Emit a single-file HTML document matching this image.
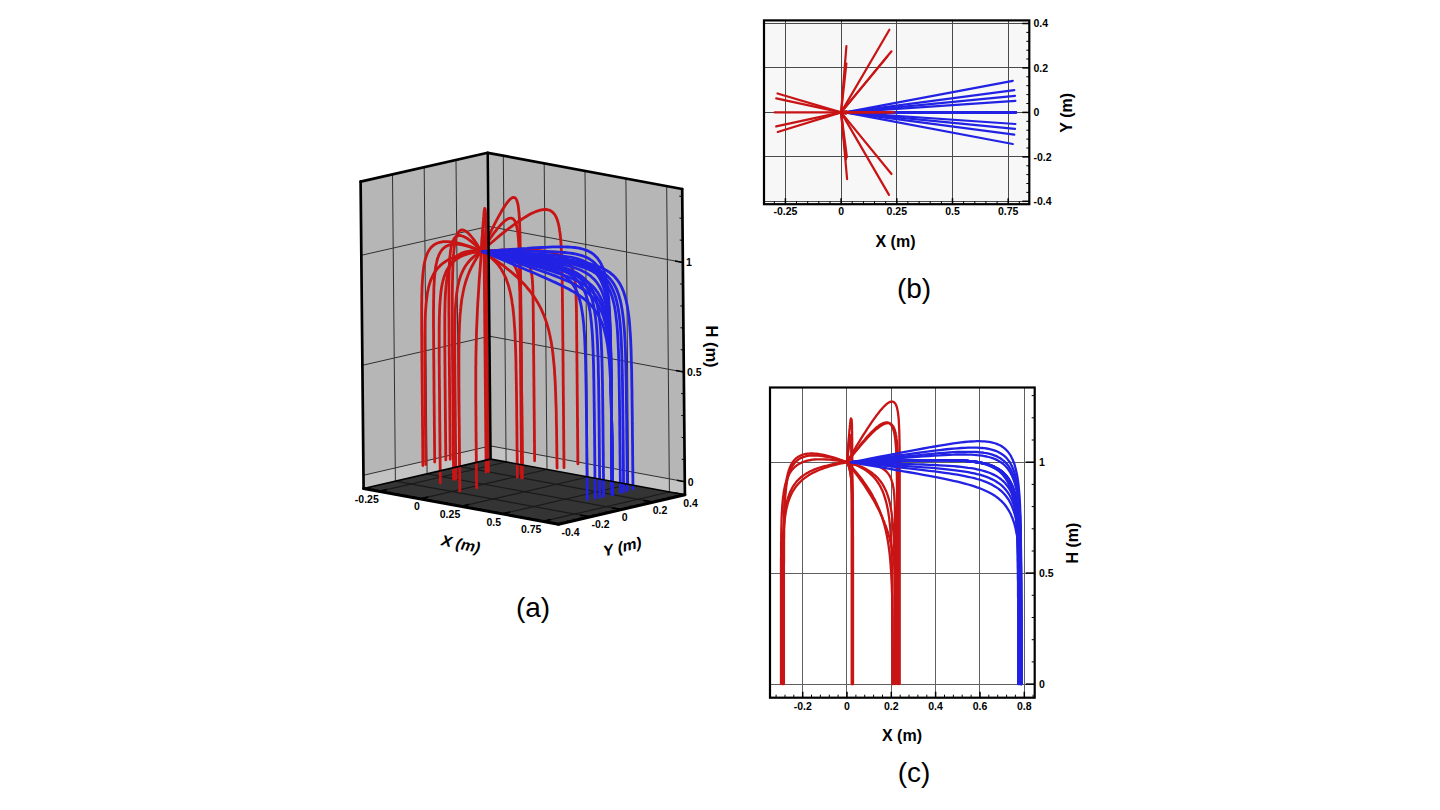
<!DOCTYPE html>
<html><head><meta charset="utf-8"><style>
html,body{margin:0;padding:0;background:#fff;}
svg{display:block;}
</style></head><body>
<svg width="1440" height="810" viewBox="0 0 1440 810">
<rect width="1440" height="810" fill="#fff"/>
<polygon points="363.6,488.5 490.6,459.1 487.7,152.8 360.6,181.6" fill="#b6b6b6" stroke="none" stroke-width="0" />
<polygon points="490.6,459.1 684.9,494.8 682.2,189.0 487.7,152.8" fill="#b6b6b6" stroke="none" stroke-width="0" />
<polygon points="363.6,488.5 490.6,459.1 490.4,445.9 363.4,475.3" fill="#c3c3c3" stroke="none" stroke-width="0" />
<polygon points="490.6,459.1 684.9,494.8 684.8,481.7 490.4,445.9" fill="#c3c3c3" stroke="none" stroke-width="0" />
<polygon points="363.6,488.5 558.5,524.2 684.9,494.8 490.6,459.1" fill="#343434" stroke="none" stroke-width="0" />
<line x1="395.4" y1="481.1" x2="392.5" y2="174.4" stroke="#303030" stroke-width="1" />
<line x1="427.1" y1="473.8" x2="424.2" y2="167.2" stroke="#303030" stroke-width="1" />
<line x1="458.9" y1="466.4" x2="456.0" y2="160.0" stroke="#303030" stroke-width="1" />
<line x1="506.1" y1="462.0" x2="503.3" y2="155.7" stroke="#303030" stroke-width="1" />
<line x1="547.0" y1="469.5" x2="544.2" y2="163.3" stroke="#303030" stroke-width="1" />
<line x1="587.8" y1="477.0" x2="585.0" y2="170.9" stroke="#303030" stroke-width="1" />
<line x1="628.6" y1="484.5" x2="625.9" y2="178.5" stroke="#303030" stroke-width="1" />
<line x1="669.4" y1="492.0" x2="666.7" y2="186.1" stroke="#303030" stroke-width="1" />
<line x1="363.4" y1="475.3" x2="490.4" y2="445.9" stroke="#303030" stroke-width="1" />
<line x1="490.4" y1="445.9" x2="684.8" y2="481.7" stroke="#303030" stroke-width="1" />
<line x1="362.4" y1="365.3" x2="489.4" y2="336.2" stroke="#303030" stroke-width="1" />
<line x1="489.4" y1="336.2" x2="683.9" y2="372.1" stroke="#303030" stroke-width="1" />
<line x1="361.3" y1="255.3" x2="488.4" y2="226.4" stroke="#303030" stroke-width="1" />
<line x1="488.4" y1="226.4" x2="682.9" y2="262.4" stroke="#303030" stroke-width="1" />
<line x1="379.1" y1="491.3" x2="506.1" y2="462.0" stroke="#1a1a1a" stroke-width="1.2" />
<line x1="420.1" y1="498.8" x2="547.0" y2="469.5" stroke="#1a1a1a" stroke-width="1.2" />
<line x1="461.1" y1="506.4" x2="587.8" y2="477.0" stroke="#1a1a1a" stroke-width="1.2" />
<line x1="502.0" y1="513.9" x2="628.6" y2="484.5" stroke="#1a1a1a" stroke-width="1.2" />
<line x1="543.0" y1="521.4" x2="669.4" y2="492.0" stroke="#1a1a1a" stroke-width="1.2" />
<line x1="395.4" y1="481.1" x2="590.2" y2="516.9" stroke="#1a1a1a" stroke-width="1.2" />
<line x1="427.1" y1="473.8" x2="621.8" y2="509.5" stroke="#1a1a1a" stroke-width="1.2" />
<line x1="458.9" y1="466.4" x2="653.4" y2="502.2" stroke="#1a1a1a" stroke-width="1.2" />
<polyline points="481.4,251.3 479.5,249.2 477.6,247.3 475.8,245.6 474.2,244.0 472.6,242.6 471.2,241.4 469.8,240.3 468.5,239.3 467.3,238.5 466.1,237.8 465.1,237.2 464.0,236.7 463.1,236.3 462.2,236.0 461.4,235.7 460.6,235.6 459.8,235.5 459.1,235.5 458.5,235.6 457.9,235.7 457.3,235.9 456.8,236.2 456.2,236.5 455.8,236.9 455.3,237.3 454.9,237.7 454.5,238.2 454.1,238.8 453.8,239.3 453.5,239.9 453.1,240.6 452.9,241.3 452.6,242.0 452.3,242.7 452.1,243.4 451.9,244.2 451.7,245.0 451.5,245.8 451.3,246.7 451.1,247.5 450.9,248.4 450.8,249.3 450.6,250.2 450.5,251.1 450.3,253.0 450.1,254.9 449.9,256.4 449.7,258.8 449.6,261.2 449.4,263.6 449.3,266.1 449.2,268.6 449.1,271.1 449.1,273.6 449.0,276.2 449.0,278.8 448.9,281.4 448.9,284.0 448.9,286.6 448.9,289.3 448.9,291.9 448.9,294.6 448.9,297.2 448.9,299.9 448.9,302.5 448.9,305.2 448.9,307.9 448.9,310.6 448.9,313.2 448.9,315.9 449.0,318.6 449.0,321.3 449.0,324.0 449.0,326.7 449.0,329.4 449.1,332.1 449.1,334.7 449.1,337.4 449.1,340.1 449.1,342.8 449.2,345.5 449.2,348.2 449.2,350.9 449.2,353.6 449.3,356.3 449.3,359.0 449.3,361.7 449.3,364.4 449.4,367.1 449.4,369.8 449.4,372.5 449.4,375.2 449.5,377.9 449.5,380.6 449.5,383.3 449.5,386.0 449.6,388.7 449.6,391.4 449.6,394.1 449.6,396.8 449.7,399.5 449.7,402.1 449.7,404.8 449.7,407.5 449.8,410.2 449.8,412.9 449.8,415.6 449.8,418.3 449.9,421.0 449.9,423.7 449.9,426.4 449.9,429.1 450.0,431.8 450.0,434.5 450.0,437.2 450.0,439.9 450.1,442.6 450.1,445.3 450.1,448.0 450.1,450.7 450.2,453.4 450.2,456.1 450.2,458.8 450.2,459.3" fill="none" stroke="#c81414" stroke-width="2.8" stroke-linejoin="round" stroke-linecap="round" />
<polyline points="481.4,251.3 477.8,249.8 474.4,248.4 471.3,247.2 468.3,246.2 465.4,245.2 462.8,244.4 460.3,243.7 457.9,243.1 455.7,242.6 453.6,242.3 451.7,242.0 449.9,241.8 448.1,241.6 446.5,241.6 445.0,241.6 443.5,241.7 442.2,241.9 440.9,242.1 439.7,242.3 438.6,242.7 437.6,243.0 436.6,243.5 435.6,243.9 434.8,244.4 433.9,245.0 433.2,245.5 432.4,246.2 431.8,246.8 431.1,247.5 430.5,248.2 429.9,248.9 429.4,249.7 428.9,250.4 428.4,251.3 428.0,252.1 427.6,252.9 427.2,253.8 426.8,254.7 426.5,255.6 426.2,256.5 425.9,257.4 425.6,258.3 425.3,259.3 425.1,260.3 424.8,261.2 424.4,263.2 424.0,265.2 423.6,268.2 423.3,270.6 423.0,273.1 422.8,275.6 422.6,278.1 422.4,280.7 422.3,283.3 422.1,285.9 422.0,288.5 422.0,291.1 421.9,293.7 421.8,296.4 421.8,299.0 421.8,301.7 421.7,304.3 421.7,307.0 421.7,309.7 421.7,312.3 421.7,315.0 421.7,317.7 421.7,320.4 421.7,323.1 421.7,325.7 421.7,328.4 421.7,331.1 421.7,333.8 421.8,336.5 421.8,339.2 421.8,341.9 421.8,344.6 421.8,347.3 421.8,350.0 421.9,352.7 421.9,355.4 421.9,358.1 421.9,360.8 422.0,363.5 422.0,366.1 422.0,368.8 422.0,371.5 422.1,374.2 422.1,376.9 422.1,379.6 422.1,382.3 422.2,385.0 422.2,387.7 422.2,390.4 422.2,393.1 422.3,395.8 422.3,398.5 422.3,401.2 422.3,403.9 422.4,406.6 422.4,409.3 422.4,412.0 422.4,414.7 422.5,417.4 422.5,420.1 422.5,422.8 422.5,425.5 422.6,428.2 422.6,430.9 422.6,433.6 422.6,436.3 422.7,439.0 422.7,441.7 422.7,444.4 422.7,447.1 422.8,449.8 422.8,452.5 422.8,455.2 422.8,457.9 422.9,460.6 422.9,463.3 422.9,465.6" fill="none" stroke="#c81414" stroke-width="2.8" stroke-linejoin="round" stroke-linecap="round" />
<polyline points="481.4,251.3 478.5,250.1 475.8,249.0 473.2,248.0 470.8,247.1 468.6,246.4 466.4,245.8 464.4,245.3 462.5,244.9 460.7,244.6 459.1,244.3 457.5,244.2 456.0,244.1 454.6,244.1 453.3,244.2 452.1,244.4 451.0,244.5 449.9,244.8 448.9,245.1 447.9,245.5 447.0,245.9 446.2,246.3 445.4,246.8 444.6,247.4 443.9,247.9 443.2,248.5 442.6,249.2 442.0,249.8 441.5,250.5 441.0,251.3 440.5,252.0 440.0,252.8 439.6,253.6 439.2,254.4 438.8,255.2 438.5,256.1 438.2,257.0 437.8,257.9 437.6,258.8 437.3,259.7 437.0,260.6 436.8,261.6 436.6,262.5 436.1,264.5 435.8,266.5 435.5,268.5 435.3,270.1 435.0,272.5 434.7,275.0 434.5,277.5 434.3,280.0 434.2,282.6 434.0,285.1 433.9,287.7 433.8,290.3 433.8,292.9 433.7,295.6 433.7,298.2 433.6,300.9 433.6,303.5 433.6,306.2 433.5,308.8 433.5,311.5 433.5,314.2 433.5,316.8 433.5,319.5 433.5,322.2 433.5,324.9 433.5,327.6 433.6,330.3 433.6,332.9 433.6,335.6 433.6,338.3 433.6,341.0 433.6,343.7 433.7,346.4 433.7,349.1 433.7,351.8 433.7,354.5 433.7,357.2 433.8,359.9 433.8,362.6 433.8,365.3 433.8,368.0 433.9,370.7 433.9,373.4 433.9,376.1 433.9,378.8 434.0,381.5 434.0,384.2 434.0,386.9 434.0,389.5 434.0,392.2 434.1,394.9 434.1,397.6 434.1,400.3 434.1,403.0 434.2,405.7 434.2,408.4 434.2,411.1 434.2,413.8 434.3,416.5 434.3,419.2 434.3,421.9 434.3,424.6 434.4,427.3 434.4,430.0 434.4,432.7 434.5,435.4 434.5,438.1 434.5,440.8 434.5,443.5 434.6,446.2 434.6,448.9 434.6,451.6 434.6,454.3 434.7,457.0 434.7,459.7 434.7,462.0" fill="none" stroke="#c81414" stroke-width="2.8" stroke-linejoin="round" stroke-linecap="round" />
<polyline points="481.4,251.3 479.2,251.1 477.1,250.9 475.1,250.9 473.3,250.9 471.5,251.0 469.9,251.1 468.3,251.3 466.9,251.6 465.5,251.9 464.2,252.3 463.0,252.7 461.9,253.1 460.8,253.6 459.8,254.2 458.9,254.7 458.0,255.3 457.2,256.0 456.4,256.6 455.7,257.3 455.0,258.1 454.3,258.8 453.7,259.6 453.1,260.4 452.6,261.2 452.1,262.1 451.6,262.9 451.2,263.8 450.7,264.7 450.4,265.6 450.0,266.5 449.6,267.5 449.3,268.4 449.0,269.4 448.7,270.3 448.4,271.3 448.2,272.3 448.0,273.3 447.7,274.3 447.5,275.4 447.3,276.4 447.1,277.4 447.0,278.5 446.8,279.5 446.7,280.6 446.5,281.7 446.4,282.7 446.3,283.8 446.2,284.9 446.0,286.0 445.8,289.0 445.6,291.6 445.4,294.2 445.3,296.8 445.2,299.4 445.1,302.0 445.0,304.7 445.0,307.3 444.9,310.0 444.9,312.6 444.8,315.3 444.8,318.0 444.8,320.6 444.8,323.3 444.8,326.0 444.8,328.7 444.8,331.3 444.8,334.0 444.8,336.7 444.8,339.4 444.8,342.1 444.8,344.8 444.8,347.5 444.8,350.2 444.9,352.9 444.9,355.6 444.9,358.3 444.9,360.9 444.9,363.6 445.0,366.3 445.0,369.0 445.0,371.7 445.0,374.4 445.0,377.1 445.1,379.8 445.1,382.5 445.1,385.2 445.1,387.9 445.2,390.6 445.2,393.3 445.2,396.0 445.2,398.7 445.3,401.4 445.3,404.1 445.3,406.8 445.3,409.5 445.4,412.2 445.4,414.9 445.4,417.6 445.4,420.3 445.5,423.0 445.5,425.7 445.5,428.4 445.5,431.1 445.6,433.8 445.6,436.4 445.6,439.1 445.6,441.8 445.7,444.5 445.7,447.2 445.7,449.9 445.7,452.6 445.8,455.3 445.8,458.0 445.8,459.9" fill="none" stroke="#c81414" stroke-width="2.8" stroke-linejoin="round" stroke-linecap="round" />
<polyline points="481.4,251.3 478.0,251.7 474.8,252.1 471.8,252.5 468.9,253.0 466.3,253.6 463.8,254.1 461.4,254.7 459.2,255.4 457.1,256.1 455.1,256.8 453.3,257.5 451.5,258.2 449.9,259.0 448.3,259.8 446.9,260.6 445.5,261.5 444.3,262.3 443.1,263.2 441.9,264.1 440.9,265.0 439.9,265.9 438.9,266.9 438.1,267.8 437.2,268.8 436.5,269.8 435.7,270.8 435.0,271.7 434.4,272.8 433.8,273.8 433.2,274.8 432.7,275.8 432.2,276.9 431.7,277.9 431.3,279.0 430.8,280.0 430.4,281.1 430.1,282.2 429.7,283.2 429.4,284.3 429.1,285.4 428.8,286.5 428.5,287.6 428.3,288.7 428.1,289.8 427.8,290.9 427.6,292.0 427.4,293.1 427.3,294.2 427.1,295.3 426.7,298.5 426.4,301.1 426.1,303.7 425.9,306.4 425.7,309.0 425.5,311.7 425.4,314.4 425.3,317.0 425.2,319.7 425.1,322.4 425.1,325.0 425.0,327.7 425.0,330.4 424.9,333.1 424.9,335.8 424.9,338.5 424.9,341.2 424.9,343.9 424.9,346.5 424.9,349.2 424.9,351.9 424.9,354.6 424.9,357.3 424.9,360.0 424.9,362.7 424.9,365.4 425.0,368.1 425.0,370.8 425.0,373.5 425.0,376.2 425.0,378.9 425.1,381.6 425.1,384.3 425.1,387.0 425.1,389.7 425.1,392.4 425.2,395.1 425.2,397.8 425.2,400.5 425.2,403.2 425.3,405.9 425.3,408.6 425.3,411.3 425.3,414.0 425.4,416.7 425.4,419.4 425.4,422.1 425.4,424.8 425.5,427.5 425.5,430.1 425.5,432.8 425.5,435.5 425.6,438.2 425.6,440.9 425.6,443.6 425.6,446.3 425.7,449.0 425.7,451.7 425.7,454.4 425.7,457.1 425.8,459.8 425.8,462.5 425.8,464.5" fill="none" stroke="#c81414" stroke-width="2.8" stroke-linejoin="round" stroke-linecap="round" />
<polyline points="481.4,251.3 481.7,246.9 481.9,242.9 482.2,239.2 482.4,235.7 482.6,232.6 482.7,229.7 482.9,227.0 483.1,224.6 483.2,222.4 483.4,220.4 483.5,218.6 483.7,216.9 483.8,215.5 483.9,214.2 484.0,213.0 484.2,211.1 484.4,209.7 484.7,208.4 485.2,209.3 485.4,210.7 485.5,212.5 485.6,213.9 485.6,215.4 485.7,217.0 485.7,218.6 485.8,220.4 485.8,221.8 485.9,224.0 485.9,226.3 486.0,228.7 486.0,231.1 486.0,233.6 486.1,236.1 486.1,238.7 486.2,241.3 486.2,243.9 486.2,246.6 486.3,249.3 486.3,252.0 486.3,254.7 486.4,257.4 486.4,260.1 486.4,262.9 486.4,265.7 486.5,268.4 486.5,271.2 486.5,274.0 486.6,276.8 486.6,279.6 486.6,282.4 486.6,285.2 486.7,288.0 486.7,290.8 486.7,293.6 486.7,296.4 486.8,299.2 486.8,302.0 486.8,304.8 486.8,307.7 486.9,310.5 486.9,313.3 486.9,316.1 487.0,318.9 487.0,321.7 487.0,324.6 487.0,327.4 487.1,330.2 487.1,333.0 487.1,335.9 487.1,338.7 487.2,341.5 487.2,344.3 487.2,347.1 487.2,350.0 487.3,352.8 487.3,355.6 487.3,358.4 487.3,361.2 487.4,364.1 487.4,366.9 487.4,369.7 487.5,372.5 487.5,375.4 487.5,378.2 487.5,381.0 487.6,383.8 487.6,386.6 487.6,389.5 487.6,392.3 487.7,395.1 487.7,397.9 487.7,400.8 487.7,403.6 487.8,406.4 487.8,409.2 487.8,412.0 487.8,414.9 487.9,417.7 487.9,420.5 487.9,423.3 487.9,426.2 488.0,429.0 488.0,431.8 488.0,434.6 488.1,437.4 488.1,440.3 488.1,443.1 488.1,445.9 488.2,448.7 488.2,451.6 488.2,454.4 488.2,457.2 488.3,460.0 488.3,462.8 488.3,465.7 488.3,468.5 488.4,471.3 488.4,471.5" fill="none" stroke="#c81414" stroke-width="2.8" stroke-linejoin="round" stroke-linecap="round" />
<polyline points="481.4,251.3 481.6,248.7 481.7,246.2 481.8,244.0 481.9,242.0 482.0,240.2 482.1,238.6 482.2,237.1 482.3,235.8 482.4,234.6 482.6,232.7 482.7,231.3 482.8,230.4 483.1,229.6 483.3,230.6 483.4,231.9 483.5,233.5 483.6,234.8 483.6,236.3 483.7,237.8 483.7,239.5 483.8,241.2 483.8,243.0 483.9,244.9 483.9,246.8 483.9,248.8 484.0,251.7 484.0,254.2 484.1,256.7 484.1,259.3 484.1,261.8 484.2,264.5 484.2,267.1 484.2,269.8 484.3,272.5 484.3,275.2 484.3,277.9 484.3,280.6 484.4,283.4 484.4,286.1 484.4,288.9 484.5,291.7 484.5,294.5 484.5,297.3 484.5,300.0 484.6,302.8 484.6,305.6 484.6,308.4 484.6,311.3 484.7,314.1 484.7,316.9 484.7,319.7 484.7,322.5 484.8,325.3 484.8,328.1 484.8,330.9 484.9,333.8 484.9,336.6 484.9,339.4 484.9,342.2 485.0,345.0 485.0,347.9 485.0,350.7 485.0,353.5 485.1,356.3 485.1,359.1 485.1,362.0 485.1,364.8 485.2,367.6 485.2,370.4 485.2,373.2 485.2,376.1 485.3,378.9 485.3,381.7 485.3,384.5 485.4,387.4 485.4,390.2 485.4,393.0 485.4,395.8 485.5,398.6 485.5,401.5 485.5,404.3 485.5,407.1 485.6,409.9 485.6,412.8 485.6,415.6 485.6,418.4 485.7,421.2 485.7,424.0 485.7,426.9 485.7,429.7 485.8,432.5 485.8,435.3 485.8,438.2 485.9,441.0 485.9,443.8 485.9,446.6 485.9,449.4 486.0,452.3 486.0,455.1 486.0,457.9 486.0,460.7 486.1,463.5 486.1,466.4 486.1,469.2 486.1,471.9" fill="none" stroke="#c81414" stroke-width="2.8" stroke-linejoin="round" stroke-linecap="round" />
<polyline points="481.4,251.3 483.7,246.4 485.8,241.9 487.9,237.7 489.7,233.8 491.5,230.2 493.2,226.8 494.8,223.7 496.2,220.9 497.6,218.3 498.9,215.9 500.2,213.7 501.3,211.6 502.4,209.8 503.4,208.1 504.4,206.6 505.3,205.2 506.2,204.0 507.0,202.9 507.7,201.9 508.5,201.0 509.1,200.3 509.8,199.6 510.4,199.0 510.9,198.6 511.9,197.9 512.8,197.5 513.7,197.4 514.7,197.6 515.6,198.3 516.3,199.3 516.7,200.2 517.1,201.2 517.4,202.3 517.7,203.5 518.0,204.7 518.3,206.7 518.5,208.3 518.7,210.1 518.9,211.9 519.1,213.8 519.2,215.7 519.3,217.7 519.5,219.7 519.6,221.7 519.6,223.7 519.7,225.8 519.8,227.9 519.9,230.0 519.9,232.1 520.0,234.3 520.0,236.4 520.1,238.6 520.1,240.8 520.1,243.0 520.2,245.1 520.2,247.3 520.2,249.5 520.3,251.7 520.3,253.9 520.3,256.1 520.4,258.4 520.4,260.6 520.4,262.8 520.4,265.0 520.5,267.2 520.5,269.4 520.5,271.6 520.5,273.9 520.6,276.1 520.6,278.3 520.6,280.5 520.6,282.8 520.6,285.0 520.7,287.2 520.7,289.4 520.7,291.7 520.7,293.9 520.8,296.1 520.8,298.3 520.8,300.6 520.8,302.8 520.8,305.0 520.9,307.2 520.9,309.5 520.9,311.7 520.9,313.9 520.9,316.1 521.0,318.4 521.0,320.6 521.0,322.8 521.0,325.0 521.0,327.3 521.1,329.5 521.1,331.7 521.1,334.0 521.1,336.2 521.1,338.4 521.2,340.6 521.2,342.9 521.2,345.1 521.2,347.3 521.2,349.5 521.3,351.8 521.3,354.0 521.3,356.2 521.3,358.4 521.4,360.7 521.4,362.9 521.4,365.1 521.4,367.3 521.4,369.6 521.5,371.8 521.5,374.0 521.5,376.3 521.5,378.5 521.5,380.7 521.6,382.9 521.6,385.2 521.6,387.4 521.6,389.6 521.6,391.8 521.7,394.1 521.7,396.3 521.7,398.5 521.7,400.7 521.7,403.0 521.8,405.2 521.8,407.4 521.8,409.6 521.8,411.9 521.8,414.1 521.9,416.3 521.9,418.5 521.9,420.8 521.9,423.0 521.9,425.2 522.0,427.5 522.0,429.7 522.0,431.9 522.0,434.1 522.0,436.4 522.1,438.6 522.1,440.8 522.1,443.0 522.1,445.3 522.2,447.5 522.2,449.7 522.2,451.9 522.2,454.2 522.2,456.4 522.3,458.6 522.3,460.8 522.3,463.1 522.3,465.3 522.3,467.5 522.4,469.7 522.4,472.0 522.4,474.2 522.4,476.4 522.4,478.1" fill="none" stroke="#c81414" stroke-width="2.8" stroke-linejoin="round" stroke-linecap="round" />
<polyline points="481.4,251.3 483.7,247.9 485.8,244.7 487.8,241.8 489.6,239.1 491.4,236.6 493.0,234.4 494.5,232.3 496.0,230.5 497.4,228.7 498.7,227.2 499.9,225.8 501.0,224.6 502.1,223.5 503.1,222.5 504.1,221.6 504.9,220.8 505.8,220.2 506.6,219.6 507.3,219.2 508.0,218.8 509.3,218.3 510.5,218.1 511.5,218.2 512.4,218.5 513.2,219.0 513.9,219.6 514.5,220.5 515.0,221.4 515.5,222.5 516.0,223.7 516.4,225.0 516.7,226.4 517.0,227.9 517.3,229.4 517.5,230.6 517.8,232.5 518.0,234.4 518.2,236.5 518.4,238.5 518.5,240.6 518.7,242.8 518.8,245.0 518.9,247.2 519.0,249.4 519.1,251.7 519.2,253.9 519.2,256.2 519.3,258.5 519.4,260.8 519.4,263.1 519.5,265.5 519.5,267.8 519.6,270.1 519.6,272.5 519.6,274.8 519.7,277.2 519.7,279.6 519.7,281.9 519.8,284.3 519.8,286.6 519.8,289.0 519.9,291.4 519.9,293.8 519.9,296.1 519.9,298.5 520.0,300.9 520.0,303.3 520.0,305.6 520.0,308.0 520.1,310.4 520.1,312.8 520.1,315.2 520.1,317.6 520.1,319.9 520.2,322.3 520.2,324.7 520.2,327.1 520.2,329.5 520.3,331.8 520.3,334.2 520.3,336.6 520.3,339.0 520.4,341.4 520.4,343.8 520.4,346.1 520.4,348.5 520.4,350.9 520.5,353.3 520.5,355.7 520.5,358.1 520.5,360.4 520.5,362.8 520.6,365.2 520.6,367.6 520.6,370.0 520.6,372.4 520.7,374.7 520.7,377.1 520.7,379.5 520.7,381.9 520.7,384.3 520.8,386.6 520.8,389.0 520.8,391.4 520.8,393.8 520.9,396.2 520.9,398.6 520.9,400.9 520.9,403.3 520.9,405.7 521.0,408.1 521.0,410.5 521.0,412.9 521.0,415.2 521.1,417.6 521.1,420.0 521.1,422.4 521.1,424.8 521.1,427.2 521.2,429.5 521.2,431.9 521.2,434.3 521.2,436.7 521.3,439.1 521.3,441.4 521.3,443.8 521.3,446.2 521.3,448.6 521.4,451.0 521.4,453.4 521.4,455.7 521.4,458.1 521.4,460.5 521.5,462.9 521.5,465.3 521.5,467.7 521.5,470.0 521.6,472.4 521.6,474.8 521.6,477.2 521.6,477.9" fill="none" stroke="#c81414" stroke-width="2.8" stroke-linejoin="round" stroke-linecap="round" />
<polyline points="481.4,251.3 483.5,252.4 485.4,253.6 487.2,254.7 488.8,255.9 490.4,257.2 491.9,258.4 493.3,259.7 494.6,261.0 495.9,262.3 497.1,263.6 498.2,264.9 499.2,266.3 500.2,267.6 501.1,269.0 501.9,270.4 502.8,271.8 503.5,273.3 504.3,274.7 504.9,276.1 505.6,277.6 506.2,279.0 506.7,280.5 507.3,282.0 507.8,283.5 508.3,284.9 508.7,286.4 509.1,287.9 509.5,289.5 509.9,291.0 510.3,292.5 510.6,294.0 510.9,295.5 511.2,297.1 511.5,298.6 511.8,300.1 512.0,301.7 512.2,303.2 512.5,304.8 512.7,306.3 512.9,307.9 513.1,309.5 513.2,311.0 513.4,312.6 513.6,314.1 513.7,315.7 513.9,317.3 514.0,318.9 514.1,320.4 514.2,322.0 514.5,326.5 514.8,330.1 515.0,333.8 515.1,337.5 515.3,341.2 515.4,344.9 515.6,348.6 515.7,352.4 515.8,356.1 515.9,359.8 516.0,363.5 516.0,367.2 516.1,371.0 516.2,374.7 516.2,378.4 516.3,382.1 516.4,385.9 516.4,389.6 516.5,393.3 516.5,397.0 516.6,400.8 516.6,404.5 516.7,408.2 516.7,411.9 516.7,415.7 516.8,419.4 516.8,423.1 516.9,426.9 516.9,430.6 516.9,434.3 517.0,438.1 517.0,441.8 517.0,445.5 517.1,449.2 517.1,453.0 517.2,456.7 517.2,460.4 517.2,464.2 517.3,467.9 517.3,471.6 517.3,475.4 517.4,477.1" fill="none" stroke="#c81414" stroke-width="2.8" stroke-linejoin="round" stroke-linecap="round" />
<polyline points="481.4,251.3 486.2,247.1 490.7,243.3 494.9,239.7 498.8,236.4 502.5,233.4 506.0,230.6 509.3,228.1 512.4,225.8 515.4,223.7 518.1,221.7 520.7,220.0 523.1,218.4 525.4,217.0 527.5,215.7 529.5,214.6 531.4,213.6 533.2,212.7 534.9,212.0 536.5,211.3 538.0,210.8 539.4,210.4 540.7,210.0 542.0,209.8 543.1,209.6 544.2,209.5 545.3,209.5 546.2,209.5 547.2,209.6 548.0,209.8 548.8,210.0 549.6,210.3 550.3,210.6 551.0,211.0 552.2,211.8 553.3,212.9 554.3,214.0 555.2,215.3 555.9,216.7 556.6,218.2 557.2,219.8 557.8,221.5 558.4,223.9 558.9,226.0 559.3,228.2 559.6,230.4 560.0,232.7 560.2,235.0 560.5,237.4 560.7,239.8 560.9,242.2 561.0,244.6 561.2,247.1 561.3,249.6 561.4,252.1 561.5,254.6 561.6,257.1 561.7,259.7 561.8,262.2 561.9,264.8 561.9,267.3 562.0,269.9 562.0,272.4 562.1,275.0 562.1,277.6 562.2,280.2 562.2,282.8 562.2,285.3 562.3,287.9 562.3,290.5 562.4,293.1 562.4,295.7 562.4,298.3 562.4,300.9 562.5,303.5 562.5,306.1 562.5,308.7 562.6,311.3 562.6,313.9 562.6,316.5 562.6,319.1 562.7,321.7 562.7,324.3 562.7,326.9 562.7,329.5 562.8,332.1 562.8,334.7 562.8,337.3 562.8,339.9 562.9,342.5 562.9,345.1 562.9,347.7 562.9,350.3 563.0,352.9 563.0,355.5 563.0,358.1 563.0,360.7 563.1,363.3 563.1,365.9 563.1,368.5 563.1,371.1 563.1,373.7 563.2,376.3 563.2,378.9 563.2,381.5 563.2,384.1 563.3,386.7 563.3,389.3 563.3,391.9 563.3,394.5 563.4,397.1 563.4,399.7 563.4,402.3 563.4,404.9 563.5,407.5 563.5,410.1 563.5,412.7 563.5,415.3 563.6,417.9 563.6,420.5 563.6,423.1 563.6,425.7 563.6,428.3 563.7,430.9 563.7,433.5 563.7,436.1 563.7,438.7 563.8,441.3 563.8,443.9 563.8,446.5 563.8,449.1 563.9,451.7 563.9,454.3 563.9,456.9 563.9,459.5 564.0,462.1 564.0,464.7 564.0,467.3 564.0,467.7" fill="none" stroke="#c81414" stroke-width="2.8" stroke-linejoin="round" stroke-linecap="round" />
<polyline points="481.4,251.3 485.9,254.0 490.0,256.6 493.9,259.1 497.6,261.6 501.0,264.0 504.3,266.4 507.3,268.8 510.2,271.1 512.9,273.4 515.4,275.6 517.8,277.8 520.1,280.0 522.2,282.2 524.2,284.3 526.1,286.4 527.8,288.5 529.5,290.5 531.0,292.5 532.5,294.6 533.9,296.6 535.2,298.5 536.4,300.5 537.6,302.4 538.7,304.4 539.7,306.3 540.7,308.2 541.6,310.1 542.4,311.9 543.2,313.8 544.0,315.6 544.7,317.5 545.4,319.3 546.0,321.2 546.6,323.0 547.2,324.8 547.7,326.6 548.2,328.4 548.7,330.2 549.1,332.0 549.5,333.8 549.9,335.5 550.3,337.3 550.6,339.1 551.0,340.8 551.3,342.6 551.6,344.3 551.8,346.1 552.1,347.8 552.4,349.6 553.0,354.5 553.4,358.5 553.8,362.5 554.2,366.6 554.5,370.6 554.7,374.6 555.0,378.6 555.2,382.5 555.4,386.5 555.5,390.5 555.7,394.5 555.8,398.4 555.9,402.4 556.1,406.4 556.2,410.3 556.3,414.3 556.3,418.3 556.4,422.2 556.5,426.2 556.6,430.1 556.6,434.1 556.7,438.0 556.7,442.0 556.8,445.9 556.8,449.9 556.9,453.8 556.9,457.8 557.0,461.7 557.0,465.7 557.1,468.0" fill="none" stroke="#c81414" stroke-width="2.8" stroke-linejoin="round" stroke-linecap="round" />
<polyline points="481.4,251.3 487.1,250.9 492.3,250.5 497.3,250.3 502.0,250.0 506.4,249.8 510.5,249.7 514.4,249.6 518.1,249.6 521.5,249.6 524.7,249.6 527.8,249.7 530.6,249.8 533.3,250.0 535.9,250.1 538.2,250.3 540.5,250.6 542.6,250.8 544.6,251.1 546.4,251.4 548.2,251.7 549.9,252.1 551.4,252.4 552.9,252.8 554.2,253.2 555.5,253.6 556.8,254.0 557.9,254.5 559.0,254.9 560.0,255.4 560.9,255.9 561.8,256.4 562.7,256.9 563.5,257.4 564.2,257.9 564.9,258.4 565.6,259.0 566.2,259.5 566.8,260.0 567.4,260.6 568.4,261.7 569.3,262.9 570.1,264.0 570.8,265.2 571.4,266.4 572.1,268.1 572.7,269.6 573.2,271.0 573.6,272.5 573.9,273.9 574.2,275.4 574.5,276.9 574.7,278.4 574.9,279.9 575.1,281.4 575.3,282.9 575.4,284.4 575.5,285.9 575.7,287.5 575.8,289.0 575.8,290.5 575.9,292.0 576.0,293.5 576.0,295.1 576.1,296.6 576.1,298.1 576.2,299.7 576.2,301.2 576.3,302.7 576.3,304.3 576.3,305.8 576.4,307.3 576.4,308.9 576.4,310.4 576.4,311.9 576.5,313.5 576.5,315.0 576.5,316.5 576.5,318.1 576.5,319.6 576.6,321.1 576.6,322.7 576.6,324.2 576.6,325.7 576.6,327.3 576.6,328.8 576.7,330.3 576.7,331.9 576.7,333.4 576.7,334.9 576.7,336.5 576.7,338.0 576.7,339.5 576.8,341.1 576.8,342.6 576.8,344.1 576.8,345.7 576.8,347.2 576.8,348.8 576.8,350.3 576.9,351.8 576.9,353.4 576.9,354.9 576.9,356.4 576.9,358.0 576.9,359.5 576.9,361.0 577.0,362.6 577.0,364.1 577.0,365.6 577.0,367.2 577.0,368.7 577.0,370.2 577.0,371.8 577.1,373.3 577.1,374.8 577.1,376.4 577.1,377.9 577.1,379.5 577.1,381.0 577.1,382.5 577.2,384.1 577.2,385.6 577.2,387.1 577.2,388.7 577.2,390.2 577.2,391.7 577.2,393.3 577.2,394.8 577.3,396.3 577.3,397.9 577.3,399.4 577.3,400.9 577.3,402.5 577.3,404.0 577.3,405.5 577.4,407.1 577.4,408.6 577.4,410.1 577.4,411.7 577.4,413.2 577.4,414.8 577.4,416.3 577.5,417.8 577.5,419.4 577.5,420.9 577.5,422.4 577.5,424.0 577.5,425.5 577.5,427.0 577.6,428.6 577.6,430.1 577.6,431.6 577.6,433.2 577.6,434.7 577.6,436.2 577.6,437.8 577.7,439.3 577.7,440.8 577.7,442.4 577.7,443.9 577.7,445.4 577.7,447.0 577.7,448.5 577.8,450.0 577.8,451.6 577.8,453.1 577.8,454.7 577.8,456.2 577.8,457.7 577.8,459.3 577.8,460.8 577.9,462.3 577.9,463.9 577.9,463.9" fill="none" stroke="#c81414" stroke-width="2.8" stroke-linejoin="round" stroke-linecap="round" />
<polyline points="481.4,251.3 481.1,256.0 480.7,260.5 480.4,264.8 480.1,268.9 479.8,272.9 479.5,276.7 479.2,280.4 479.0,283.9 478.8,287.3 478.6,290.6 478.4,293.8 478.2,296.8 478.0,299.8 477.8,302.6 477.7,305.4 477.5,308.1 477.4,310.7 477.3,313.2 477.2,315.7 477.1,318.1 477.0,320.4 476.9,322.7 476.8,324.9 476.7,327.1 476.6,329.2 476.5,331.2 476.5,333.3 476.4,335.3 476.4,337.2 476.3,339.1 476.3,341.0 476.2,342.9 476.2,344.7 476.1,346.5 476.1,348.2 476.1,350.0 476.0,351.7 476.0,353.4 476.0,355.0 475.9,356.7 475.9,358.3 475.9,360.0 475.9,361.6 475.9,363.1 475.9,364.7 475.8,366.3 475.8,367.8 475.8,369.4 475.8,370.9 475.8,375.1 475.8,378.6 475.8,382.0 475.8,385.4 475.8,388.7 475.8,392.0 475.8,395.3 475.8,398.6 475.8,401.8 475.9,405.1 475.9,408.3 475.9,411.5 475.9,414.7 476.0,417.9 476.0,421.1 476.0,424.3 476.0,427.4 476.0,430.6 476.1,433.8 476.1,436.9 476.1,440.1 476.2,443.3 476.2,446.4 476.2,449.6 476.2,452.7 476.3,455.8 476.3,459.0 476.3,462.1 476.3,465.3 476.4,468.4 476.4,471.6 476.4,474.7 476.5,477.8 476.5,481.0 476.5,484.1 476.6,487.3 476.6,487.9" fill="none" stroke="#c81414" stroke-width="2.8" stroke-linejoin="round" stroke-linecap="round" />
<polyline points="481.4,251.3 480.1,253.2 478.7,255.0 477.5,256.8 476.3,258.6 475.2,260.4 474.2,262.1 473.3,263.8 472.4,265.5 471.5,267.2 470.7,268.9 469.9,270.5 469.2,272.1 468.6,273.7 467.9,275.3 467.4,276.9 466.8,278.4 466.3,280.0 465.8,281.5 465.4,283.0 464.9,284.5 464.5,286.0 464.1,287.5 463.8,289.0 463.5,290.5 463.1,292.0 462.9,293.4 462.6,294.9 462.3,296.3 462.1,297.8 461.8,299.2 461.6,300.6 461.4,302.1 461.3,303.5 461.1,304.9 460.9,306.3 460.8,307.7 460.6,309.1 460.5,310.5 460.4,311.9 460.2,313.3 460.1,314.7 460.0,316.1 459.9,317.5 459.8,318.9 459.8,320.3 459.7,321.6 459.6,323.0 459.5,324.4 459.5,325.8 459.3,329.6 459.2,332.8 459.1,336.0 459.1,339.2 459.0,342.4 459.0,345.5 458.9,348.7 458.9,351.9 458.9,355.0 458.9,358.2 458.9,361.3 458.9,364.5 458.9,367.6 458.9,370.8 458.9,373.9 458.9,377.1 458.9,380.2 458.9,383.3 458.9,386.5 459.0,389.6 459.0,392.8 459.0,395.9 459.0,399.1 459.0,402.2 459.1,405.3 459.1,408.5 459.1,411.6 459.1,414.8 459.2,417.9 459.2,421.0 459.2,424.2 459.3,427.3 459.3,430.4 459.3,433.6 459.3,436.7 459.4,439.9 459.4,443.0 459.4,446.1 459.5,449.3 459.5,452.4 459.5,455.6 459.5,458.7 459.6,461.8 459.6,465.0 459.6,468.1 459.7,471.2 459.7,474.4 459.7,477.5 459.7,480.7 459.8,483.8 459.8,486.9 459.8,490.1 459.8,491.1" fill="none" stroke="#c81414" stroke-width="2.8" stroke-linejoin="round" stroke-linecap="round" />
<polyline points="481.4,251.3 484.5,251.2 487.4,251.2 490.1,251.2 492.6,251.3 495.0,251.3 497.2,251.4 499.3,251.6 501.3,251.7 503.2,251.9 504.9,252.1 506.6,252.3 508.1,252.5 509.6,252.8 511.0,253.1 512.3,253.3 513.5,253.6 514.6,254.0 515.7,254.3 516.7,254.6 517.7,255.0 518.6,255.3 519.4,255.7 520.2,256.1 521.0,256.5 521.7,256.9 522.3,257.3 523.0,257.7 523.5,258.1 524.6,259.0 525.6,259.9 526.4,260.8 527.1,261.7 527.8,262.7 528.4,263.6 528.9,264.6 529.4,265.6 529.8,266.6 530.1,267.6 530.7,269.6 531.0,270.8 531.3,272.0 531.5,273.2 531.7,274.4 531.9,275.6 532.0,276.8 532.2,278.1 532.3,279.3 532.4,280.5 532.5,281.8 532.5,283.0 532.6,284.3 532.7,285.5 532.8,288.0 532.9,290.5 532.9,293.0 533.0,295.5 533.1,298.0 533.1,300.5 533.1,303.0 533.2,305.5 533.2,308.0 533.2,310.5 533.3,313.0 533.3,315.5 533.3,318.0 533.3,320.5 533.4,323.1 533.4,325.6 533.4,328.1 533.4,330.6 533.5,333.1 533.5,335.6 533.5,338.1 533.5,340.6 533.5,343.1 533.6,345.6 533.6,348.1 533.6,350.6 533.6,353.1 533.7,355.7 533.7,358.2 533.7,360.7 533.7,363.2 533.8,365.7 533.8,368.2 533.8,370.7 533.8,373.2 533.8,375.7 533.9,378.2 533.9,380.7 533.9,383.2 533.9,385.7 534.0,388.2 534.0,390.7 534.0,393.3 534.0,395.8 534.1,398.3 534.1,400.8 534.1,403.3 534.1,405.8 534.1,408.3 534.2,410.8 534.2,413.3 534.2,415.8 534.2,418.3 534.3,420.8 534.3,423.3 534.3,425.8 534.3,428.3 534.4,430.9 534.4,433.4 534.4,435.9 534.4,438.4 534.4,440.9 534.5,443.4 534.5,445.9 534.5,448.4 534.5,450.9 534.6,453.4 534.6,455.9 534.6,458.4 534.6,460.8" fill="none" stroke="#c81414" stroke-width="2.8" stroke-linejoin="round" stroke-linecap="round" />
<polyline points="481.4,251.3 483.8,251.5 485.9,251.8 488.0,252.1 489.9,252.4 491.7,252.8 493.4,253.1 495.0,253.5 496.5,253.9 498.0,254.3 499.3,254.7 500.5,255.2 501.7,255.6 502.8,256.1 503.9,256.6 504.9,257.1 505.8,257.6 506.7,258.1 507.5,258.6 508.3,259.1 509.0,259.7 509.7,260.2 510.3,260.8 510.9,261.3 511.5,261.9 512.0,262.5 512.5,263.0 513.0,263.6 513.9,264.8 514.6,266.0 515.3,267.2 515.9,268.5 516.5,269.7 516.9,271.0 517.4,272.2 517.7,273.5 518.1,274.8 518.4,276.1 518.6,277.4 519.0,279.2 519.2,280.8 519.4,282.3 519.6,283.8 519.7,285.4 519.9,286.9 520.0,288.5 520.1,290.0 520.2,291.6 520.3,293.1 520.3,294.7 520.4,296.2 520.5,297.8 520.5,299.4 520.6,300.9 520.6,302.5 520.6,304.0 520.7,305.6 520.7,307.2 520.7,308.7 520.8,310.3 520.8,311.9 520.8,313.4 520.8,315.0 520.9,316.6 520.9,318.1 520.9,319.7 520.9,321.3 521.0,322.8 521.0,324.4 521.0,326.0 521.0,327.5 521.0,329.1 521.0,330.7 521.1,332.2 521.1,333.8 521.1,335.4 521.1,336.9 521.1,338.5 521.1,340.1 521.1,341.6 521.2,343.2 521.2,344.8 521.2,346.3 521.2,347.9 521.2,349.5 521.2,351.0 521.3,352.6 521.3,354.2 521.3,355.7 521.3,357.3 521.3,358.9 521.3,360.4 521.3,362.0 521.4,363.6 521.4,365.1 521.4,366.7 521.4,368.3 521.4,369.8 521.4,371.4 521.4,373.0 521.5,374.5 521.5,376.1 521.5,377.7 521.5,379.2 521.5,380.8 521.5,382.4 521.5,383.9 521.6,385.5 521.6,387.1 521.6,388.6 521.6,390.2 521.6,391.8 521.6,393.3 521.6,394.9 521.7,396.5 521.7,398.1 521.7,399.6 521.7,401.2 521.7,402.8 521.7,404.3 521.7,405.9 521.8,407.5 521.8,409.0 521.8,410.6 521.8,412.2 521.8,413.7 521.8,415.3 521.8,416.9 521.9,418.4 521.9,420.0 521.9,421.6 521.9,423.1 521.9,424.7 521.9,426.3 521.9,427.8 522.0,429.4 522.0,431.0 522.0,432.5 522.0,434.1 522.0,435.7 522.0,437.2 522.0,438.8 522.1,440.4 522.1,441.9 522.1,443.5 522.1,445.1 522.1,446.6 522.1,448.2 522.1,449.8 522.2,451.3 522.2,452.9 522.2,454.5 522.2,456.0 522.2,457.6 522.2,459.2 522.2,460.7 522.3,462.3 522.3,463.6" fill="none" stroke="#c81414" stroke-width="2.8" stroke-linejoin="round" stroke-linecap="round" />
<polyline points="481.4,251.3 478.9,251.6 476.5,251.9 474.2,252.3 472.1,252.7 470.1,253.2 468.2,253.7 466.4,254.3 464.7,254.9 463.1,255.5 461.7,256.1 460.3,256.8 459.0,257.5 457.8,258.3 456.6,259.0 455.5,259.8 454.5,260.6 453.5,261.5 452.6,262.3 451.8,263.2 451.0,264.1 450.2,265.0 449.5,265.9 448.9,266.8 448.3,267.8 447.7,268.7 447.1,269.7 446.6,270.7 446.1,271.7 445.7,272.7 445.3,273.7 444.9,274.7 444.5,275.7 444.1,276.7 443.8,277.8 443.5,278.8 443.2,279.9 442.9,281.0 442.7,282.0 442.4,283.1 442.2,284.2 442.0,285.3 441.8,286.3 441.6,287.4 441.4,288.5 441.3,289.6 441.1,290.7 441.0,291.8 440.7,294.1 440.4,297.2 440.2,299.8 440.0,302.5 439.8,305.1 439.7,307.7 439.6,310.4 439.5,313.1 439.4,315.7 439.3,318.4 439.3,321.1 439.3,323.7 439.2,326.4 439.2,329.1 439.2,331.8 439.2,334.5 439.2,337.2 439.2,339.8 439.2,342.5 439.2,345.2 439.2,347.9 439.2,350.6 439.2,353.3 439.2,356.0 439.2,358.7 439.2,361.4 439.2,364.1 439.3,366.8 439.3,369.5 439.3,372.2 439.3,374.9 439.3,377.6 439.4,380.3 439.4,383.0 439.4,385.7 439.4,388.4 439.5,391.1 439.5,393.8 439.5,396.5 439.5,399.2 439.6,401.9 439.6,404.6 439.6,407.3 439.6,410.0 439.7,412.7 439.7,415.4 439.7,418.1 439.7,420.8 439.8,423.5 439.8,426.2 439.8,428.9 439.8,431.6 439.9,434.3 439.9,437.0 439.9,439.7 439.9,442.4 440.0,445.1 440.0,447.7 440.0,450.4 440.0,453.1 440.1,455.8 440.1,458.5 440.1,461.2 440.1,463.9 440.2,466.6 440.2,469.3 440.2,472.0 440.2,474.7 440.3,477.4 440.3,480.1 440.3,482.8" fill="none" stroke="#c81414" stroke-width="2.8" stroke-linejoin="round" stroke-linecap="round" />
<polyline points="481.4,251.3 479.6,248.4 477.9,245.7 476.4,243.3 474.9,241.2 473.4,239.2 472.1,237.5 470.9,236.0 469.7,234.7 468.6,233.6 467.6,232.6 466.6,231.8 465.7,231.2 464.8,230.7 464.0,230.3 463.3,230.1 462.5,230.0 461.9,230.0 460.7,230.2 459.6,230.9 458.6,231.9 457.8,233.2 457.1,234.7 456.7,235.5 456.4,236.4 456.1,237.4 455.9,238.4 455.6,239.4 455.4,240.5 455.1,241.7 454.9,242.8 454.7,244.0 454.5,245.3 454.4,246.5 454.2,247.8 454.1,249.1 453.9,250.5 453.8,251.9 453.7,253.2 453.5,254.7 453.4,256.1 453.3,257.5 453.2,259.0 453.2,260.5 453.1,262.0 452.9,266.3 452.8,270.0 452.6,273.7 452.6,277.4 452.5,281.2 452.4,285.0 452.4,288.9 452.3,292.8 452.3,296.7 452.3,300.6 452.3,304.6 452.3,308.6 452.3,312.6 452.3,316.6 452.3,320.6 452.3,324.6 452.3,328.6 452.4,332.7 452.4,336.7 452.4,340.8 452.4,344.8 452.5,348.9 452.5,352.9 452.5,357.0 452.6,361.0 452.6,365.1 452.6,369.2 452.7,373.2 452.7,377.3 452.7,381.4 452.8,385.5 452.8,389.5 452.8,393.6 452.9,397.7 452.9,401.7 452.9,405.8 453.0,409.9 453.0,414.0 453.1,418.1 453.1,422.1 453.1,426.2 453.2,430.3 453.2,434.4 453.2,438.4 453.3,442.5 453.3,446.6 453.4,450.7 453.4,454.7 453.4,458.8 453.5,462.9 453.5,467.0 453.5,471.1 453.6,475.1 453.6,479.2 453.6,479.4" fill="none" stroke="#c81414" stroke-width="2.8" stroke-linejoin="round" stroke-linecap="round" />
<polyline points="481.4,251.3 479.8,252.3 478.3,253.3 476.8,254.3 475.5,255.3 474.2,256.3 473.0,257.3 471.9,258.4 470.8,259.4 469.8,260.5 468.9,261.5 468.0,262.6 467.1,263.7 466.4,264.7 465.6,265.8 464.9,266.9 464.3,268.0 463.7,269.1 463.1,270.2 462.6,271.3 462.1,272.4 461.6,273.5 461.2,274.6 460.7,275.7 460.4,276.8 460.0,277.9 459.6,279.1 459.3,280.2 459.0,281.3 458.7,282.4 458.5,283.6 458.2,284.7 458.0,285.8 457.7,287.0 457.5,288.1 457.3,289.2 457.2,290.4 457.0,291.5 456.8,292.6 456.7,293.8 456.5,294.9 456.4,296.1 456.3,297.2 456.2,298.4 456.1,299.5 455.9,301.8 455.7,304.1 455.6,305.8 455.4,308.5 455.3,311.2 455.2,313.8 455.1,316.5 455.0,319.2 455.0,321.9 454.9,324.6 454.9,327.3 454.8,330.0 454.8,332.7 454.8,335.4 454.8,338.1 454.8,340.8 454.8,343.5 454.8,346.2 454.8,348.9 454.8,351.6 454.8,354.3 454.8,356.9 454.8,359.6 454.8,362.3 454.9,365.0 454.9,367.7 454.9,370.4 454.9,373.1 454.9,375.8 455.0,378.5 455.0,381.2 455.0,383.9 455.0,386.6 455.0,389.3 455.1,392.0 455.1,394.7 455.1,397.4 455.1,400.1 455.2,402.8 455.2,405.5 455.2,408.2 455.2,410.9 455.3,413.6 455.3,416.3 455.3,419.0 455.3,421.7 455.4,424.4 455.4,427.1 455.4,429.8 455.4,432.5 455.5,435.2 455.5,437.9 455.5,440.6 455.5,443.3 455.6,446.0 455.6,448.7 455.6,451.4 455.6,454.1 455.7,456.8 455.7,459.5 455.7,462.2 455.7,464.9 455.8,467.6 455.8,470.3 455.8,473.0 455.8,475.7 455.9,478.4 455.9,479.1" fill="none" stroke="#c81414" stroke-width="2.8" stroke-linejoin="round" stroke-linecap="round" />
<polyline points="482.8,251.5 491.6,252.3 499.9,253.1 507.6,253.8 515.0,254.5 521.9,255.1 528.4,255.7 534.5,256.2 540.2,256.8 545.6,257.3 550.7,257.8 555.4,258.3 559.9,258.9 564.1,259.4 568.1,259.9 571.8,260.4 575.4,260.9 578.7,261.5 581.8,262.1 584.7,262.7 587.4,263.3 590.0,263.9 592.5,264.6 594.8,265.3 596.9,266.0 599.0,266.8 600.9,267.5 602.7,268.3 604.3,269.2 605.9,270.1 607.4,271.0 608.8,271.9 610.2,272.8 611.4,273.8 612.6,274.8 613.7,275.8 614.7,276.9 615.7,278.0 616.6,279.1 617.5,280.2 618.3,281.4 619.1,282.5 619.8,283.7 620.5,284.9 621.1,286.2 621.7,287.4 622.3,288.7 622.8,289.9 623.4,291.2 623.8,292.5 625.0,296.3 625.9,299.5 626.6,302.7 627.3,306.0 627.8,309.4 628.3,312.7 628.8,316.1 629.2,319.6 629.5,323.1 629.8,326.5 630.0,330.0 630.3,333.6 630.5,337.1 630.7,340.7 630.8,344.2 631.0,347.8 631.1,351.4 631.2,355.0 631.3,358.6 631.4,362.2 631.5,365.8 631.6,369.4 631.7,373.1 631.7,376.7 631.8,380.3 631.8,383.9 631.9,387.6 632.0,391.2 632.0,394.8 632.0,398.5 632.1,402.1 632.1,405.7 632.2,409.4 632.2,413.0 632.3,416.6 632.3,420.3 632.3,423.9 632.4,427.6 632.4,431.2 632.4,434.8 632.5,438.5 632.5,442.1 632.6,445.8 632.6,449.4 632.6,453.0 632.7,456.7 632.7,460.3 632.7,464.0 632.8,467.6 632.8,471.2 632.8,474.9 632.9,478.5 632.9,482.2 632.9,485.8 633.0,488.9" fill="none" stroke="#2222e4" stroke-width="2.8" stroke-linejoin="round" stroke-linecap="round" />
<polyline points="482.8,251.5 491.2,252.4 499.2,253.3 506.7,254.1 513.7,254.8 520.4,255.5 526.6,256.2 532.5,256.9 538.0,257.5 543.2,258.1 548.1,258.6 552.7,259.2 557.0,259.8 561.0,260.3 564.9,260.9 568.4,261.5 571.8,262.0 575.0,262.6 578.0,263.2 580.8,263.9 583.5,264.5 586.0,265.2 588.3,265.9 590.5,266.6 592.6,267.4 594.5,268.1 596.4,268.9 598.1,269.8 599.7,270.6 601.2,271.5 602.7,272.4 604.0,273.4 605.3,274.3 606.5,275.3 607.6,276.3 608.7,277.4 609.7,278.5 610.7,279.6 611.5,280.7 612.4,281.8 613.2,283.0 613.9,284.1 614.6,285.3 615.3,286.6 615.9,287.8 616.5,289.0 617.0,290.3 617.5,291.6 618.0,292.9 618.5,294.2 619.6,298.0 620.5,301.2 621.2,304.4 621.8,307.7 622.3,311.1 622.8,314.5 623.2,317.9 623.6,321.3 623.9,324.8 624.2,328.3 624.5,331.8 624.7,335.3 624.9,338.9 625.1,342.4 625.2,346.0 625.4,349.6 625.5,353.2 625.6,356.8 625.7,360.4 625.8,364.0 625.9,367.6 625.9,371.2 626.0,374.8 626.1,378.4 626.2,382.1 626.2,385.7 626.3,389.3 626.3,392.9 626.4,396.6 626.4,400.2 626.5,403.9 626.5,407.5 626.5,411.1 626.6,414.8 626.6,418.4 626.7,422.0 626.7,425.7 626.7,429.3 626.8,433.0 626.8,436.6 626.8,440.2 626.9,443.9 626.9,447.5 627.0,451.2 627.0,454.8 627.0,458.5 627.1,462.1 627.1,465.7 627.1,469.4 627.2,473.0 627.2,476.7 627.2,480.3 627.3,483.9 627.3,487.6 627.3,490.7" fill="none" stroke="#2222e4" stroke-width="2.8" stroke-linejoin="round" stroke-linecap="round" />
<polyline points="482.8,251.5 491.0,252.5 498.8,253.4 506.1,254.3 512.9,255.1 519.4,255.8 525.5,256.5 531.2,257.2 536.6,257.9 541.6,258.5 546.4,259.1 550.8,259.7 555.1,260.3 559.0,260.9 562.7,261.5 566.2,262.1 569.5,262.7 572.6,263.3 575.5,263.9 578.3,264.6 580.9,265.3 583.3,265.9 585.6,266.7 587.7,267.4 589.7,268.2 591.6,269.0 593.4,269.8 595.1,270.6 596.7,271.5 598.2,272.4 599.6,273.3 600.9,274.3 602.1,275.2 603.3,276.2 604.4,277.3 605.5,278.3 606.4,279.4 607.3,280.5 608.2,281.6 609.0,282.8 609.8,283.9 610.5,285.1 611.2,286.3 611.8,287.5 612.4,288.8 613.0,290.0 613.5,291.3 614.0,292.6 614.5,293.9 615.0,295.2 616.1,299.0 616.9,302.2 617.6,305.5 618.2,308.8 618.7,312.1 619.2,315.5 619.6,318.9 620.0,322.4 620.3,325.8 620.6,329.3 620.8,332.8 621.0,336.4 621.2,339.9 621.4,343.5 621.5,347.0 621.7,350.6 621.8,354.2 621.9,357.8 622.0,361.4 622.1,365.0 622.2,368.6 622.3,372.2 622.3,375.9 622.4,379.5 622.5,383.1 622.5,386.7 622.6,390.4 622.6,394.0 622.7,397.6 622.7,401.3 622.8,404.9 622.8,408.5 622.9,412.2 622.9,415.8 622.9,419.5 623.0,423.1 623.0,426.7 623.1,430.4 623.1,434.0 623.1,437.7 623.2,441.3 623.2,444.9 623.2,448.6 623.3,452.2 623.3,455.9 623.3,459.5 623.4,463.2 623.4,466.8 623.4,470.4 623.5,474.1 623.5,477.7 623.5,481.4 623.6,485.0 623.6,488.6 623.6,491.8" fill="none" stroke="#2222e4" stroke-width="2.8" stroke-linejoin="round" stroke-linecap="round" />
<polyline points="482.8,251.5 490.8,252.6 498.4,253.5 505.5,254.4 512.2,255.3 518.5,256.1 524.5,256.8 530.1,257.5 535.3,258.2 540.2,258.9 544.9,259.5 549.3,260.1 553.4,260.8 557.2,261.4 560.9,262.0 564.3,262.6 567.5,263.2 570.5,263.9 573.4,264.5 576.0,265.2 578.6,265.9 580.9,266.6 583.2,267.3 585.3,268.1 587.2,268.8 589.1,269.6 590.8,270.5 592.5,271.3 594.0,272.2 595.5,273.1 596.9,274.0 598.1,275.0 599.4,276.0 600.5,277.0 601.6,278.0 602.6,279.1 603.5,280.2 604.4,281.3 605.3,282.4 606.1,283.5 606.8,284.7 607.5,285.9 608.2,287.1 608.8,288.3 609.4,289.6 610.0,290.8 610.5,292.1 611.0,293.4 611.4,294.7 611.9,296.0 613.0,299.8 613.8,303.0 614.5,306.3 615.1,309.6 615.6,312.9 616.0,316.3 616.4,319.8 616.8,323.2 617.1,326.7 617.4,330.2 617.6,333.7 617.8,337.2 618.0,340.8 618.2,344.3 618.3,347.9 618.5,351.5 618.6,355.1 618.7,358.7 618.8,362.3 618.9,365.9 619.0,369.5 619.0,373.1 619.1,376.7 619.2,380.4 619.2,384.0 619.3,387.6 619.3,391.2 619.4,394.9 619.4,398.5 619.5,402.1 619.5,405.8 619.6,409.4 619.6,413.1 619.7,416.7 619.7,420.3 619.7,424.0 619.8,427.6 619.8,431.3 619.8,434.9 619.9,438.5 619.9,442.2 620.0,445.8 620.0,449.5 620.0,453.1 620.1,456.7 620.1,460.4 620.1,464.0 620.2,467.7 620.2,471.3 620.2,475.0 620.3,478.6 620.3,482.2 620.3,485.9 620.4,489.5 620.4,492.6" fill="none" stroke="#2222e4" stroke-width="2.8" stroke-linejoin="round" stroke-linecap="round" />
<polyline points="482.8,251.5 490.3,252.7 497.5,253.7 504.2,254.7 510.5,255.7 516.4,256.6 522.0,257.4 527.2,258.2 532.2,259.0 536.8,259.7 541.2,260.4 545.3,261.1 549.2,261.8 552.8,262.5 556.2,263.1 559.4,263.8 562.4,264.5 565.3,265.1 568.0,265.8 570.5,266.5 572.9,267.3 575.1,268.0 577.2,268.8 579.2,269.5 581.0,270.3 582.8,271.2 584.4,272.0 585.9,272.9 587.4,273.8 588.8,274.7 590.1,275.7 591.3,276.7 592.4,277.7 593.5,278.7 594.5,279.7 595.5,280.8 596.4,281.9 597.2,283.0 598.0,284.2 598.7,285.3 599.4,286.5 600.1,287.7 600.7,288.9 601.3,290.2 601.9,291.4 602.4,292.7 602.9,294.0 603.4,295.3 603.8,296.6 604.2,297.9 605.2,301.7 606.0,304.9 606.6,308.2 607.2,311.5 607.7,314.9 608.1,318.3 608.5,321.7 608.8,325.2 609.1,328.6 609.4,332.1 609.6,335.6 609.8,339.2 610.0,342.7 610.1,346.3 610.3,349.9 610.4,353.5 610.5,357.0 610.6,360.6 610.7,364.2 610.8,367.9 610.9,371.5 611.0,375.1 611.0,378.7 611.1,382.3 611.2,386.0 611.2,389.6 611.3,393.2 611.3,396.9 611.4,400.5 611.4,404.1 611.5,407.8 611.5,411.4 611.5,415.0 611.6,418.7 611.6,422.3 611.7,426.0 611.7,429.6 611.7,433.2 611.8,436.9 611.8,440.5 611.8,444.2 611.9,447.8 611.9,451.5 612.0,455.1 612.0,458.7 612.0,462.4 612.1,466.0 612.1,469.7 612.1,473.3 612.2,476.9 612.2,480.6 612.2,484.2 612.3,487.9 612.3,491.5 612.3,494.6" fill="none" stroke="#2222e4" stroke-width="2.8" stroke-linejoin="round" stroke-linecap="round" />
<polyline points="482.8,251.5 489.8,252.8 496.5,254.0 502.7,255.1 508.6,256.1 514.1,257.1 519.3,258.0 524.2,258.9 528.8,259.7 533.1,260.5 537.2,261.3 541.0,262.0 544.6,262.8 548.0,263.5 551.2,264.2 554.2,264.9 557.0,265.6 559.7,266.3 562.2,267.1 564.5,267.8 566.7,268.6 568.8,269.3 570.8,270.1 572.6,270.9 574.3,271.8 576.0,272.6 577.5,273.5 578.9,274.4 580.3,275.3 581.6,276.3 582.8,277.3 583.9,278.3 585.0,279.3 586.0,280.3 586.9,281.4 587.8,282.5 588.6,283.6 589.4,284.7 590.2,285.9 590.9,287.0 591.5,288.2 592.1,289.4 592.7,290.7 593.3,291.9 593.8,293.2 594.3,294.4 594.7,295.7 595.2,297.0 595.6,298.3 596.0,299.7 596.9,303.5 597.6,306.7 598.2,310.0 598.8,313.3 599.2,316.7 599.6,320.1 600.0,323.5 600.3,327.0 600.6,330.5 600.8,334.0 601.0,337.5 601.2,341.0 601.4,344.6 601.5,348.2 601.7,351.7 601.8,355.3 601.9,358.9 602.0,362.5 602.1,366.1 602.2,369.7 602.3,373.3 602.3,377.0 602.4,380.6 602.5,384.2 602.5,387.8 602.6,391.5 602.6,395.1 602.7,398.7 602.7,402.4 602.8,406.0 602.8,409.6 602.8,413.3 602.9,416.9 602.9,420.6 603.0,424.2 603.0,427.8 603.0,431.5 603.1,435.1 603.1,438.8 603.1,442.4 603.2,446.0 603.2,449.7 603.3,453.3 603.3,457.0 603.3,460.6 603.4,464.3 603.4,467.9 603.4,471.6 603.5,475.2 603.5,478.8 603.5,482.5 603.6,486.1 603.6,489.8 603.6,493.4 603.7,496.5" fill="none" stroke="#2222e4" stroke-width="2.8" stroke-linejoin="round" stroke-linecap="round" />
<polyline points="482.8,251.5 489.6,252.8 496.0,254.0 502.1,255.2 507.8,256.2 513.1,257.3 518.1,258.2 522.9,259.1 527.3,260.0 531.5,260.8 535.4,261.6 539.1,262.4 542.6,263.1 545.9,263.9 549.0,264.6 551.9,265.4 554.6,266.1 557.2,266.8 559.6,267.6 561.9,268.3 564.0,269.1 566.0,269.9 567.9,270.7 569.7,271.5 571.4,272.4 572.9,273.2 574.4,274.1 575.8,275.0 577.1,276.0 578.4,276.9 579.5,277.9 580.6,278.9 581.7,279.9 582.6,281.0 583.6,282.0 584.4,283.1 585.2,284.2 586.0,285.4 586.7,286.5 587.4,287.7 588.0,288.9 588.6,290.1 589.2,291.4 589.7,292.6 590.2,293.9 590.7,295.1 591.1,296.4 591.5,297.7 591.9,299.1 592.3,300.4 593.3,304.2 593.9,307.5 594.5,310.7 595.0,314.1 595.5,317.4 595.9,320.8 596.2,324.3 596.5,327.7 596.8,331.2 597.0,334.7 597.2,338.3 597.4,341.8 597.6,345.3 597.7,348.9 597.9,352.5 598.0,356.1 598.1,359.7 598.2,363.3 598.3,366.9 598.3,370.5 598.4,374.1 598.5,377.7 598.6,381.3 598.6,385.0 598.7,388.6 598.7,392.2 598.8,395.9 598.8,399.5 598.9,403.1 598.9,406.8 599.0,410.4 599.0,414.0 599.0,417.7 599.1,421.3 599.1,425.0 599.2,428.6 599.2,432.2 599.2,435.9 599.3,439.5 599.3,443.2 599.3,446.8 599.4,450.5 599.4,454.1 599.4,457.7 599.5,461.4 599.5,465.0 599.5,468.7 599.6,472.3 599.6,476.0 599.6,479.6 599.7,483.2 599.7,486.9 599.7,490.5 599.8,494.2 599.8,497.3" fill="none" stroke="#2222e4" stroke-width="2.8" stroke-linejoin="round" stroke-linecap="round" />
<polyline points="482.8,251.5 489.3,252.9 495.5,254.1 501.3,255.3 506.7,256.4 511.9,257.5 516.7,258.5 521.2,259.4 525.5,260.3 529.5,261.2 533.3,262.0 536.9,262.8 540.2,263.6 543.3,264.4 546.3,265.1 549.1,265.9 551.7,266.6 554.2,267.4 556.5,268.2 558.7,268.9 560.7,269.7 562.6,270.5 564.4,271.3 566.2,272.2 567.8,273.0 569.3,273.9 570.7,274.8 572.0,275.7 573.3,276.7 574.5,277.6 575.6,278.6 576.7,279.6 577.6,280.7 578.6,281.7 579.4,282.8 580.3,283.9 581.1,285.0 581.8,286.2 582.5,287.3 583.1,288.5 583.7,289.7 584.3,290.9 584.9,292.2 585.4,293.4 585.8,294.7 586.3,296.0 586.7,297.3 587.1,298.6 587.5,299.9 587.9,301.2 588.8,305.1 589.4,308.3 590.0,311.6 590.5,314.9 590.9,318.3 591.3,321.7 591.6,325.1 591.9,328.6 592.2,332.1 592.4,335.6 592.6,339.1 592.8,342.7 592.9,346.2 593.1,349.8 593.2,353.4 593.3,356.9 593.4,360.5 593.5,364.1 593.6,367.7 593.7,371.4 593.7,375.0 593.8,378.6 593.9,382.2 593.9,385.8 594.0,389.5 594.0,393.1 594.1,396.7 594.1,400.4 594.2,404.0 594.2,407.6 594.3,411.3 594.3,414.9 594.4,418.6 594.4,422.2 594.4,425.8 594.5,429.5 594.5,433.1 594.6,436.8 594.6,440.4 594.6,444.0 594.7,447.7 594.7,451.3 594.7,455.0 594.8,458.6 594.8,462.3 594.8,465.9 594.9,469.6 594.9,473.2 594.9,476.8 595.0,480.5 595.0,484.1 595.0,487.8 595.1,491.4 595.1,495.1 595.1,498.2" fill="none" stroke="#2222e4" stroke-width="2.8" stroke-linejoin="round" stroke-linecap="round" />
<polyline points="482.8,251.5 488.8,253.0 494.6,254.3 500.0,255.5 505.0,256.7 509.8,257.8 514.3,258.9 518.5,259.9 522.4,260.8 526.2,261.7 529.7,262.6 533.0,263.5 536.1,264.3 539.0,265.1 541.8,265.9 544.3,266.7 546.8,267.5 549.1,268.3 551.2,269.0 553.2,269.8 555.1,270.7 556.9,271.5 558.6,272.3 560.2,273.2 561.7,274.1 563.1,275.0 564.4,275.9 565.7,276.8 566.8,277.8 567.9,278.7 569.0,279.7 569.9,280.8 570.9,281.8 571.7,282.9 572.5,284.0 573.3,285.1 574.0,286.2 574.7,287.4 575.4,288.5 576.0,289.7 576.5,290.9 577.1,292.2 577.6,293.4 578.0,294.7 578.5,295.9 578.9,297.2 579.3,298.5 579.7,299.8 580.0,301.2 580.4,302.5 581.2,306.3 581.8,309.6 582.3,312.9 582.8,316.2 583.2,319.6 583.6,323.0 583.9,326.4 584.1,329.9 584.4,333.4 584.6,336.9 584.8,340.4 584.9,344.0 585.1,347.5 585.2,351.1 585.4,354.7 585.5,358.3 585.6,361.9 585.7,365.5 585.7,369.1 585.8,372.7 585.9,376.3 585.9,379.9 586.0,383.6 586.1,387.2 586.1,390.8 586.2,394.5 586.2,398.1 586.3,401.7 586.3,405.4 586.4,409.0 586.4,412.6 586.4,416.3 586.5,419.9 586.5,423.6 586.6,427.2 586.6,430.8 586.6,434.5 586.7,438.1 586.7,441.8 586.7,445.4 586.8,449.1 586.8,452.7 586.8,456.3 586.9,460.0 586.9,463.6 586.9,467.3 587.0,470.9 587.0,474.6 587.1,478.2 587.1,481.8 587.1,485.5 587.2,489.1 587.2,492.8 587.2,496.4 587.2,499.5" fill="none" stroke="#2222e4" stroke-width="2.8" stroke-linejoin="round" stroke-linecap="round" />
<polyline points="482.8,251.5 490.3,251.0 497.4,250.5 504.1,250.0 510.4,249.5 516.3,249.1 521.9,248.7 527.1,248.4 532.1,248.0 536.7,247.7 541.1,247.5 545.2,247.3 549.0,247.1 552.6,246.9 556.1,246.9 559.3,246.8 562.3,246.8 565.1,246.9 567.8,247.0 570.3,247.1 572.7,247.3 574.9,247.5 577.0,247.8 579.0,248.2 580.8,248.6 582.6,249.0 584.2,249.5 585.7,250.1 587.2,250.6 588.6,251.3 589.8,251.9 591.1,252.6 592.2,253.4 593.3,254.2 594.3,255.0 595.2,255.9 596.1,256.8 597.0,257.7 597.8,258.7 598.5,259.7 599.2,260.7 599.9,261.8 600.5,262.8 601.1,263.9 601.6,265.1 602.2,266.2 602.7,267.4 603.1,268.6 603.6,269.8 604.0,271.1 605.0,274.7 605.7,277.7 606.4,280.8 606.9,284.0 607.4,287.3 607.9,290.6 608.2,294.0 608.6,297.3 608.9,300.8 609.1,304.2 609.4,307.7 609.6,311.2 609.7,314.7 609.9,318.2 610.0,321.8 610.2,325.3 610.3,328.9 610.4,332.5 610.5,336.1 610.6,339.7 610.6,343.3 610.7,346.9 610.8,350.5 610.9,354.1 610.9,357.8 611.0,361.4 611.0,365.0 611.1,368.6 611.1,372.3 611.2,375.9 611.2,379.5 611.3,383.2 611.3,386.8 611.3,390.5 611.4,394.1 611.4,397.7 611.4,401.4 611.5,405.0 611.5,408.7 611.6,412.3 611.6,415.9 611.6,419.6 611.7,423.2 611.7,426.9 611.7,430.5 611.8,434.1 611.8,437.8 611.8,441.4 611.9,445.1 611.9,448.7 611.9,452.4 612.0,456.0 612.0,459.6 612.0,463.3 612.1,466.9 612.1,470.6 612.1,474.2 612.2,477.9 612.2,481.5 612.2,485.2 612.3,488.8 612.3,492.4 612.3,494.6" fill="none" stroke="#2222e4" stroke-width="2.8" stroke-linejoin="round" stroke-linecap="round" />
<polyline points="482.8,251.5 490.3,251.5 497.4,251.5 504.1,251.5 510.4,251.4 516.4,251.4 521.9,251.4 527.2,251.4 532.1,251.4 536.7,251.4 541.1,251.5 545.2,251.5 549.1,251.6 552.7,251.7 556.1,251.9 559.3,252.1 562.3,252.3 565.2,252.5 567.8,252.8 570.4,253.1 572.7,253.5 575.0,253.9 577.1,254.3 579.0,254.8 580.9,255.3 582.6,255.9 584.3,256.5 585.8,257.1 587.3,257.8 588.6,258.5 589.9,259.3 591.1,260.1 592.3,260.9 593.3,261.8 594.4,262.7 595.3,263.6 596.2,264.6 597.0,265.5 597.8,266.6 598.6,267.6 599.3,268.7 600.0,269.8 600.6,270.9 601.2,272.1 601.7,273.2 602.2,274.4 602.7,275.6 603.2,276.9 603.6,278.1 604.0,279.4 605.1,283.0 605.8,286.1 606.5,289.3 607.0,292.5 607.5,295.8 607.9,299.2 608.3,302.5 608.7,305.9 608.9,309.4 609.2,312.8 609.4,316.3 609.6,319.8 609.8,323.4 610.0,326.9 610.1,330.5 610.2,334.0 610.4,337.6 610.5,341.2 610.6,344.8 610.6,348.4 610.7,352.0 610.8,355.6 610.9,359.2 610.9,362.9 611.0,366.5 611.0,370.1 611.1,373.7 611.1,377.4 611.2,381.0 611.2,384.6 611.3,388.3 611.3,391.9 611.4,395.5 611.4,399.2 611.5,402.8 611.5,406.5 611.5,410.1 611.6,413.7 611.6,417.4 611.6,421.0 611.7,424.7 611.7,428.3 611.7,431.9 611.8,435.6 611.8,439.2 611.8,442.9 611.9,446.5 611.9,450.2 611.9,453.8 612.0,457.4 612.0,461.1 612.0,464.7 612.1,468.4 612.1,472.0 612.1,475.7 612.2,479.3 612.2,482.9 612.2,486.6 612.3,490.2 612.3,493.9 612.3,494.6" fill="none" stroke="#2222e4" stroke-width="2.8" stroke-linejoin="round" stroke-linecap="round" />
<polyline points="482.8,251.5 490.3,251.9 497.5,252.2 504.2,252.5 510.5,252.7 516.4,253.0 522.0,253.3 527.2,253.5 532.1,253.7 536.8,254.0 541.1,254.2 545.2,254.5 549.1,254.7 552.7,255.0 556.1,255.3 559.3,255.7 562.4,256.0 565.2,256.4 567.9,256.8 570.4,257.2 572.8,257.7 575.0,258.2 577.1,258.7 579.1,259.3 580.9,259.9 582.7,260.6 584.3,261.3 585.9,262.0 587.3,262.7 588.7,263.5 590.0,264.3 591.2,265.2 592.3,266.1 593.4,267.0 594.4,267.9 595.4,268.9 596.2,269.9 597.1,270.9 597.9,272.0 598.6,273.1 599.3,274.2 600.0,275.3 600.6,276.4 601.2,277.6 601.8,278.8 602.3,280.0 602.8,281.3 603.2,282.5 603.7,283.8 604.1,285.1 605.1,288.8 605.9,291.9 606.5,295.1 607.1,298.4 607.6,301.7 608.0,305.0 608.4,308.4 608.7,311.8 609.0,315.3 609.3,318.8 609.5,322.3 609.7,325.8 609.9,329.3 610.0,332.9 610.2,336.4 610.3,340.0 610.4,343.6 610.5,347.2 610.6,350.8 610.7,354.4 610.8,358.0 610.9,361.6 610.9,365.2 611.0,368.8 611.0,372.5 611.1,376.1 611.2,379.7 611.2,383.3 611.3,387.0 611.3,390.6 611.3,394.3 611.4,397.9 611.4,401.5 611.5,405.2 611.5,408.8 611.5,412.4 611.6,416.1 611.6,419.7 611.7,423.4 611.7,427.0 611.7,430.7 611.8,434.3 611.8,437.9 611.8,441.6 611.9,445.2 611.9,448.9 611.9,452.5 612.0,456.1 612.0,459.8 612.0,463.4 612.1,467.1 612.1,470.7 612.1,474.4 612.2,478.0 612.2,481.6 612.2,485.3 612.3,488.9 612.3,492.6 612.3,494.6" fill="none" stroke="#2222e4" stroke-width="2.8" stroke-linejoin="round" stroke-linecap="round" />
<polyline points="482.8,251.5 490.3,252.1 497.5,252.7 504.2,253.2 510.5,253.6 516.4,254.1 522.0,254.5 527.2,254.9 532.1,255.3 536.8,255.7 541.1,256.1 545.2,256.5 549.1,256.9 552.7,257.3 556.2,257.7 559.4,258.1 562.4,258.6 565.2,259.0 567.9,259.5 570.4,260.1 572.8,260.6 575.0,261.2 577.1,261.8 579.1,262.4 580.9,263.1 582.7,263.8 584.3,264.5 585.9,265.3 587.3,266.1 588.7,266.9 590.0,267.8 591.2,268.7 592.3,269.6 593.4,270.5 594.4,271.5 595.4,272.5 596.3,273.5 597.1,274.6 597.9,275.7 598.7,276.8 599.4,277.9 600.0,279.1 600.7,280.2 601.2,281.4 601.8,282.6 602.3,283.9 602.8,285.1 603.3,286.4 603.7,287.7 604.1,289.0 605.2,292.7 605.9,295.9 606.5,299.1 607.1,302.4 607.6,305.7 608.0,309.0 608.4,312.4 608.7,315.9 609.0,319.3 609.3,322.8 609.5,326.3 609.7,329.9 609.9,333.4 610.1,336.9 610.2,340.5 610.3,344.1 610.5,347.7 610.6,351.3 610.7,354.9 610.7,358.5 610.8,362.1 610.9,365.7 611.0,369.3 611.0,372.9 611.1,376.6 611.1,380.2 611.2,383.8 611.2,387.5 611.3,391.1 611.3,394.7 611.4,398.4 611.4,402.0 611.5,405.6 611.5,409.3 611.5,412.9 611.6,416.6 611.6,420.2 611.7,423.8 611.7,427.5 611.7,431.1 611.8,434.8 611.8,438.4 611.8,442.0 611.9,445.7 611.9,449.3 611.9,453.0 612.0,456.6 612.0,460.3 612.0,463.9 612.1,467.5 612.1,471.2 612.1,474.8 612.2,478.5 612.2,482.1 612.2,485.8 612.3,489.4 612.3,493.0 612.3,494.6" fill="none" stroke="#2222e4" stroke-width="2.8" stroke-linejoin="round" stroke-linecap="round" />
<polyline points="482.8,251.5 490.3,253.3 497.5,254.9 504.2,256.4 510.5,257.8 516.4,259.2 522.0,260.5 527.3,261.7 532.2,262.8 536.9,263.9 541.2,265.0 545.3,266.0 549.2,267.0 552.8,267.9 556.3,268.8 559.5,269.8 562.5,270.7 565.3,271.6 568.0,272.5 570.5,273.4 572.9,274.3 575.2,275.2 577.2,276.1 579.2,277.0 581.1,278.0 582.8,279.0 584.5,279.9 586.0,280.9 587.5,282.0 588.9,283.0 590.1,284.0 591.4,285.1 592.5,286.2 593.6,287.3 594.6,288.4 595.5,289.6 596.4,290.8 597.3,291.9 598.1,293.1 598.8,294.4 599.5,295.6 600.2,296.8 600.8,298.1 601.4,299.4 602.0,300.7 602.5,302.0 603.0,303.3 603.4,304.6 603.9,306.0 604.3,307.3 605.3,311.2 606.1,314.5 606.7,317.8 607.3,321.2 607.8,324.6 608.2,328.0 608.6,331.4 608.9,334.9 609.2,338.4 609.5,341.9 609.7,345.5 609.9,349.0 610.1,352.6 610.2,356.2 610.4,359.7 610.5,363.3 610.6,366.9 610.7,370.5 610.8,374.1 610.9,377.8 611.0,381.4 611.1,385.0 611.1,388.6 611.2,392.2 611.3,395.9 611.3,399.5 611.4,403.1 611.4,406.8 611.5,410.4 611.5,414.0 611.6,417.7 611.6,421.3 611.6,425.0 611.7,428.6 611.7,432.2 611.8,435.9 611.8,439.5 611.8,443.2 611.9,446.8 611.9,450.4 611.9,454.1 612.0,457.7 612.0,461.4 612.0,465.0 612.1,468.7 612.1,472.3 612.1,475.9 612.2,479.6 612.2,483.2 612.2,486.9 612.3,490.5 612.3,494.2 612.3,494.6" fill="none" stroke="#2222e4" stroke-width="2.8" stroke-linejoin="round" stroke-linecap="round" />
<polyline points="482.8,251.5 490.3,253.7 497.5,255.6 504.2,257.5 510.5,259.3 516.5,260.9 522.0,262.5 527.3,263.9 532.2,265.3 536.9,266.7 541.3,267.9 545.4,269.2 549.2,270.3 552.9,271.5 556.3,272.6 559.5,273.7 562.5,274.7 565.4,275.8 568.1,276.8 570.6,277.8 573.0,278.9 575.2,279.9 577.3,280.9 579.3,282.0 581.1,283.0 582.9,284.1 584.5,285.1 586.1,286.2 587.5,287.3 588.9,288.4 590.2,289.5 591.4,290.6 592.5,291.8 593.6,293.0 594.6,294.1 595.6,295.3 596.5,296.5 597.3,297.8 598.1,299.0 598.9,300.3 599.6,301.5 600.2,302.8 600.9,304.1 601.5,305.4 602.0,306.7 602.5,308.1 603.0,309.4 603.5,310.8 603.9,312.2 604.4,313.5 605.4,317.5 606.1,320.8 606.8,324.1 607.3,327.5 607.8,330.9 608.3,334.4 608.6,337.8 609.0,341.3 609.3,344.8 609.5,348.4 609.8,351.9 610.0,355.5 610.1,359.0 610.3,362.6 610.4,366.2 610.6,369.8 610.7,373.4 610.8,377.0 610.9,380.6 611.0,384.2 611.1,387.9 611.1,391.5 611.2,395.1 611.3,398.7 611.3,402.4 611.4,406.0 611.4,409.6 611.5,413.3 611.5,416.9 611.6,420.5 611.6,424.2 611.7,427.8 611.7,431.5 611.7,435.1 611.8,438.7 611.8,442.4 611.9,446.0 611.9,449.7 611.9,453.3 612.0,456.9 612.0,460.6 612.0,464.2 612.1,467.9 612.1,471.5 612.1,475.2 612.2,478.8 612.2,482.4 612.2,486.1 612.3,489.7 612.3,493.4 612.3,494.6" fill="none" stroke="#2222e4" stroke-width="2.8" stroke-linejoin="round" stroke-linecap="round" />
<polyline points="482.8,251.5 490.4,254.1 497.5,256.4 504.2,258.6 510.5,260.7 516.5,262.7 522.1,264.5 527.3,266.3 532.3,267.9 536.9,269.5 541.3,271.0 545.4,272.4 549.3,273.8 552.9,275.1 556.3,276.4 559.5,277.7 562.6,278.9 565.4,280.1 568.1,281.3 570.6,282.4 573.0,283.6 575.2,284.7 577.3,285.9 579.3,287.0 581.2,288.1 582.9,289.3 584.6,290.4 586.1,291.6 587.6,292.8 588.9,293.9 590.2,295.1 591.5,296.3 592.6,297.5 593.7,298.7 594.7,300.0 595.6,301.2 596.5,302.5 597.4,303.8 598.2,305.0 598.9,306.3 599.6,307.6 600.3,309.0 600.9,310.3 601.5,311.6 602.1,313.0 602.6,314.3 603.1,315.7 603.6,317.1 604.0,318.5 604.4,319.9 605.4,323.9 606.2,327.2 606.8,330.6 607.4,334.0 607.9,337.4 608.3,340.9 608.7,344.4 609.0,347.9 609.3,351.4 609.6,355.0 609.8,358.5 610.0,362.1 610.2,365.7 610.4,369.3 610.5,372.8 610.6,376.4 610.7,380.1 610.8,383.7 610.9,387.3 611.0,390.9 611.1,394.5 611.2,398.1 611.3,401.8 611.3,405.4 611.4,409.0 611.4,412.7 611.5,416.3 611.5,419.9 611.6,423.6 611.6,427.2 611.7,430.9 611.7,434.5 611.8,438.1 611.8,441.8 611.8,445.4 611.9,449.1 611.9,452.7 611.9,456.3 612.0,460.0 612.0,463.6 612.1,467.3 612.1,470.9 612.1,474.5 612.2,478.2 612.2,481.8 612.2,485.5 612.3,489.1 612.3,492.8 612.3,494.6" fill="none" stroke="#2222e4" stroke-width="2.8" stroke-linejoin="round" stroke-linecap="round" />
<polyline points="482.8,251.5 490.4,254.7 497.5,257.7 504.2,260.5 510.5,263.2 516.5,265.7 522.1,268.0 527.3,270.2 532.3,272.3 536.9,274.3 541.3,276.2 545.4,278.0 549.3,279.7 553.0,281.4 556.4,282.9 559.6,284.5 562.6,286.0 565.5,287.4 568.2,288.8 570.7,290.2 573.1,291.6 575.3,292.9 577.4,294.2 579.4,295.5 581.3,296.8 583.0,298.1 584.7,299.4 586.2,300.7 587.7,302.0 589.0,303.3 590.3,304.6 591.5,305.9 592.7,307.2 593.8,308.6 594.8,309.9 595.7,311.2 596.6,312.5 597.5,313.9 598.3,315.2 599.0,316.6 599.7,318.0 600.4,319.3 601.0,320.7 601.6,322.1 602.2,323.5 602.7,324.9 603.2,326.3 603.7,327.7 604.1,329.2 604.5,330.6 605.5,334.7 606.3,338.1 606.9,341.5 607.5,345.0 608.0,348.5 608.4,352.0 608.8,355.5 609.1,359.0 609.4,362.6 609.7,366.1 609.9,369.7 610.1,373.3 610.3,376.9 610.5,380.5 610.6,384.1 610.7,387.7 610.8,391.3 611.0,394.9 611.0,398.5 611.1,402.2 611.2,405.8 611.3,409.4 611.4,413.0 611.4,416.7 611.5,420.3 611.5,423.9 611.6,427.6 611.6,431.2 611.7,434.9 611.7,438.5 611.8,442.1 611.8,445.8 611.9,449.4 611.9,453.1 611.9,456.7 612.0,460.3 612.0,464.0 612.0,467.6 612.1,471.3 612.1,474.9 612.2,478.6 612.2,482.2 612.2,485.8 612.3,489.5 612.3,493.1 612.3,494.6" fill="none" stroke="#2222e4" stroke-width="2.8" stroke-linejoin="round" stroke-linecap="round" />
<line x1="360.6" y1="181.6" x2="487.7" y2="152.8" stroke="#000" stroke-width="2.7" stroke-linecap="round"/>
<line x1="487.7" y1="152.8" x2="682.2" y2="189.0" stroke="#000" stroke-width="2.7" stroke-linecap="round"/>
<line x1="363.6" y1="488.5" x2="360.6" y2="181.6" stroke="#000" stroke-width="2.7" stroke-linecap="round"/>
<line x1="684.9" y1="494.8" x2="682.2" y2="189.0" stroke="#000" stroke-width="2.7" stroke-linecap="round"/>
<line x1="490.6" y1="459.1" x2="487.7" y2="152.8" stroke="#000" stroke-width="2.5" />
<line x1="363.6" y1="488.5" x2="558.5" y2="524.2" stroke="#000" stroke-width="3.0" stroke-linecap="round"/>
<line x1="558.5" y1="524.2" x2="684.9" y2="494.8" stroke="#000" stroke-width="3.0" stroke-linecap="round"/>
<line x1="490.6" y1="459.1" x2="684.9" y2="494.8" stroke="#000" stroke-width="1.6" />
<line x1="363.6" y1="488.5" x2="490.6" y2="459.1" stroke="#000" stroke-width="1.6" />
<line x1="684.8" y1="481.7" x2="676.9" y2="480.2" stroke="#000" stroke-width="1.5" />
<line x1="684.6" y1="459.8" x2="681.7" y2="459.2" stroke="#000" stroke-width="1" />
<line x1="684.4" y1="437.9" x2="681.5" y2="437.3" stroke="#000" stroke-width="1" />
<line x1="684.2" y1="415.9" x2="681.3" y2="415.4" stroke="#000" stroke-width="1" />
<line x1="684.1" y1="394.0" x2="681.1" y2="393.5" stroke="#000" stroke-width="1" />
<line x1="683.9" y1="372.1" x2="675.9" y2="370.6" stroke="#000" stroke-width="1.5" />
<line x1="683.7" y1="350.2" x2="680.7" y2="349.6" stroke="#000" stroke-width="1" />
<line x1="683.5" y1="328.2" x2="680.5" y2="327.7" stroke="#000" stroke-width="1" />
<line x1="683.3" y1="306.3" x2="680.3" y2="305.8" stroke="#000" stroke-width="1" />
<line x1="683.1" y1="284.4" x2="680.1" y2="283.8" stroke="#000" stroke-width="1" />
<line x1="682.9" y1="262.4" x2="675.0" y2="261.0" stroke="#000" stroke-width="1.5" />
<line x1="682.7" y1="240.5" x2="679.7" y2="240.0" stroke="#000" stroke-width="1" />
<line x1="682.5" y1="218.6" x2="679.5" y2="218.0" stroke="#000" stroke-width="1" />
<line x1="682.3" y1="196.6" x2="679.3" y2="196.1" stroke="#000" stroke-width="1" />
<line x1="370.9" y1="489.8" x2="374.1" y2="489.1" stroke="#000" stroke-width="1" />
<line x1="379.1" y1="491.3" x2="387.1" y2="489.5" stroke="#000" stroke-width="1.6" />
<line x1="387.3" y1="492.8" x2="390.5" y2="492.1" stroke="#000" stroke-width="1" />
<line x1="395.5" y1="494.3" x2="398.7" y2="493.6" stroke="#000" stroke-width="1" />
<line x1="403.7" y1="495.8" x2="406.9" y2="495.1" stroke="#000" stroke-width="1" />
<line x1="411.9" y1="497.3" x2="415.1" y2="496.6" stroke="#000" stroke-width="1" />
<line x1="420.1" y1="498.8" x2="428.1" y2="497.0" stroke="#000" stroke-width="1.6" />
<line x1="428.3" y1="500.4" x2="431.5" y2="499.6" stroke="#000" stroke-width="1" />
<line x1="436.5" y1="501.9" x2="439.7" y2="501.1" stroke="#000" stroke-width="1" />
<line x1="444.7" y1="503.4" x2="447.9" y2="502.6" stroke="#000" stroke-width="1" />
<line x1="452.9" y1="504.9" x2="456.1" y2="504.1" stroke="#000" stroke-width="1" />
<line x1="461.1" y1="506.4" x2="469.0" y2="504.5" stroke="#000" stroke-width="1.6" />
<line x1="469.3" y1="507.9" x2="472.5" y2="507.1" stroke="#000" stroke-width="1" />
<line x1="477.5" y1="509.4" x2="480.6" y2="508.6" stroke="#000" stroke-width="1" />
<line x1="485.7" y1="510.9" x2="488.8" y2="510.1" stroke="#000" stroke-width="1" />
<line x1="493.8" y1="512.4" x2="497.0" y2="511.6" stroke="#000" stroke-width="1" />
<line x1="502.0" y1="513.9" x2="510.0" y2="512.0" stroke="#000" stroke-width="1.6" />
<line x1="510.2" y1="515.4" x2="513.4" y2="514.6" stroke="#000" stroke-width="1" />
<line x1="518.4" y1="516.9" x2="521.6" y2="516.1" stroke="#000" stroke-width="1" />
<line x1="526.6" y1="518.4" x2="529.8" y2="517.6" stroke="#000" stroke-width="1" />
<line x1="534.8" y1="519.9" x2="537.9" y2="519.1" stroke="#000" stroke-width="1" />
<line x1="543.0" y1="521.4" x2="550.9" y2="519.5" stroke="#000" stroke-width="1.6" />
<line x1="551.1" y1="522.9" x2="554.3" y2="522.2" stroke="#000" stroke-width="1" />
<line x1="558.5" y1="524.2" x2="548.7" y2="522.4" stroke="#000" stroke-width="1.6" />
<line x1="564.8" y1="522.8" x2="560.7" y2="522.0" stroke="#000" stroke-width="1" />
<line x1="571.2" y1="521.3" x2="567.1" y2="520.5" stroke="#000" stroke-width="1" />
<line x1="577.5" y1="519.8" x2="573.4" y2="519.1" stroke="#000" stroke-width="1" />
<line x1="583.8" y1="518.4" x2="579.7" y2="517.6" stroke="#000" stroke-width="1" />
<line x1="590.2" y1="516.9" x2="580.3" y2="515.1" stroke="#000" stroke-width="1.6" />
<line x1="596.5" y1="515.4" x2="592.4" y2="514.7" stroke="#000" stroke-width="1" />
<line x1="602.8" y1="513.9" x2="598.7" y2="513.2" stroke="#000" stroke-width="1" />
<line x1="609.1" y1="512.5" x2="605.1" y2="511.7" stroke="#000" stroke-width="1" />
<line x1="615.5" y1="511.0" x2="611.4" y2="510.2" stroke="#000" stroke-width="1" />
<line x1="621.8" y1="509.5" x2="612.0" y2="507.7" stroke="#000" stroke-width="1.6" />
<line x1="628.1" y1="508.1" x2="624.0" y2="507.3" stroke="#000" stroke-width="1" />
<line x1="634.4" y1="506.6" x2="630.3" y2="505.8" stroke="#000" stroke-width="1" />
<line x1="640.7" y1="505.1" x2="636.7" y2="504.4" stroke="#000" stroke-width="1" />
<line x1="647.1" y1="503.6" x2="643.0" y2="502.9" stroke="#000" stroke-width="1" />
<line x1="653.4" y1="502.2" x2="643.6" y2="500.4" stroke="#000" stroke-width="1.6" />
<line x1="659.7" y1="500.7" x2="655.6" y2="500.0" stroke="#000" stroke-width="1" />
<line x1="666.0" y1="499.2" x2="661.9" y2="498.5" stroke="#000" stroke-width="1" />
<line x1="672.3" y1="497.8" x2="668.2" y2="497.0" stroke="#000" stroke-width="1" />
<line x1="678.6" y1="496.3" x2="674.6" y2="495.6" stroke="#000" stroke-width="1" />
<line x1="684.9" y1="494.8" x2="675.2" y2="493.0" stroke="#000" stroke-width="1.6" />
<text x="687.8" y="485.5" font-family="Liberation Sans" font-size="10.5" font-weight="bold" text-anchor="start" >0</text>
<text x="686.9" y="375.9" font-family="Liberation Sans" font-size="10.5" font-weight="bold" text-anchor="start" >0.5</text>
<text x="685.9" y="266.2" font-family="Liberation Sans" font-size="10.5" font-weight="bold" text-anchor="start" >1</text>
<text x="366.8" y="502.8" font-family="Liberation Sans" font-size="10.5" font-weight="bold" text-anchor="middle" >-0.25</text>
<text x="417.0" y="510.4" font-family="Liberation Sans" font-size="10.5" font-weight="bold" text-anchor="middle" >0</text>
<text x="450.0" y="518.1" font-family="Liberation Sans" font-size="10.5" font-weight="bold" text-anchor="middle" >0.25</text>
<text x="493.7" y="526.1" font-family="Liberation Sans" font-size="10.5" font-weight="bold" text-anchor="middle" >0.5</text>
<text x="531.2" y="533.4" font-family="Liberation Sans" font-size="10.5" font-weight="bold" text-anchor="middle" >0.75</text>
<text x="570.5" y="536.3" font-family="Liberation Sans" font-size="10.5" font-weight="bold" text-anchor="middle" >-0.4</text>
<text x="600.5" y="528.3" font-family="Liberation Sans" font-size="10.5" font-weight="bold" text-anchor="middle" >-0.2</text>
<text x="624.6" y="521.3" font-family="Liberation Sans" font-size="10.5" font-weight="bold" text-anchor="middle" >0</text>
<text x="660.0" y="514.4" font-family="Liberation Sans" font-size="10.5" font-weight="bold" text-anchor="middle" >0.2</text>
<text x="690.6" y="507.1" font-family="Liberation Sans" font-size="10.5" font-weight="bold" text-anchor="middle" >0.4</text>
<text x="711.5" y="346.5" font-family="Liberation Sans" font-size="16.5" font-weight="bold" text-anchor="middle" transform="rotate(90 711.5 346.5)" dy="5.5">H (m)</text>
<text x="0.0" y="0.0" font-family="Liberation Sans" font-size="15.5" font-weight="bold" text-anchor="middle" transform="translate(459 549) skewY(11.5) skewX(-20)">X (m)</text>
<text x="0.0" y="0.0" font-family="Liberation Sans" font-size="15.5" font-weight="bold" text-anchor="middle" transform="translate(622.5 552) skewY(-14)">Y (m)</text>
<rect x="764" y="20.4" width="265.29999999999995" height="183.79999999999998" fill="#f7f7f7"/>
<line x1="785.5" y1="20.4" x2="785.5" y2="204.2" stroke="#4a4a4a" stroke-width="1" />
<line x1="841.5" y1="20.4" x2="841.5" y2="204.2" stroke="#4a4a4a" stroke-width="1" />
<line x1="896.5" y1="20.4" x2="896.5" y2="204.2" stroke="#4a4a4a" stroke-width="1" />
<line x1="952.5" y1="20.4" x2="952.5" y2="204.2" stroke="#4a4a4a" stroke-width="1" />
<line x1="1008.5" y1="20.4" x2="1008.5" y2="204.2" stroke="#4a4a4a" stroke-width="1" />
<line x1="764.0" y1="201.5" x2="1029.3" y2="201.5" stroke="#4a4a4a" stroke-width="1" />
<line x1="764.0" y1="156.5" x2="1029.3" y2="156.5" stroke="#4a4a4a" stroke-width="1" />
<line x1="764.0" y1="112.5" x2="1029.3" y2="112.5" stroke="#4a4a4a" stroke-width="1" />
<line x1="764.0" y1="67.5" x2="1029.3" y2="67.5" stroke="#4a4a4a" stroke-width="1" />
<line x1="764.0" y1="23.5" x2="1029.3" y2="23.5" stroke="#4a4a4a" stroke-width="1" />
<polyline points="845.1,112.4 1012.8,80.8" fill="none" stroke="#2222e4" stroke-width="2.2" stroke-linejoin="round" stroke-linecap="round" />
<polyline points="845.1,112.4 1014.3,90.2" fill="none" stroke="#2222e4" stroke-width="2.2" stroke-linejoin="round" stroke-linecap="round" />
<polyline points="845.1,112.4 1015.0,95.9" fill="none" stroke="#2222e4" stroke-width="2.2" stroke-linejoin="round" stroke-linecap="round" />
<polyline points="845.1,112.4 1015.4,100.8" fill="none" stroke="#2222e4" stroke-width="2.2" stroke-linejoin="round" stroke-linecap="round" />
<polyline points="845.1,112.4 1015.8,112.4" fill="none" stroke="#2222e4" stroke-width="2.2" stroke-linejoin="round" stroke-linecap="round" />
<polyline points="845.1,112.4 1015.4,124.0" fill="none" stroke="#2222e4" stroke-width="2.2" stroke-linejoin="round" stroke-linecap="round" />
<polyline points="845.1,112.4 1015.0,128.9" fill="none" stroke="#2222e4" stroke-width="2.2" stroke-linejoin="round" stroke-linecap="round" />
<polyline points="845.1,112.4 1014.3,134.6" fill="none" stroke="#2222e4" stroke-width="2.2" stroke-linejoin="round" stroke-linecap="round" />
<polyline points="845.1,112.4 1012.8,144.0" fill="none" stroke="#2222e4" stroke-width="2.2" stroke-linejoin="round" stroke-linecap="round" />
<polyline points="845.1,112.4 1015.8,112.4" fill="none" stroke="#2222e4" stroke-width="2.2" stroke-linejoin="round" stroke-linecap="round" />
<polyline points="845.1,112.4 1015.8,112.4" fill="none" stroke="#2222e4" stroke-width="2.2" stroke-linejoin="round" stroke-linecap="round" />
<polyline points="845.1,112.4 1015.8,112.4" fill="none" stroke="#2222e4" stroke-width="2.2" stroke-linejoin="round" stroke-linecap="round" />
<polyline points="845.1,112.4 1015.8,112.4" fill="none" stroke="#2222e4" stroke-width="2.2" stroke-linejoin="round" stroke-linecap="round" />
<polyline points="845.1,112.4 1015.8,112.4" fill="none" stroke="#2222e4" stroke-width="2.2" stroke-linejoin="round" stroke-linecap="round" />
<polyline points="845.1,112.4 1015.8,112.4" fill="none" stroke="#2222e4" stroke-width="2.2" stroke-linejoin="round" stroke-linecap="round" />
<polyline points="845.1,112.4 1015.8,112.4" fill="none" stroke="#2222e4" stroke-width="2.2" stroke-linejoin="round" stroke-linecap="round" />
<polyline points="845.1,112.4 1015.8,112.4" fill="none" stroke="#2222e4" stroke-width="2.2" stroke-linejoin="round" stroke-linecap="round" />
<polyline points="841.1,112.4 777.5,93.5" fill="none" stroke="#c81414" stroke-width="2.2" stroke-linejoin="round" stroke-linecap="round" />
<polyline points="841.1,112.4 777.7,132.0" fill="none" stroke="#c81414" stroke-width="2.2" stroke-linejoin="round" stroke-linecap="round" />
<polyline points="841.1,112.4 774.7,112.4" fill="none" stroke="#c81414" stroke-width="2.2" stroke-linejoin="round" stroke-linecap="round" />
<polyline points="841.1,112.4 776.2,98.4" fill="none" stroke="#c81414" stroke-width="2.2" stroke-linejoin="round" stroke-linecap="round" />
<polyline points="841.1,112.4 776.2,126.4" fill="none" stroke="#c81414" stroke-width="2.2" stroke-linejoin="round" stroke-linecap="round" />
<polyline points="841.1,112.4 846.4,111.1" fill="none" stroke="#c81414" stroke-width="2.2" stroke-linejoin="round" stroke-linecap="round" />
<polyline points="841.1,112.4 846.0,113.7" fill="none" stroke="#c81414" stroke-width="2.2" stroke-linejoin="round" stroke-linecap="round" />
<polyline points="841.1,112.4 894.1,112.4" fill="none" stroke="#c81414" stroke-width="2.2" stroke-linejoin="round" stroke-linecap="round" />
<polyline points="841.1,112.4 892.8,112.2" fill="none" stroke="#c81414" stroke-width="2.2" stroke-linejoin="round" stroke-linecap="round" />
<polyline points="841.1,112.4 886.8,112.0" fill="none" stroke="#c81414" stroke-width="2.2" stroke-linejoin="round" stroke-linecap="round" />
<polyline points="841.1,112.4 891.5,51.3" fill="none" stroke="#c81414" stroke-width="2.2" stroke-linejoin="round" stroke-linecap="round" />
<polyline points="841.1,112.4 887.2,56.6" fill="none" stroke="#c81414" stroke-width="2.2" stroke-linejoin="round" stroke-linecap="round" />
<polyline points="841.1,112.4 889.4,29.7" fill="none" stroke="#c81414" stroke-width="2.2" stroke-linejoin="round" stroke-linecap="round" />
<polyline points="841.1,112.4 891.5,174.0" fill="none" stroke="#c81414" stroke-width="2.2" stroke-linejoin="round" stroke-linecap="round" />
<polyline points="841.1,112.4 889.0,194.9" fill="none" stroke="#c81414" stroke-width="2.2" stroke-linejoin="round" stroke-linecap="round" />
<polyline points="841.1,112.4 846.4,46.2" fill="none" stroke="#c81414" stroke-width="2.2" stroke-linejoin="round" stroke-linecap="round" />
<polyline points="841.1,112.4 846.4,63.5" fill="none" stroke="#c81414" stroke-width="2.2" stroke-linejoin="round" stroke-linecap="round" />
<polyline points="841.1,112.4 847.1,179.1" fill="none" stroke="#c81414" stroke-width="2.2" stroke-linejoin="round" stroke-linecap="round" />
<polyline points="841.1,112.4 846.0,159.3" fill="none" stroke="#c81414" stroke-width="2.2" stroke-linejoin="round" stroke-linecap="round" />
<polyline points="841.1,112.4 846.9,157.1" fill="none" stroke="#c81414" stroke-width="2.2" stroke-linejoin="round" stroke-linecap="round" />
<rect x="764" y="20.4" width="265.29999999999995" height="183.79999999999998" fill="none" stroke="#000" stroke-width="2.2"/>
<line x1="774.3" y1="204.2" x2="774.3" y2="201.2" stroke="#000" stroke-width="1" />
<line x1="785.4" y1="204.2" x2="785.4" y2="198.2" stroke="#000" stroke-width="1.5" />
<line x1="796.5" y1="204.2" x2="796.5" y2="201.2" stroke="#000" stroke-width="1" />
<line x1="807.7" y1="204.2" x2="807.7" y2="201.2" stroke="#000" stroke-width="1" />
<line x1="818.8" y1="204.2" x2="818.8" y2="201.2" stroke="#000" stroke-width="1" />
<line x1="830.0" y1="204.2" x2="830.0" y2="201.2" stroke="#000" stroke-width="1" />
<line x1="841.1" y1="204.2" x2="841.1" y2="198.2" stroke="#000" stroke-width="1.5" />
<line x1="852.2" y1="204.2" x2="852.2" y2="201.2" stroke="#000" stroke-width="1" />
<line x1="863.4" y1="204.2" x2="863.4" y2="201.2" stroke="#000" stroke-width="1" />
<line x1="874.5" y1="204.2" x2="874.5" y2="201.2" stroke="#000" stroke-width="1" />
<line x1="885.7" y1="204.2" x2="885.7" y2="201.2" stroke="#000" stroke-width="1" />
<line x1="896.8" y1="204.2" x2="896.8" y2="198.2" stroke="#000" stroke-width="1.5" />
<line x1="907.9" y1="204.2" x2="907.9" y2="201.2" stroke="#000" stroke-width="1" />
<line x1="919.1" y1="204.2" x2="919.1" y2="201.2" stroke="#000" stroke-width="1" />
<line x1="930.2" y1="204.2" x2="930.2" y2="201.2" stroke="#000" stroke-width="1" />
<line x1="941.4" y1="204.2" x2="941.4" y2="201.2" stroke="#000" stroke-width="1" />
<line x1="952.5" y1="204.2" x2="952.5" y2="198.2" stroke="#000" stroke-width="1.5" />
<line x1="963.6" y1="204.2" x2="963.6" y2="201.2" stroke="#000" stroke-width="1" />
<line x1="974.8" y1="204.2" x2="974.8" y2="201.2" stroke="#000" stroke-width="1" />
<line x1="985.9" y1="204.2" x2="985.9" y2="201.2" stroke="#000" stroke-width="1" />
<line x1="997.1" y1="204.2" x2="997.1" y2="201.2" stroke="#000" stroke-width="1" />
<line x1="1008.2" y1="204.2" x2="1008.2" y2="198.2" stroke="#000" stroke-width="1.5" />
<line x1="1019.3" y1="204.2" x2="1019.3" y2="201.2" stroke="#000" stroke-width="1" />
<line x1="1029.3" y1="201.3" x2="1022.3" y2="201.3" stroke="#000" stroke-width="1.5" />
<line x1="1029.3" y1="192.4" x2="1026.3" y2="192.4" stroke="#000" stroke-width="1" />
<line x1="1029.3" y1="183.5" x2="1026.3" y2="183.5" stroke="#000" stroke-width="1" />
<line x1="1029.3" y1="174.6" x2="1026.3" y2="174.6" stroke="#000" stroke-width="1" />
<line x1="1029.3" y1="165.8" x2="1026.3" y2="165.8" stroke="#000" stroke-width="1" />
<line x1="1029.3" y1="156.9" x2="1022.3" y2="156.9" stroke="#000" stroke-width="1.5" />
<line x1="1029.3" y1="148.0" x2="1026.3" y2="148.0" stroke="#000" stroke-width="1" />
<line x1="1029.3" y1="139.1" x2="1026.3" y2="139.1" stroke="#000" stroke-width="1" />
<line x1="1029.3" y1="130.2" x2="1026.3" y2="130.2" stroke="#000" stroke-width="1" />
<line x1="1029.3" y1="121.3" x2="1026.3" y2="121.3" stroke="#000" stroke-width="1" />
<line x1="1029.3" y1="112.4" x2="1022.3" y2="112.4" stroke="#000" stroke-width="1.5" />
<line x1="1029.3" y1="103.5" x2="1026.3" y2="103.5" stroke="#000" stroke-width="1" />
<line x1="1029.3" y1="94.6" x2="1026.3" y2="94.6" stroke="#000" stroke-width="1" />
<line x1="1029.3" y1="85.7" x2="1026.3" y2="85.7" stroke="#000" stroke-width="1" />
<line x1="1029.3" y1="76.8" x2="1026.3" y2="76.8" stroke="#000" stroke-width="1" />
<line x1="1029.3" y1="67.9" x2="1022.3" y2="67.9" stroke="#000" stroke-width="1.5" />
<line x1="1029.3" y1="59.0" x2="1026.3" y2="59.0" stroke="#000" stroke-width="1" />
<line x1="1029.3" y1="50.2" x2="1026.3" y2="50.2" stroke="#000" stroke-width="1" />
<line x1="1029.3" y1="41.3" x2="1026.3" y2="41.3" stroke="#000" stroke-width="1" />
<line x1="1029.3" y1="32.4" x2="1026.3" y2="32.4" stroke="#000" stroke-width="1" />
<line x1="1029.3" y1="23.5" x2="1022.3" y2="23.5" stroke="#000" stroke-width="1.5" />
<text x="785.4" y="215.0" font-family="Liberation Sans" font-size="10.5" font-weight="bold" text-anchor="middle" >-0.25</text>
<text x="841.1" y="215.0" font-family="Liberation Sans" font-size="10.5" font-weight="bold" text-anchor="middle" >0</text>
<text x="896.8" y="215.0" font-family="Liberation Sans" font-size="10.5" font-weight="bold" text-anchor="middle" >0.25</text>
<text x="952.5" y="215.0" font-family="Liberation Sans" font-size="10.5" font-weight="bold" text-anchor="middle" >0.5</text>
<text x="1008.2" y="215.0" font-family="Liberation Sans" font-size="10.5" font-weight="bold" text-anchor="middle" >0.75</text>
<text x="1033.5" y="27.3" font-family="Liberation Sans" font-size="10.5" font-weight="bold" text-anchor="start" >0.4</text>
<text x="1033.5" y="71.7" font-family="Liberation Sans" font-size="10.5" font-weight="bold" text-anchor="start" >0.2</text>
<text x="1033.5" y="116.2" font-family="Liberation Sans" font-size="10.5" font-weight="bold" text-anchor="start" >0</text>
<text x="1033.5" y="160.7" font-family="Liberation Sans" font-size="10.5" font-weight="bold" text-anchor="start" >-0.2</text>
<text x="1033.5" y="205.1" font-family="Liberation Sans" font-size="10.5" font-weight="bold" text-anchor="start" >-0.4</text>
<text x="895.5" y="246.5" font-family="Liberation Sans" font-size="16" font-weight="bold" text-anchor="middle" >X (m)</text>
<text x="1072.0" y="112.8" font-family="Liberation Sans" font-size="16" font-weight="bold" text-anchor="middle" transform="rotate(-90 1072 112.8)" dy="0">Y (m)</text>
<rect x="770" y="387.5" width="264.70000000000005" height="310.20000000000005" fill="#ffffff"/>
<line x1="802.5" y1="387.5" x2="802.5" y2="697.7" stroke="#606060" stroke-width="1" />
<line x1="846.5" y1="387.5" x2="846.5" y2="697.7" stroke="#606060" stroke-width="1" />
<line x1="891.5" y1="387.5" x2="891.5" y2="697.7" stroke="#606060" stroke-width="1" />
<line x1="935.5" y1="387.5" x2="935.5" y2="697.7" stroke="#606060" stroke-width="1" />
<line x1="979.5" y1="387.5" x2="979.5" y2="697.7" stroke="#606060" stroke-width="1" />
<line x1="1024.5" y1="387.5" x2="1024.5" y2="697.7" stroke="#606060" stroke-width="1" />
<line x1="770.0" y1="684.5" x2="1034.7" y2="684.5" stroke="#606060" stroke-width="1" />
<line x1="770.0" y1="573.5" x2="1034.7" y2="573.5" stroke="#606060" stroke-width="1" />
<line x1="770.0" y1="462.5" x2="1034.7" y2="462.5" stroke="#606060" stroke-width="1" />
<polyline points="847.0,462.2 843.2,460.8 839.7,459.5 836.4,458.4 833.3,457.4 830.3,456.6 827.5,455.8 824.9,455.2 822.5,454.7 820.2,454.3 818.0,454.0 816.0,453.7 814.1,453.6 812.3,453.5 810.6,453.5 809.0,453.6 807.5,453.7 806.1,453.9 804.7,454.2 803.5,454.5 802.3,454.9 801.2,455.3 800.2,455.7 799.2,456.2 798.3,456.8 797.4,457.3 796.6,457.9 795.8,458.6 795.1,459.3 794.4,460.0 793.8,460.7 793.2,461.4 792.6,462.2 792.1,463.0 791.6,463.9 791.1,464.7 790.7,465.6 790.3,466.5 789.9,467.4 789.5,468.3 789.2,469.2 788.8,470.1 788.5,471.1 788.3,472.1 788.0,473.1 787.5,475.1 787.1,477.1 786.8,478.6 786.4,481.1 786.0,483.6 785.7,486.1 785.4,488.6 785.2,491.2 785.0,493.8 784.8,496.4 784.7,499.0 784.6,501.6 784.4,504.3 784.3,506.9 784.3,509.6 784.2,512.3 784.1,515.0 784.1,517.6 784.0,520.3 784.0,523.0 783.9,525.7 783.9,528.4 783.9,531.1 783.9,533.9 783.8,536.6 783.8,539.3 783.8,542.0 783.8,544.7 783.8,547.4 783.8,550.1 783.8,552.9 783.8,555.6 783.7,558.3 783.7,561.0 783.7,563.7 783.7,566.5 783.7,569.2 783.7,571.9 783.7,574.6 783.7,577.4 783.7,580.1 783.7,582.8 783.7,585.5 783.7,588.3 783.7,591.0 783.7,593.7 783.7,596.4 783.7,599.1 783.7,601.9 783.7,604.6 783.7,607.3 783.7,610.0 783.7,612.8 783.7,615.5 783.7,618.2 783.7,620.9 783.7,623.7 783.7,626.4 783.7,629.1 783.7,631.8 783.7,634.6 783.7,637.3 783.7,640.0 783.7,642.7 783.7,645.5 783.7,648.2 783.7,650.9 783.7,653.6 783.7,656.4 783.7,659.1 783.7,661.8 783.7,664.5 783.7,667.3 783.7,670.0 783.7,672.7 783.7,675.4 783.7,678.2 783.7,680.9 783.7,683.6 783.7,684.1" fill="none" stroke="#c81414" stroke-width="2.3" stroke-linejoin="round" stroke-linecap="round" />
<polyline points="847.0,462.2 843.3,461.0 839.7,459.9 836.4,459.0 833.3,458.2 830.4,457.5 827.6,456.9 825.0,456.5 822.6,456.1 820.3,455.8 818.1,455.6 816.1,455.5 814.2,455.4 812.4,455.5 810.7,455.6 809.1,455.7 807.6,455.9 806.2,456.2 804.9,456.6 803.6,456.9 802.5,457.4 801.4,457.8 800.3,458.3 799.3,458.9 798.4,459.5 797.6,460.1 796.8,460.8 796.0,461.5 795.3,462.2 794.6,462.9 794.0,463.7 793.4,464.5 792.8,465.3 792.3,466.1 791.8,467.0 791.3,467.8 790.9,468.7 790.5,469.6 790.1,470.6 789.7,471.5 789.4,472.4 789.0,473.4 788.7,474.4 788.4,475.4 788.2,476.4 787.9,477.4 787.5,479.4 787.0,481.5 786.6,484.5 786.2,487.0 785.9,489.5 785.6,492.1 785.4,494.6 785.2,497.2 785.0,499.9 784.9,502.5 784.8,505.1 784.6,507.8 784.5,510.5 784.5,513.1 784.4,515.8 784.3,518.5 784.3,521.2 784.2,523.9 784.2,526.6 784.1,529.3 784.1,532.0 784.1,534.7 784.1,537.4 784.0,540.1 784.0,542.8 784.0,545.5 784.0,548.3 784.0,551.0 784.0,553.7 784.0,556.4 784.0,559.1 784.0,561.9 783.9,564.6 783.9,567.3 783.9,570.0 783.9,572.7 783.9,575.5 783.9,578.2 783.9,580.9 783.9,583.6 783.9,586.4 783.9,589.1 783.9,591.8 783.9,594.5 783.9,597.2 783.9,600.0 783.9,602.7 783.9,605.4 783.9,608.1 783.9,610.9 783.9,613.6 783.9,616.3 783.9,619.0 783.9,621.8 783.9,624.5 783.9,627.2 783.9,629.9 783.9,632.7 783.9,635.4 783.9,638.1 783.9,640.8 783.9,643.6 783.9,646.3 783.9,649.0 783.9,651.7 783.9,654.5 783.9,657.2 783.9,659.9 783.9,662.6 783.9,665.4 783.9,668.1 783.9,670.8 783.9,673.5 783.9,676.3 783.9,679.0 783.9,681.7 783.9,684.1" fill="none" stroke="#c81414" stroke-width="2.3" stroke-linejoin="round" stroke-linecap="round" />
<polyline points="847.0,462.2 843.1,461.5 839.4,460.9 835.9,460.4 832.7,460.0 829.6,459.7 826.7,459.5 824.0,459.3 821.4,459.3 819.0,459.3 816.8,459.4 814.6,459.5 812.6,459.7 810.8,460.0 809.0,460.3 807.3,460.7 805.8,461.1 804.3,461.5 802.9,462.0 801.6,462.6 800.4,463.2 799.2,463.8 798.1,464.4 797.1,465.1 796.2,465.8 795.3,466.5 794.4,467.3 793.6,468.1 792.9,468.9 792.1,469.7 791.5,470.6 790.9,471.4 790.3,472.3 789.7,473.2 789.2,474.2 788.7,475.1 788.3,476.0 787.8,477.0 787.4,478.0 787.0,478.9 786.7,479.9 786.3,480.9 786.0,482.0 785.4,484.0 784.9,486.1 784.5,488.2 784.2,489.8 783.7,492.3 783.4,494.9 783.0,497.5 782.8,500.1 782.5,502.7 782.3,505.3 782.1,507.9 782.0,510.6 781.8,513.2 781.7,515.9 781.6,518.6 781.5,521.3 781.5,524.0 781.4,526.6 781.3,529.3 781.3,532.0 781.2,534.7 781.2,537.5 781.2,540.2 781.1,542.9 781.1,545.6 781.1,548.3 781.1,551.0 781.1,553.7 781.1,556.5 781.0,559.2 781.0,561.9 781.0,564.6 781.0,567.3 781.0,570.1 781.0,572.8 781.0,575.5 781.0,578.2 781.0,580.9 781.0,583.7 781.0,586.4 781.0,589.1 781.0,591.8 781.0,594.6 781.0,597.3 781.0,600.0 781.0,602.7 781.0,605.5 781.0,608.2 781.0,610.9 781.0,613.6 781.0,616.4 781.0,619.1 781.0,621.8 781.0,624.5 781.0,627.3 781.0,630.0 781.0,632.7 781.0,635.4 781.0,638.2 781.0,640.9 781.0,643.6 781.0,646.3 781.0,649.1 781.0,651.8 781.0,654.5 781.0,657.2 781.0,660.0 781.0,662.7 781.0,665.4 781.0,668.1 781.0,670.9 781.0,673.6 781.0,676.3 781.0,679.0 781.0,681.7 781.0,684.1" fill="none" stroke="#c81414" stroke-width="2.3" stroke-linejoin="round" stroke-linecap="round" />
<polyline points="847.0,462.2 843.2,462.6 839.6,463.1 836.2,463.7 833.0,464.2 830.0,464.8 827.2,465.5 824.5,466.1 822.0,466.8 819.7,467.5 817.4,468.3 815.4,469.1 813.4,469.9 811.6,470.7 809.8,471.5 808.2,472.4 806.7,473.3 805.3,474.2 803.9,475.1 802.6,476.0 801.4,476.9 800.3,477.9 799.2,478.9 798.2,479.9 797.3,480.8 796.4,481.8 795.6,482.9 794.8,483.9 794.1,484.9 793.4,485.9 792.7,487.0 792.1,488.0 791.6,489.1 791.0,490.2 790.5,491.2 790.0,492.3 789.6,493.4 789.2,494.5 788.8,495.6 788.4,496.7 788.0,497.8 787.7,498.9 787.4,500.0 787.1,501.1 786.8,502.2 786.6,503.3 786.3,504.5 786.1,505.6 785.9,506.7 785.7,507.9 785.2,511.1 784.8,513.7 784.5,516.4 784.2,519.1 784.0,521.7 783.8,524.4 783.6,527.1 783.5,529.8 783.3,532.5 783.2,535.2 783.1,537.9 783.0,540.6 782.9,543.3 782.9,546.0 782.8,548.8 782.8,551.5 782.7,554.2 782.7,556.9 782.7,559.6 782.6,562.3 782.6,565.1 782.6,567.8 782.6,570.5 782.6,573.2 782.5,576.0 782.5,578.7 782.5,581.4 782.5,584.1 782.5,586.8 782.5,589.6 782.5,592.3 782.5,595.0 782.5,597.7 782.5,600.5 782.5,603.2 782.5,605.9 782.5,608.6 782.5,611.4 782.5,614.1 782.5,616.8 782.5,619.5 782.5,622.3 782.5,625.0 782.5,627.7 782.5,630.4 782.5,633.2 782.5,635.9 782.5,638.6 782.5,641.3 782.5,644.1 782.5,646.8 782.5,649.5 782.5,652.2 782.5,655.0 782.5,657.7 782.5,660.4 782.5,663.1 782.5,665.9 782.5,668.6 782.5,671.3 782.5,674.0 782.5,676.8 782.5,679.5 782.5,682.2 782.5,684.1" fill="none" stroke="#c81414" stroke-width="2.3" stroke-linejoin="round" stroke-linecap="round" />
<polyline points="847.0,462.2 843.2,463.0 839.6,463.7 836.2,464.6 833.0,465.4 830.0,466.2 827.2,467.1 824.5,468.0 822.0,468.9 819.7,469.8 817.4,470.7 815.4,471.7 813.4,472.6 811.6,473.6 809.8,474.6 808.2,475.6 806.7,476.6 805.3,477.6 803.9,478.6 802.6,479.7 801.4,480.7 800.3,481.8 799.2,482.8 798.2,483.9 797.3,484.9 796.4,486.0 795.6,487.1 794.8,488.2 794.1,489.3 793.4,490.4 792.7,491.5 792.1,492.6 791.6,493.7 791.0,494.8 790.5,495.9 790.0,497.0 789.6,498.1 789.2,499.3 788.8,500.4 788.4,501.5 788.0,502.7 787.7,503.8 787.4,504.9 787.1,506.1 786.8,507.2 786.6,508.3 786.3,509.5 786.1,510.6 785.9,511.8 785.7,512.9 785.2,516.2 784.8,518.8 784.5,521.5 784.2,524.2 784.0,526.9 783.8,529.6 783.6,532.3 783.5,535.0 783.3,537.8 783.2,540.5 783.1,543.2 783.0,545.9 782.9,548.6 782.9,551.3 782.8,554.1 782.8,556.8 782.7,559.5 782.7,562.2 782.7,564.9 782.6,567.7 782.6,570.4 782.6,573.1 782.6,575.8 782.6,578.5 782.5,581.3 782.5,584.0 782.5,586.7 782.5,589.4 782.5,592.2 782.5,594.9 782.5,597.6 782.5,600.3 782.5,603.1 782.5,605.8 782.5,608.5 782.5,611.2 782.5,614.0 782.5,616.7 782.5,619.4 782.5,622.1 782.5,624.9 782.5,627.6 782.5,630.3 782.5,633.0 782.5,635.8 782.5,638.5 782.5,641.2 782.5,643.9 782.5,646.7 782.5,649.4 782.5,652.1 782.5,654.8 782.5,657.6 782.5,660.3 782.5,663.0 782.5,665.7 782.5,668.5 782.5,671.2 782.5,673.9 782.5,676.6 782.5,679.4 782.5,682.1 782.5,684.1" fill="none" stroke="#c81414" stroke-width="2.3" stroke-linejoin="round" stroke-linecap="round" />
<polyline points="847.0,462.2 847.3,457.8 847.6,453.6 847.9,449.9 848.2,446.4 848.4,443.2 848.6,440.2 848.9,437.5 849.1,435.0 849.3,432.8 849.4,430.7 849.6,428.9 849.8,427.2 849.9,425.7 850.1,424.4 850.2,423.2 850.4,421.3 850.7,419.8 850.9,418.5 851.6,419.4 851.7,420.8 851.8,422.6 851.9,423.9 851.9,425.4 852.0,427.0 852.0,428.7 852.0,430.5 852.1,431.9 852.1,434.1 852.1,436.5 852.2,438.9 852.2,441.3 852.2,443.8 852.2,446.4 852.2,449.0 852.2,451.6 852.2,454.2 852.3,456.9 852.3,459.6 852.3,462.3 852.3,465.1 852.3,467.8 852.3,470.6 852.3,473.4 852.3,476.2 852.3,479.0 852.3,481.8 852.3,484.6 852.3,487.4 852.3,490.2 852.3,493.1 852.3,495.9 852.3,498.7 852.3,501.5 852.3,504.4 852.3,507.2 852.3,510.1 852.3,512.9 852.3,515.7 852.3,518.6 852.3,521.4 852.3,524.3 852.3,527.1 852.3,530.0 852.3,532.8 852.3,535.7 852.3,538.5 852.3,541.4 852.3,544.2 852.3,547.1 852.3,549.9 852.3,552.8 852.3,555.6 852.3,558.5 852.3,561.3 852.3,564.2 852.3,567.0 852.3,569.9 852.3,572.7 852.3,575.6 852.3,578.4 852.3,581.3 852.3,584.1 852.3,587.0 852.3,589.8 852.3,592.7 852.3,595.5 852.3,598.4 852.3,601.2 852.3,604.1 852.3,606.9 852.3,609.8 852.3,612.6 852.3,615.5 852.3,618.3 852.3,621.2 852.3,624.0 852.3,626.9 852.3,629.8 852.3,632.6 852.3,635.5 852.3,638.3 852.3,641.2 852.3,644.0 852.3,646.9 852.3,649.7 852.3,652.6 852.3,655.4 852.3,658.3 852.3,661.1 852.3,664.0 852.3,666.8 852.3,669.7 852.3,672.5 852.3,675.4 852.3,678.2 852.3,681.1 852.3,683.9 852.3,684.1" fill="none" stroke="#c81414" stroke-width="2.3" stroke-linejoin="round" stroke-linecap="round" />
<polyline points="847.0,462.2 847.3,459.5 847.6,457.0 847.8,454.7 848.1,452.6 848.3,450.8 848.5,449.1 848.7,447.6 848.9,446.2 849.1,445.0 849.4,443.0 849.7,441.6 849.9,440.5 850.4,439.7 850.8,440.6 851.0,441.9 851.1,443.5 851.2,444.8 851.3,446.2 851.4,447.8 851.4,449.4 851.5,451.2 851.5,453.0 851.6,454.9 851.6,456.8 851.6,458.9 851.7,461.8 851.7,464.3 851.7,466.8 851.7,469.4 851.8,472.0 851.8,474.6 851.8,477.3 851.8,480.0 851.8,482.7 851.8,485.4 851.8,488.2 851.8,490.9 851.8,493.7 851.8,496.5 851.8,499.3 851.9,502.1 851.9,504.9 851.9,507.7 851.9,510.5 851.9,513.4 851.9,516.2 851.9,519.0 851.9,521.8 851.9,524.7 851.9,527.5 851.9,530.4 851.9,533.2 851.9,536.0 851.9,538.9 851.9,541.7 851.9,544.6 851.9,547.4 851.9,550.3 851.9,553.1 851.9,556.0 851.9,558.8 851.9,561.7 851.9,564.5 851.9,567.4 851.9,570.2 851.9,573.1 851.9,575.9 851.9,578.8 851.9,581.6 851.9,584.5 851.9,587.3 851.9,590.2 851.9,593.0 851.9,595.9 851.9,598.7 851.9,601.6 851.9,604.4 851.9,607.3 851.9,610.1 851.9,613.0 851.9,615.8 851.9,618.7 851.9,621.5 851.9,624.4 851.9,627.2 851.9,630.1 851.9,632.9 851.9,635.8 851.9,638.6 851.9,641.5 851.9,644.3 851.9,647.2 851.9,650.0 851.9,652.9 851.9,655.7 851.9,658.6 851.9,661.5 851.9,664.3 851.9,667.2 851.9,670.0 851.9,672.9 851.9,675.7 851.9,678.6 851.9,681.4 851.9,684.1" fill="none" stroke="#c81414" stroke-width="2.3" stroke-linejoin="round" stroke-linecap="round" />
<polyline points="847.0,462.2 850.1,456.8 853.1,451.9 855.8,447.2 858.5,442.9 860.9,438.9 863.2,435.2 865.4,431.8 867.4,428.7 869.3,425.8 871.1,423.1 872.8,420.6 874.4,418.4 875.9,416.3 877.4,414.4 878.7,412.7 879.9,411.1 881.1,409.7 882.2,408.4 883.3,407.3 884.2,406.3 885.2,405.4 886.0,404.6 886.8,403.9 887.6,403.3 889.0,402.4 890.2,401.9 891.3,401.6 892.7,401.6 893.9,402.2 894.9,403.1 895.5,403.9 895.9,404.8 896.4,405.9 896.8,407.0 897.1,408.3 897.5,410.1 897.8,411.8 898.1,413.5 898.3,415.3 898.5,417.2 898.7,419.1 898.8,421.1 898.9,423.1 899.0,425.1 899.1,427.2 899.2,429.2 899.3,431.3 899.3,433.5 899.4,435.6 899.4,437.8 899.5,439.9 899.5,442.1 899.5,444.3 899.6,446.5 899.6,448.7 899.6,450.9 899.6,453.1 899.6,455.4 899.7,457.6 899.7,459.8 899.7,462.0 899.7,464.3 899.7,466.5 899.7,468.7 899.7,471.0 899.7,473.2 899.7,475.5 899.7,477.7 899.7,479.9 899.7,482.2 899.7,484.4 899.7,486.7 899.7,488.9 899.7,491.2 899.7,493.4 899.7,495.7 899.7,497.9 899.7,500.2 899.7,502.4 899.7,504.7 899.7,506.9 899.7,509.2 899.7,511.4 899.7,513.7 899.7,515.9 899.7,518.2 899.7,520.4 899.7,522.7 899.7,524.9 899.7,527.2 899.7,529.4 899.7,531.6 899.7,533.9 899.7,536.1 899.7,538.4 899.7,540.6 899.7,542.9 899.7,545.1 899.7,547.4 899.7,549.6 899.7,551.9 899.7,554.1 899.7,556.4 899.7,558.6 899.7,560.9 899.7,563.1 899.7,565.4 899.7,567.6 899.7,569.9 899.7,572.1 899.7,574.4 899.7,576.6 899.7,578.9 899.7,581.1 899.7,583.4 899.7,585.6 899.7,587.9 899.7,590.1 899.7,592.4 899.7,594.6 899.7,596.9 899.7,599.1 899.7,601.4 899.7,603.6 899.7,605.9 899.7,608.1 899.7,610.4 899.7,612.6 899.7,614.9 899.7,617.1 899.7,619.4 899.7,621.6 899.7,623.9 899.7,626.1 899.7,628.4 899.7,630.6 899.7,632.9 899.7,635.1 899.7,637.4 899.7,639.6 899.7,641.9 899.7,644.1 899.7,646.4 899.7,648.6 899.7,650.9 899.7,653.1 899.7,655.4 899.7,657.6 899.7,659.9 899.7,662.1 899.7,664.4 899.7,666.6 899.7,668.9 899.7,671.1 899.7,673.4 899.7,675.6 899.7,677.9 899.7,680.1 899.7,682.4 899.7,684.1" fill="none" stroke="#c81414" stroke-width="2.3" stroke-linejoin="round" stroke-linecap="round" />
<polyline points="847.0,462.2 850.1,458.3 852.9,454.7 855.6,451.4 858.2,448.4 860.6,445.5 862.8,442.9 864.9,440.6 866.9,438.4 868.8,436.4 870.5,434.6 872.2,433.0 873.8,431.5 875.2,430.2 876.6,429.0 877.9,428.0 879.1,427.0 880.3,426.2 881.3,425.5 882.3,424.9 883.3,424.4 885.0,423.7 886.6,423.3 887.9,423.1 889.2,423.2 890.2,423.6 891.2,424.1 892.0,424.9 892.7,425.7 893.4,426.7 894.0,427.9 894.5,429.1 894.9,430.5 895.3,431.9 895.7,433.4 895.9,434.5 896.3,436.4 896.5,438.4 896.8,440.4 897.0,442.4 897.2,444.5 897.4,446.7 897.5,448.9 897.6,451.1 897.7,453.3 897.8,455.6 897.9,457.8 898.0,460.1 898.0,462.5 898.1,464.8 898.1,467.1 898.2,469.5 898.2,471.8 898.2,474.2 898.2,476.5 898.3,478.9 898.3,481.3 898.3,483.7 898.3,486.1 898.3,488.5 898.3,490.8 898.4,493.2 898.4,495.6 898.4,498.0 898.4,500.4 898.4,502.8 898.4,505.2 898.4,507.6 898.4,510.0 898.4,512.4 898.4,514.8 898.4,517.2 898.4,519.6 898.4,522.0 898.4,524.5 898.4,526.9 898.4,529.3 898.4,531.7 898.4,534.1 898.4,536.5 898.4,538.9 898.4,541.3 898.4,543.7 898.4,546.1 898.4,548.5 898.4,550.9 898.4,553.3 898.4,555.7 898.4,558.2 898.4,560.6 898.4,563.0 898.4,565.4 898.4,567.8 898.4,570.2 898.4,572.6 898.4,575.0 898.4,577.4 898.4,579.8 898.4,582.2 898.4,584.6 898.4,587.0 898.4,589.5 898.4,591.9 898.4,594.3 898.4,596.7 898.4,599.1 898.4,601.5 898.4,603.9 898.4,606.3 898.4,608.7 898.4,611.1 898.4,613.5 898.4,615.9 898.4,618.3 898.4,620.8 898.4,623.2 898.4,625.6 898.4,628.0 898.4,630.4 898.4,632.8 898.4,635.2 898.4,637.6 898.4,640.0 898.4,642.4 898.4,644.8 898.4,647.2 898.4,649.7 898.4,652.1 898.4,654.5 898.4,656.9 898.4,659.3 898.4,661.7 898.4,664.1 898.4,666.5 898.4,668.9 898.4,671.3 898.4,673.7 898.4,676.1 898.4,678.5 898.4,681.0 898.4,683.4 898.4,684.1" fill="none" stroke="#c81414" stroke-width="2.3" stroke-linejoin="round" stroke-linecap="round" />
<polyline points="847.0,462.2 849.7,463.0 852.2,463.8 854.6,464.6 856.9,465.5 859.0,466.5 861.0,467.5 862.8,468.5 864.6,469.5 866.2,470.6 867.8,471.8 869.3,472.9 870.6,474.1 871.9,475.3 873.1,476.5 874.3,477.8 875.4,479.1 876.4,480.4 877.3,481.7 878.2,483.0 879.1,484.3 879.9,485.7 880.6,487.1 881.3,488.5 882.0,489.9 882.6,491.3 883.2,492.7 883.7,494.2 884.2,495.6 884.7,497.1 885.2,498.6 885.6,500.1 886.0,501.5 886.4,503.0 886.8,504.5 887.1,506.1 887.4,507.6 887.7,509.1 888.0,510.6 888.3,512.2 888.5,513.7 888.7,515.2 889.0,516.8 889.2,518.3 889.4,519.9 889.5,521.4 889.7,523.0 889.9,524.6 890.0,526.1 890.2,527.7 890.5,532.2 890.8,535.9 891.0,539.6 891.2,543.3 891.4,547.0 891.5,550.7 891.6,554.4 891.7,558.2 891.8,561.9 891.9,565.7 892.0,569.4 892.0,573.2 892.1,576.9 892.1,580.7 892.2,584.4 892.2,588.2 892.2,591.9 892.3,595.7 892.3,599.5 892.3,603.2 892.3,607.0 892.3,610.8 892.3,614.5 892.4,618.3 892.4,622.1 892.4,625.8 892.4,629.6 892.4,633.4 892.4,637.1 892.4,640.9 892.4,644.7 892.4,648.4 892.4,652.2 892.4,656.0 892.4,659.8 892.4,663.5 892.4,667.3 892.4,671.1 892.4,674.8 892.4,678.6 892.4,682.4 892.4,684.1" fill="none" stroke="#c81414" stroke-width="2.3" stroke-linejoin="round" stroke-linecap="round" />
<polyline points="847.0,462.2 850.0,458.2 852.8,454.5 855.4,451.0 857.9,447.9 860.2,445.0 862.4,442.3 864.5,439.9 866.4,437.6 868.2,435.6 869.9,433.8 871.5,432.1 873.1,430.6 874.5,429.2 875.8,428.0 877.1,427.0 878.3,426.1 879.4,425.2 880.4,424.6 881.4,424.0 882.4,423.5 883.2,423.1 884.1,422.8 884.8,422.6 885.6,422.5 886.2,422.4 886.9,422.4 887.5,422.5 888.1,422.6 888.6,422.8 889.1,423.1 889.6,423.4 890.0,423.8 890.4,424.2 891.2,425.1 891.9,426.2 892.5,427.4 893.0,428.7 893.5,430.2 893.9,431.7 894.3,433.3 894.6,435.0 895.0,437.5 895.3,439.7 895.5,441.9 895.7,444.1 895.9,446.4 896.1,448.8 896.2,451.2 896.3,453.6 896.4,456.1 896.5,458.5 896.6,461.0 896.6,463.6 896.7,466.1 896.8,468.6 896.8,471.2 896.8,473.7 896.9,476.3 896.9,478.9 896.9,481.5 896.9,484.1 897.0,486.7 897.0,489.3 897.0,491.9 897.0,494.5 897.0,497.1 897.0,499.7 897.0,502.3 897.0,505.0 897.0,507.6 897.0,510.2 897.1,512.8 897.1,515.4 897.1,518.1 897.1,520.7 897.1,523.3 897.1,525.9 897.1,528.6 897.1,531.2 897.1,533.8 897.1,536.4 897.1,539.1 897.1,541.7 897.1,544.3 897.1,547.0 897.1,549.6 897.1,552.2 897.1,554.8 897.1,557.5 897.1,560.1 897.1,562.7 897.1,565.4 897.1,568.0 897.1,570.6 897.1,573.2 897.1,575.9 897.1,578.5 897.1,581.1 897.1,583.8 897.1,586.4 897.1,589.0 897.1,591.7 897.1,594.3 897.1,596.9 897.1,599.5 897.1,602.2 897.1,604.8 897.1,607.4 897.1,610.1 897.1,612.7 897.1,615.3 897.1,618.0 897.1,620.6 897.1,623.2 897.1,625.8 897.1,628.5 897.1,631.1 897.1,633.7 897.1,636.4 897.1,639.0 897.1,641.6 897.1,644.2 897.1,646.9 897.1,649.5 897.1,652.1 897.1,654.8 897.1,657.4 897.1,660.0 897.1,662.7 897.1,665.3 897.1,667.9 897.1,670.5 897.1,673.2 897.1,675.8 897.1,678.4 897.1,681.1 897.1,683.7 897.1,684.1" fill="none" stroke="#c81414" stroke-width="2.3" stroke-linejoin="round" stroke-linecap="round" />
<polyline points="847.0,462.2 849.7,465.0 852.3,467.8 854.7,470.5 857.0,473.2 859.1,475.8 861.1,478.3 863.0,480.8 864.8,483.3 866.4,485.7 868.0,488.1 869.5,490.4 870.9,492.7 872.2,494.9 873.4,497.2 874.6,499.3 875.6,501.5 876.7,503.6 877.6,505.8 878.5,507.8 879.4,509.9 880.2,512.0 880.9,514.0 881.7,516.0 882.3,518.0 882.9,519.9 883.5,521.9 884.1,523.8 884.6,525.8 885.1,527.7 885.6,529.6 886.0,531.5 886.4,533.4 886.8,535.2 887.1,537.1 887.5,539.0 887.8,540.8 888.1,542.6 888.4,544.5 888.7,546.3 888.9,548.1 889.1,549.9 889.4,551.7 889.6,553.5 889.8,555.3 890.0,557.1 890.1,558.9 890.3,560.7 890.4,562.4 890.6,564.2 890.9,569.2 891.2,573.3 891.4,577.4 891.6,581.4 891.8,585.5 891.9,589.6 892.1,593.6 892.2,597.6 892.3,601.7 892.3,605.7 892.4,609.7 892.5,613.7 892.5,617.8 892.6,621.8 892.6,625.8 892.6,629.8 892.7,633.8 892.7,637.8 892.7,641.8 892.7,645.8 892.8,649.8 892.8,653.8 892.8,657.8 892.8,661.8 892.8,665.8 892.8,669.8 892.8,673.8 892.8,677.8 892.8,681.8 892.9,684.1" fill="none" stroke="#c81414" stroke-width="2.3" stroke-linejoin="round" stroke-linecap="round" />
<polyline points="847.0,462.2 849.9,462.2 852.5,462.2 855.1,462.3 857.4,462.4 859.7,462.5 861.8,462.7 863.8,462.9 865.6,463.1 867.4,463.4 869.0,463.7 870.6,464.0 872.0,464.3 873.4,464.6 874.7,465.0 875.9,465.4 877.0,465.8 878.1,466.2 879.1,466.6 880.1,467.1 881.0,467.5 881.8,468.0 882.6,468.5 883.3,469.0 884.0,469.5 884.7,470.0 885.3,470.5 885.9,471.0 886.4,471.6 886.9,472.1 887.4,472.7 887.9,473.2 888.3,473.8 888.7,474.4 889.1,474.9 889.4,475.5 889.8,476.1 890.1,476.7 890.4,477.3 890.7,477.9 891.2,479.1 891.6,480.3 892.0,481.6 892.4,482.8 892.7,484.1 893.1,485.9 893.3,487.3 893.6,488.8 893.8,490.3 893.9,491.9 894.1,493.4 894.2,494.9 894.3,496.4 894.4,498.0 894.5,499.5 894.6,501.0 894.7,502.6 894.7,504.1 894.8,505.6 894.8,507.2 894.9,508.7 894.9,510.3 894.9,511.8 894.9,513.4 895.0,514.9 895.0,516.5 895.0,518.0 895.0,519.6 895.0,521.1 895.0,522.7 895.0,524.2 895.0,525.8 895.0,527.3 895.1,528.9 895.1,530.4 895.1,532.0 895.1,533.5 895.1,535.1 895.1,536.6 895.1,538.2 895.1,539.7 895.1,541.3 895.1,542.8 895.1,544.4 895.1,545.9 895.1,547.5 895.1,549.0 895.1,550.6 895.1,552.1 895.1,553.7 895.1,555.2 895.1,556.8 895.1,558.3 895.1,559.9 895.1,561.5 895.1,563.0 895.1,564.6 895.1,566.1 895.1,567.7 895.1,569.2 895.1,570.8 895.1,572.3 895.1,573.9 895.1,575.4 895.1,577.0 895.1,578.5 895.1,580.1 895.1,581.6 895.1,583.2 895.1,584.7 895.1,586.3 895.1,587.8 895.1,589.4 895.1,590.9 895.1,592.5 895.1,594.1 895.1,595.6 895.1,597.2 895.1,598.7 895.1,600.3 895.1,601.8 895.1,603.4 895.1,604.9 895.1,606.5 895.1,608.0 895.1,609.6 895.1,611.1 895.1,612.7 895.1,614.2 895.1,615.8 895.1,617.3 895.1,618.9 895.1,620.4 895.1,622.0 895.1,623.6 895.1,625.1 895.1,626.7 895.1,628.2 895.1,629.8 895.1,631.3 895.1,632.9 895.1,634.4 895.1,636.0 895.1,637.5 895.1,639.1 895.1,640.6 895.1,642.2 895.1,643.7 895.1,645.3 895.1,646.8 895.1,648.4 895.1,649.9 895.1,651.5 895.1,653.0 895.1,654.6 895.1,656.2 895.1,657.7 895.1,659.3 895.1,660.8 895.1,662.4 895.1,663.9 895.1,665.5 895.1,667.0 895.1,668.6 895.1,670.1 895.1,671.7 895.1,673.2 895.1,674.8 895.1,676.3 895.1,677.9 895.1,679.4 895.1,681.0 895.1,682.5 895.1,684.1 895.1,684.1" fill="none" stroke="#c81414" stroke-width="2.3" stroke-linejoin="round" stroke-linecap="round" />
<polyline points="847.0,462.2 850.0,465.9 852.8,469.5 855.4,473.0 857.9,476.3 860.2,479.5 862.4,482.6 864.5,485.6 866.4,488.5 868.2,491.3 869.9,494.1 871.5,496.7 873.1,499.3 874.5,501.8 875.8,504.2 877.1,506.6 878.3,508.9 879.4,511.1 880.4,513.3 881.4,515.5 882.4,517.6 883.2,519.6 884.1,521.6 884.8,523.6 885.6,525.6 886.2,527.5 886.9,529.3 887.5,531.2 888.1,533.0 888.6,534.8 889.1,536.5 889.6,538.3 890.0,540.0 890.4,541.7 890.8,543.4 891.2,545.0 891.6,546.6 891.9,548.3 892.2,549.9 892.5,551.5 892.8,553.0 893.0,554.6 893.3,556.1 893.5,557.7 893.7,559.2 893.9,560.7 894.1,562.2 894.3,563.7 894.4,565.2 894.6,566.7 895.0,570.9 895.3,574.3 895.5,577.6 895.7,581.0 895.9,584.3 896.1,587.6 896.2,590.8 896.3,594.1 896.4,597.4 896.5,600.6 896.6,603.8 896.6,607.0 896.7,610.3 896.8,613.5 896.8,616.7 896.8,619.9 896.9,623.1 896.9,626.3 896.9,629.4 896.9,632.6 897.0,635.8 897.0,639.0 897.0,642.2 897.0,645.4 897.0,648.5 897.0,651.7 897.0,654.9 897.0,658.1 897.0,661.2 897.0,664.4 897.1,667.6 897.1,670.7 897.1,673.9 897.1,677.1 897.1,680.3 897.1,683.4 897.1,684.1" fill="none" stroke="#c81414" stroke-width="2.3" stroke-linejoin="round" stroke-linecap="round" />
<polyline points="847.0,462.2 849.8,462.9 852.5,463.6 855.0,464.4 857.3,465.2 859.6,466.1 861.6,466.9 863.6,467.8 865.5,468.8 867.2,469.7 868.8,470.7 870.3,471.7 871.8,472.7 873.1,473.8 874.4,474.8 875.6,475.9 876.8,477.0 877.8,478.1 878.8,479.2 879.8,480.4 880.6,481.5 881.5,482.7 882.3,483.9 883.0,485.1 883.7,486.3 884.3,487.5 884.9,488.7 885.5,489.9 886.1,491.1 886.6,492.4 887.1,493.6 887.5,494.9 887.9,496.1 888.3,497.4 888.7,498.7 889.1,500.0 889.4,501.2 889.7,502.5 890.0,503.8 890.3,505.1 890.5,506.4 890.8,507.7 891.0,509.0 891.2,510.3 891.4,511.6 891.6,512.9 891.8,514.3 892.0,515.6 892.1,516.9 892.3,518.2 892.6,522.0 892.9,525.1 893.1,528.2 893.3,531.3 893.5,534.4 893.7,537.6 893.8,540.7 893.9,543.9 894.0,547.0 894.1,550.2 894.2,553.3 894.2,556.5 894.3,559.6 894.3,562.8 894.4,565.9 894.4,569.1 894.4,572.2 894.5,575.4 894.5,578.6 894.5,581.7 894.5,584.9 894.5,588.1 894.6,591.2 894.6,594.4 894.6,597.6 894.6,600.7 894.6,603.9 894.6,607.1 894.6,610.2 894.6,613.4 894.6,616.6 894.6,619.7 894.6,622.9 894.6,626.1 894.6,629.2 894.6,632.4 894.6,635.6 894.6,638.7 894.6,641.9 894.6,645.1 894.6,648.2 894.6,651.4 894.6,654.6 894.6,657.7 894.6,660.9 894.6,664.1 894.6,667.3 894.6,670.4 894.6,673.6 894.6,676.8 894.6,679.9 894.6,683.1 894.6,684.1" fill="none" stroke="#c81414" stroke-width="2.3" stroke-linejoin="round" stroke-linecap="round" />
<polyline points="847.0,462.2 847.3,462.7 847.6,463.3 847.9,463.8 848.2,464.4 848.4,464.9 848.6,465.5 848.9,466.0 849.1,466.5 849.3,467.1 849.4,467.6 849.6,468.2 849.8,468.7 849.9,469.3 850.1,469.8 850.2,470.4 850.3,470.9 850.4,471.4 850.6,472.0 850.7,472.5 850.8,473.1 850.8,473.6 850.9,474.2 851.0,474.7 851.1,475.2 851.2,475.8 851.2,476.3 851.3,476.9 851.4,477.4 851.5,478.5 851.6,479.6 851.7,480.7 851.7,481.8 851.8,482.9 851.9,483.9 851.9,485.0 852.0,486.1 852.0,487.2 852.0,488.3 852.1,490.4 852.1,491.6 852.2,492.9 852.2,494.2 852.2,495.4 852.2,496.7 852.2,498.0 852.2,499.2 852.2,500.5 852.3,501.8 852.3,503.0 852.3,504.3 852.3,505.6 852.3,506.8 852.3,509.4 852.3,511.9 852.3,514.4 852.3,517.0 852.3,519.5 852.3,522.0 852.3,524.6 852.3,527.1 852.3,529.6 852.3,532.2 852.3,534.7 852.3,537.3 852.3,539.8 852.3,542.3 852.3,544.9 852.3,547.4 852.3,549.9 852.3,552.5 852.3,555.0 852.3,557.5 852.3,560.1 852.3,562.6 852.3,565.1 852.3,567.7 852.3,570.2 852.3,572.7 852.3,575.3 852.3,577.8 852.3,580.3 852.3,582.9 852.3,585.4 852.3,587.9 852.3,590.5 852.3,593.0 852.3,595.6 852.3,598.1 852.3,600.6 852.3,603.2 852.3,605.7 852.3,608.2 852.3,610.8 852.3,613.3 852.3,615.8 852.3,618.4 852.3,620.9 852.3,623.4 852.3,626.0 852.3,628.5 852.3,631.0 852.3,633.6 852.3,636.1 852.3,638.6 852.3,641.2 852.3,643.7 852.3,646.2 852.3,648.8 852.3,651.3 852.3,653.8 852.3,656.4 852.3,658.9 852.3,661.5 852.3,664.0 852.3,666.5 852.3,669.1 852.3,671.6 852.3,674.1 852.3,676.7 852.3,679.2 852.3,681.7 852.3,684.1" fill="none" stroke="#c81414" stroke-width="2.3" stroke-linejoin="round" stroke-linecap="round" />
<polyline points="847.0,462.2 847.3,462.9 847.6,463.6 847.9,464.2 848.2,464.9 848.4,465.6 848.6,466.3 848.9,467.0 849.1,467.6 849.3,468.3 849.4,469.0 849.6,469.7 849.8,470.4 849.9,471.0 850.1,471.7 850.2,472.4 850.3,473.1 850.4,473.7 850.6,474.4 850.7,475.1 850.8,475.8 850.8,476.5 850.9,477.1 851.0,477.8 851.1,478.5 851.2,479.2 851.2,479.9 851.3,480.5 851.4,481.9 851.5,483.3 851.6,484.6 851.7,486.0 851.8,487.3 851.8,488.7 851.9,490.1 851.9,491.4 852.0,492.8 852.0,494.1 852.1,495.5 852.1,497.4 852.1,499.0 852.2,500.6 852.2,502.2 852.2,503.7 852.2,505.3 852.2,506.9 852.2,508.5 852.2,510.1 852.3,511.7 852.3,513.2 852.3,514.8 852.3,516.4 852.3,518.0 852.3,519.6 852.3,521.2 852.3,522.7 852.3,524.3 852.3,525.9 852.3,527.5 852.3,529.1 852.3,530.7 852.3,532.3 852.3,533.8 852.3,535.4 852.3,537.0 852.3,538.6 852.3,540.2 852.3,541.8 852.3,543.3 852.3,544.9 852.3,546.5 852.3,548.1 852.3,549.7 852.3,551.3 852.3,552.8 852.3,554.4 852.3,556.0 852.3,557.6 852.3,559.2 852.3,560.8 852.3,562.4 852.3,563.9 852.3,565.5 852.3,567.1 852.3,568.7 852.3,570.3 852.3,571.9 852.3,573.4 852.3,575.0 852.3,576.6 852.3,578.2 852.3,579.8 852.3,581.4 852.3,582.9 852.3,584.5 852.3,586.1 852.3,587.7 852.3,589.3 852.3,590.9 852.3,592.5 852.3,594.0 852.3,595.6 852.3,597.2 852.3,598.8 852.3,600.4 852.3,602.0 852.3,603.5 852.3,605.1 852.3,606.7 852.3,608.3 852.3,609.9 852.3,611.5 852.3,613.0 852.3,614.6 852.3,616.2 852.3,617.8 852.3,619.4 852.3,621.0 852.3,622.6 852.3,624.1 852.3,625.7 852.3,627.3 852.3,628.9 852.3,630.5 852.3,632.1 852.3,633.6 852.3,635.2 852.3,636.8 852.3,638.4 852.3,640.0 852.3,641.6 852.3,643.1 852.3,644.7 852.3,646.3 852.3,647.9 852.3,649.5 852.3,651.1 852.3,652.7 852.3,654.2 852.3,655.8 852.3,657.4 852.3,659.0 852.3,660.6 852.3,662.2 852.3,663.7 852.3,665.3 852.3,666.9 852.3,668.5 852.3,670.1 852.3,671.7 852.3,673.2 852.3,674.8 852.3,676.4 852.3,678.0 852.3,679.6 852.3,681.2 852.3,682.7 852.3,684.1" fill="none" stroke="#c81414" stroke-width="2.3" stroke-linejoin="round" stroke-linecap="round" />
<polyline points="847.0,462.2 847.4,461.8 847.7,461.5 848.0,461.2 848.3,461.1 848.6,461.0 848.8,461.0 849.1,461.1 849.3,461.2 849.5,461.4 849.7,461.7 849.9,462.0 850.1,462.4 850.3,462.8 850.4,463.2 850.6,463.7 850.7,464.3 850.9,464.8 851.0,465.4 851.1,466.1 851.2,466.8 851.3,467.5 851.4,468.2 851.5,469.0 851.6,469.7 851.7,470.5 851.8,471.4 851.8,472.2 851.9,473.1 852.0,474.0 852.0,474.9 852.1,475.8 852.1,476.7 852.2,477.7 852.2,478.6 852.3,479.6 852.3,480.6 852.4,481.6 852.4,482.6 852.4,483.6 852.5,484.6 852.5,485.6 852.5,486.7 852.6,487.7 852.6,488.8 852.6,489.8 852.6,490.9 852.6,492.0 852.7,494.1 852.7,497.2 852.8,499.8 852.8,502.4 852.8,505.0 852.8,507.6 852.9,510.3 852.9,512.9 852.9,515.6 852.9,518.3 852.9,521.0 852.9,523.6 852.9,526.3 852.9,529.0 852.9,531.7 852.9,534.4 853.0,537.1 853.0,539.8 853.0,542.5 853.0,545.3 853.0,548.0 853.0,550.7 853.0,553.4 853.0,556.1 853.0,558.8 853.0,561.6 853.0,564.3 853.0,567.0 853.0,569.7 853.0,572.4 853.0,575.2 853.0,577.9 853.0,580.6 853.0,583.3 853.0,586.0 853.0,588.8 853.0,591.5 853.0,594.2 853.0,596.9 853.0,599.7 853.0,602.4 853.0,605.1 853.0,607.8 853.0,610.6 853.0,613.3 853.0,616.0 853.0,618.7 853.0,621.5 853.0,624.2 853.0,626.9 853.0,629.6 853.0,632.4 853.0,635.1 853.0,637.8 853.0,640.5 853.0,643.3 853.0,646.0 853.0,648.7 853.0,651.4 853.0,654.2 853.0,656.9 853.0,659.6 853.0,662.3 853.0,665.1 853.0,667.8 853.0,670.5 853.0,673.2 853.0,676.0 853.0,678.7 853.0,681.4 853.0,684.1" fill="none" stroke="#c81414" stroke-width="2.3" stroke-linejoin="round" stroke-linecap="round" />
<polyline points="847.0,462.2 847.3,458.7 847.6,455.6 847.8,452.7 848.1,450.1 848.3,447.8 848.5,445.7 848.7,443.9 848.9,442.2 849.1,440.8 849.2,439.5 849.4,438.5 849.5,437.6 849.7,436.8 849.8,436.2 849.9,435.8 850.0,435.4 850.2,435.2 850.4,435.2 850.5,435.5 850.7,436.3 850.8,437.3 850.9,438.7 851.0,439.4 851.0,440.2 851.1,441.1 851.1,442.1 851.2,443.0 851.2,444.1 851.3,445.1 851.3,446.3 851.3,447.4 851.4,448.6 851.4,449.8 851.4,451.1 851.5,452.4 851.5,453.7 851.5,455.0 851.5,456.4 851.5,457.8 851.6,459.2 851.6,460.6 851.6,462.1 851.6,463.5 851.6,465.0 851.7,469.3 851.7,472.9 851.7,476.6 851.7,480.4 851.8,484.2 851.8,488.0 851.8,491.9 851.8,495.8 851.8,499.8 851.8,503.7 851.8,507.7 851.8,511.7 851.8,515.7 851.8,519.8 851.8,523.8 851.9,527.8 851.9,531.9 851.9,536.0 851.9,540.1 851.9,544.1 851.9,548.2 851.9,552.3 851.9,556.4 851.9,560.5 851.9,564.6 851.9,568.7 851.9,572.8 851.9,576.9 851.9,581.0 851.9,585.1 851.9,589.2 851.9,593.4 851.9,597.5 851.9,601.6 851.9,605.7 851.9,609.8 851.9,613.9 851.9,618.0 851.9,622.2 851.9,626.3 851.9,630.4 851.9,634.5 851.9,638.6 851.9,642.7 851.9,646.9 851.9,651.0 851.9,655.1 851.9,659.2 851.9,663.3 851.9,667.5 851.9,671.6 851.9,675.7 851.9,679.8 851.9,683.9 851.9,684.1" fill="none" stroke="#c81414" stroke-width="2.3" stroke-linejoin="round" stroke-linecap="round" />
<polyline points="847.0,462.2 847.3,462.7 847.7,463.3 848.0,463.8 848.3,464.5 848.5,465.1 848.8,465.8 849.0,466.5 849.2,467.3 849.4,468.0 849.6,468.8 849.8,469.6 850.0,470.4 850.2,471.3 850.3,472.2 850.5,473.1 850.6,474.0 850.7,474.9 850.8,475.8 851.0,476.8 851.1,477.7 851.2,478.7 851.3,479.7 851.4,480.7 851.4,481.7 851.5,482.7 851.6,483.7 851.7,484.8 851.7,485.8 851.8,486.9 851.8,487.9 851.9,489.0 851.9,490.1 852.0,491.1 852.0,492.2 852.1,493.3 852.1,494.4 852.2,495.5 852.2,496.6 852.2,497.7 852.3,498.8 852.3,499.9 852.3,501.0 852.3,502.1 852.4,503.3 852.4,505.5 852.5,507.8 852.5,509.5 852.5,512.1 852.6,514.8 852.6,517.5 852.6,520.1 852.6,522.8 852.6,525.5 852.7,528.2 852.7,530.9 852.7,533.6 852.7,536.3 852.7,539.0 852.7,541.7 852.7,544.4 852.7,547.1 852.7,549.9 852.7,552.6 852.7,555.3 852.7,558.0 852.7,560.7 852.7,563.5 852.7,566.2 852.7,568.9 852.8,571.6 852.8,574.3 852.8,577.1 852.8,579.8 852.8,582.5 852.8,585.2 852.8,588.0 852.8,590.7 852.8,593.4 852.8,596.1 852.8,598.8 852.8,601.6 852.8,604.3 852.8,607.0 852.8,609.7 852.8,612.5 852.8,615.2 852.8,617.9 852.8,620.6 852.8,623.4 852.8,626.1 852.8,628.8 852.8,631.5 852.8,634.3 852.8,637.0 852.8,639.7 852.8,642.4 852.8,645.2 852.8,647.9 852.8,650.6 852.8,653.3 852.8,656.1 852.8,658.8 852.8,661.5 852.8,664.2 852.8,667.0 852.8,669.7 852.8,672.4 852.8,675.1 852.8,677.9 852.8,680.6 852.8,683.3 852.8,684.1" fill="none" stroke="#c81414" stroke-width="2.3" stroke-linejoin="round" stroke-linecap="round" />
<polyline points="851.4,462.2 861.3,461.9 870.7,461.7 879.4,461.4 887.7,461.2 895.4,461.0 902.7,460.8 909.6,460.6 916.0,460.5 922.1,460.4 927.8,460.3 933.2,460.2 938.2,460.2 943.0,460.2 947.4,460.2 951.7,460.3 955.6,460.4 959.3,460.5 962.8,460.7 966.1,461.0 969.2,461.3 972.1,461.6 974.9,462.0 977.4,462.4 979.9,462.9 982.1,463.4 984.3,463.9 986.3,464.5 988.2,465.2 990.0,465.9 991.7,466.6 993.2,467.4 994.7,468.2 996.1,469.0 997.4,469.9 998.7,470.8 999.8,471.7 1000.9,472.7 1001.9,473.7 1002.9,474.7 1003.8,475.8 1004.7,476.9 1005.5,478.0 1006.2,479.2 1007.0,480.3 1007.6,481.5 1008.3,482.7 1008.8,483.9 1009.4,485.2 1009.9,486.4 1011.2,490.1 1012.2,493.2 1013.0,496.4 1013.7,499.7 1014.3,503.0 1014.8,506.3 1015.3,509.7 1015.7,513.2 1016.0,516.6 1016.3,520.1 1016.6,523.6 1016.8,527.2 1017.0,530.8 1017.1,534.3 1017.3,537.9 1017.4,541.5 1017.5,545.1 1017.6,548.8 1017.7,552.4 1017.8,556.0 1017.8,559.7 1017.9,563.3 1017.9,567.0 1018.0,570.6 1018.0,574.3 1018.0,578.0 1018.1,581.6 1018.1,585.3 1018.1,589.0 1018.1,592.7 1018.1,596.3 1018.2,600.0 1018.2,603.7 1018.2,607.4 1018.2,611.0 1018.2,614.7 1018.2,618.4 1018.2,622.1 1018.2,625.8 1018.2,629.4 1018.2,633.1 1018.2,636.8 1018.2,640.5 1018.2,644.2 1018.2,647.9 1018.2,651.5 1018.2,655.2 1018.2,658.9 1018.2,662.6 1018.2,666.3 1018.2,670.0 1018.2,673.7 1018.2,677.3 1018.2,681.0 1018.2,684.1" fill="none" stroke="#2222e4" stroke-width="2.3" stroke-linejoin="round" stroke-linecap="round" />
<polyline points="851.4,462.2 861.4,461.9 870.8,461.7 879.7,461.4 888.0,461.2 895.8,461.0 903.2,460.8 910.1,460.6 916.6,460.5 922.7,460.4 928.5,460.3 933.9,460.2 939.0,460.2 943.8,460.2 948.3,460.2 952.5,460.3 956.5,460.4 960.3,460.5 963.8,460.7 967.1,461.0 970.3,461.3 973.2,461.6 976.0,462.0 978.6,462.4 981.0,462.9 983.3,463.4 985.5,463.9 987.5,464.5 989.4,465.2 991.2,465.9 992.9,466.6 994.5,467.4 996.0,468.2 997.4,469.0 998.7,469.9 1000.0,470.8 1001.2,471.7 1002.3,472.7 1003.3,473.7 1004.3,474.7 1005.2,475.8 1006.1,476.9 1006.9,478.0 1007.6,479.2 1008.3,480.3 1009.0,481.5 1009.7,482.7 1010.3,483.9 1010.8,485.2 1011.3,486.4 1012.7,490.1 1013.6,493.2 1014.4,496.4 1015.1,499.7 1015.7,503.0 1016.3,506.3 1016.7,509.7 1017.1,513.2 1017.5,516.6 1017.8,520.1 1018.0,523.6 1018.3,527.2 1018.5,530.8 1018.6,534.3 1018.8,537.9 1018.9,541.5 1019.0,545.1 1019.1,548.8 1019.2,552.4 1019.3,556.0 1019.3,559.7 1019.4,563.3 1019.4,567.0 1019.5,570.6 1019.5,574.3 1019.5,578.0 1019.6,581.6 1019.6,585.3 1019.6,589.0 1019.6,592.7 1019.6,596.3 1019.6,600.0 1019.7,603.7 1019.7,607.4 1019.7,611.0 1019.7,614.7 1019.7,618.4 1019.7,622.1 1019.7,625.8 1019.7,629.4 1019.7,633.1 1019.7,636.8 1019.7,640.5 1019.7,644.2 1019.7,647.9 1019.7,651.5 1019.7,655.2 1019.7,658.9 1019.7,662.6 1019.7,666.3 1019.7,670.0 1019.7,673.7 1019.7,677.3 1019.7,681.0 1019.7,684.1" fill="none" stroke="#2222e4" stroke-width="2.3" stroke-linejoin="round" stroke-linecap="round" />
<polyline points="851.4,462.2 861.5,461.9 870.9,461.7 879.8,461.4 888.1,461.2 896.0,461.0 903.4,460.8 910.3,460.6 916.9,460.5 923.0,460.4 928.8,460.3 934.2,460.2 939.3,460.2 944.2,460.2 948.7,460.2 952.9,460.3 956.9,460.4 960.7,460.5 964.3,460.7 967.6,461.0 970.7,461.3 973.7,461.6 976.5,462.0 979.1,462.4 981.5,462.9 983.8,463.4 986.0,463.9 988.0,464.5 990.0,465.2 991.8,465.9 993.5,466.6 995.1,467.4 996.6,468.2 998.0,469.0 999.3,469.9 1000.6,470.8 1001.7,471.7 1002.8,472.7 1003.9,473.7 1004.9,474.7 1005.8,475.8 1006.7,476.9 1007.5,478.0 1008.2,479.2 1009.0,480.3 1009.6,481.5 1010.3,482.7 1010.9,483.9 1011.4,485.2 1012.0,486.4 1013.3,490.1 1014.2,493.2 1015.1,496.4 1015.8,499.7 1016.4,503.0 1016.9,506.3 1017.4,509.7 1017.8,513.2 1018.1,516.6 1018.4,520.1 1018.7,523.6 1018.9,527.2 1019.1,530.8 1019.3,534.3 1019.4,537.9 1019.6,541.5 1019.7,545.1 1019.8,548.8 1019.8,552.4 1019.9,556.0 1020.0,559.7 1020.0,563.3 1020.1,567.0 1020.1,570.6 1020.2,574.3 1020.2,578.0 1020.2,581.6 1020.2,585.3 1020.3,589.0 1020.3,592.7 1020.3,596.3 1020.3,600.0 1020.3,603.7 1020.3,607.4 1020.3,611.0 1020.3,614.7 1020.3,618.4 1020.3,622.1 1020.4,625.8 1020.4,629.4 1020.4,633.1 1020.4,636.8 1020.4,640.5 1020.4,644.2 1020.4,647.9 1020.4,651.5 1020.4,655.2 1020.4,658.9 1020.4,662.6 1020.4,666.3 1020.4,670.0 1020.4,673.7 1020.4,677.3 1020.4,681.0 1020.4,684.1" fill="none" stroke="#2222e4" stroke-width="2.3" stroke-linejoin="round" stroke-linecap="round" />
<polyline points="851.4,462.2 861.5,461.9 870.9,461.7 879.8,461.4 888.2,461.2 896.1,461.0 903.5,460.8 910.5,460.6 917.0,460.5 923.2,460.4 929.0,460.3 934.4,460.2 939.6,460.2 944.4,460.2 948.9,460.2 953.2,460.3 957.2,460.4 961.0,460.5 964.5,460.7 967.9,461.0 971.0,461.3 974.0,461.6 976.7,462.0 979.4,462.4 981.8,462.9 984.1,463.4 986.3,463.9 988.4,464.5 990.3,465.2 992.1,465.9 993.8,466.6 995.4,467.4 996.9,468.2 998.3,469.0 999.7,469.9 1000.9,470.8 1002.1,471.7 1003.2,472.7 1004.3,473.7 1005.2,474.7 1006.2,475.8 1007.0,476.9 1007.8,478.0 1008.6,479.2 1009.3,480.3 1010.0,481.5 1010.7,482.7 1011.3,483.9 1011.8,485.2 1012.4,486.4 1013.7,490.1 1014.6,493.2 1015.5,496.4 1016.2,499.7 1016.8,503.0 1017.3,506.3 1017.8,509.7 1018.2,513.2 1018.5,516.6 1018.8,520.1 1019.1,523.6 1019.3,527.2 1019.5,530.8 1019.7,534.3 1019.8,537.9 1020.0,541.5 1020.1,545.1 1020.2,548.8 1020.2,552.4 1020.3,556.0 1020.4,559.7 1020.4,563.3 1020.5,567.0 1020.5,570.6 1020.6,574.3 1020.6,578.0 1020.6,581.6 1020.6,585.3 1020.7,589.0 1020.7,592.7 1020.7,596.3 1020.7,600.0 1020.7,603.7 1020.7,607.4 1020.7,611.0 1020.7,614.7 1020.7,618.4 1020.8,622.1 1020.8,625.8 1020.8,629.4 1020.8,633.1 1020.8,636.8 1020.8,640.5 1020.8,644.2 1020.8,647.9 1020.8,651.5 1020.8,655.2 1020.8,658.9 1020.8,662.6 1020.8,666.3 1020.8,670.0 1020.8,673.7 1020.8,677.3 1020.8,681.0 1020.8,684.1" fill="none" stroke="#2222e4" stroke-width="2.3" stroke-linejoin="round" stroke-linecap="round" />
<polyline points="851.4,462.2 861.5,461.9 871.0,461.7 879.9,461.4 888.3,461.2 896.2,461.0 903.6,460.8 910.6,460.6 917.2,460.5 923.3,460.4 929.2,460.3 934.6,460.2 939.8,460.2 944.6,460.2 949.1,460.2 953.4,460.3 957.4,460.4 961.2,460.5 964.8,460.7 968.1,461.0 971.3,461.3 974.3,461.6 977.0,462.0 979.7,462.4 982.1,462.9 984.4,463.4 986.6,463.9 988.7,464.5 990.6,465.2 992.4,465.9 994.1,466.6 995.7,467.4 997.2,468.2 998.7,469.0 1000.0,469.9 1001.3,470.8 1002.4,471.7 1003.6,472.7 1004.6,473.7 1005.6,474.7 1006.5,475.8 1007.4,476.9 1008.2,478.0 1009.0,479.2 1009.7,480.3 1010.4,481.5 1011.0,482.7 1011.6,483.9 1012.2,485.2 1012.7,486.4 1014.1,490.1 1015.0,493.2 1015.8,496.4 1016.5,499.7 1017.2,503.0 1017.7,506.3 1018.2,509.7 1018.6,513.2 1018.9,516.6 1019.2,520.1 1019.5,523.6 1019.7,527.2 1019.9,530.8 1020.1,534.3 1020.2,537.9 1020.3,541.5 1020.5,545.1 1020.5,548.8 1020.6,552.4 1020.7,556.0 1020.8,559.7 1020.8,563.3 1020.9,567.0 1020.9,570.6 1020.9,574.3 1021.0,578.0 1021.0,581.6 1021.0,585.3 1021.0,589.0 1021.1,592.7 1021.1,596.3 1021.1,600.0 1021.1,603.7 1021.1,607.4 1021.1,611.0 1021.1,614.7 1021.1,618.4 1021.1,622.1 1021.1,625.8 1021.2,629.4 1021.2,633.1 1021.2,636.8 1021.2,640.5 1021.2,644.2 1021.2,647.9 1021.2,651.5 1021.2,655.2 1021.2,658.9 1021.2,662.6 1021.2,666.3 1021.2,670.0 1021.2,673.7 1021.2,677.3 1021.2,681.0 1021.2,684.1" fill="none" stroke="#2222e4" stroke-width="2.3" stroke-linejoin="round" stroke-linecap="round" />
<polyline points="851.4,462.2 861.5,461.9 870.9,461.7 879.8,461.4 888.2,461.2 896.1,461.0 903.5,460.8 910.5,460.6 917.0,460.5 923.2,460.4 929.0,460.3 934.4,460.2 939.6,460.2 944.4,460.2 948.9,460.2 953.2,460.3 957.2,460.4 961.0,460.5 964.5,460.7 967.9,461.0 971.0,461.3 974.0,461.6 976.7,462.0 979.4,462.4 981.8,462.9 984.1,463.4 986.3,463.9 988.4,464.5 990.3,465.2 992.1,465.9 993.8,466.6 995.4,467.4 996.9,468.2 998.3,469.0 999.7,469.9 1000.9,470.8 1002.1,471.7 1003.2,472.7 1004.3,473.7 1005.2,474.7 1006.2,475.8 1007.0,476.9 1007.8,478.0 1008.6,479.2 1009.3,480.3 1010.0,481.5 1010.7,482.7 1011.3,483.9 1011.8,485.2 1012.4,486.4 1013.7,490.1 1014.6,493.2 1015.5,496.4 1016.2,499.7 1016.8,503.0 1017.3,506.3 1017.8,509.7 1018.2,513.2 1018.5,516.6 1018.8,520.1 1019.1,523.6 1019.3,527.2 1019.5,530.8 1019.7,534.3 1019.8,537.9 1020.0,541.5 1020.1,545.1 1020.2,548.8 1020.2,552.4 1020.3,556.0 1020.4,559.7 1020.4,563.3 1020.5,567.0 1020.5,570.6 1020.6,574.3 1020.6,578.0 1020.6,581.6 1020.6,585.3 1020.7,589.0 1020.7,592.7 1020.7,596.3 1020.7,600.0 1020.7,603.7 1020.7,607.4 1020.7,611.0 1020.7,614.7 1020.7,618.4 1020.8,622.1 1020.8,625.8 1020.8,629.4 1020.8,633.1 1020.8,636.8 1020.8,640.5 1020.8,644.2 1020.8,647.9 1020.8,651.5 1020.8,655.2 1020.8,658.9 1020.8,662.6 1020.8,666.3 1020.8,670.0 1020.8,673.7 1020.8,677.3 1020.8,681.0 1020.8,684.1" fill="none" stroke="#2222e4" stroke-width="2.3" stroke-linejoin="round" stroke-linecap="round" />
<polyline points="851.4,462.2 861.5,461.9 870.9,461.7 879.8,461.4 888.1,461.2 896.0,461.0 903.4,460.8 910.3,460.6 916.9,460.5 923.0,460.4 928.8,460.3 934.2,460.2 939.3,460.2 944.2,460.2 948.7,460.2 952.9,460.3 956.9,460.4 960.7,460.5 964.3,460.7 967.6,461.0 970.7,461.3 973.7,461.6 976.5,462.0 979.1,462.4 981.5,462.9 983.8,463.4 986.0,463.9 988.0,464.5 990.0,465.2 991.8,465.9 993.5,466.6 995.1,467.4 996.6,468.2 998.0,469.0 999.3,469.9 1000.6,470.8 1001.7,471.7 1002.8,472.7 1003.9,473.7 1004.9,474.7 1005.8,475.8 1006.7,476.9 1007.5,478.0 1008.2,479.2 1009.0,480.3 1009.6,481.5 1010.3,482.7 1010.9,483.9 1011.4,485.2 1012.0,486.4 1013.3,490.1 1014.2,493.2 1015.1,496.4 1015.8,499.7 1016.4,503.0 1016.9,506.3 1017.4,509.7 1017.8,513.2 1018.1,516.6 1018.4,520.1 1018.7,523.6 1018.9,527.2 1019.1,530.8 1019.3,534.3 1019.4,537.9 1019.6,541.5 1019.7,545.1 1019.8,548.8 1019.8,552.4 1019.9,556.0 1020.0,559.7 1020.0,563.3 1020.1,567.0 1020.1,570.6 1020.2,574.3 1020.2,578.0 1020.2,581.6 1020.2,585.3 1020.3,589.0 1020.3,592.7 1020.3,596.3 1020.3,600.0 1020.3,603.7 1020.3,607.4 1020.3,611.0 1020.3,614.7 1020.3,618.4 1020.3,622.1 1020.4,625.8 1020.4,629.4 1020.4,633.1 1020.4,636.8 1020.4,640.5 1020.4,644.2 1020.4,647.9 1020.4,651.5 1020.4,655.2 1020.4,658.9 1020.4,662.6 1020.4,666.3 1020.4,670.0 1020.4,673.7 1020.4,677.3 1020.4,681.0 1020.4,684.1" fill="none" stroke="#2222e4" stroke-width="2.3" stroke-linejoin="round" stroke-linecap="round" />
<polyline points="851.4,462.2 861.4,461.9 870.8,461.7 879.7,461.4 888.0,461.2 895.8,461.0 903.2,460.8 910.1,460.6 916.6,460.5 922.7,460.4 928.5,460.3 933.9,460.2 939.0,460.2 943.8,460.2 948.3,460.2 952.5,460.3 956.5,460.4 960.3,460.5 963.8,460.7 967.1,461.0 970.3,461.3 973.2,461.6 976.0,462.0 978.6,462.4 981.0,462.9 983.3,463.4 985.5,463.9 987.5,464.5 989.4,465.2 991.2,465.9 992.9,466.6 994.5,467.4 996.0,468.2 997.4,469.0 998.7,469.9 1000.0,470.8 1001.2,471.7 1002.3,472.7 1003.3,473.7 1004.3,474.7 1005.2,475.8 1006.1,476.9 1006.9,478.0 1007.6,479.2 1008.3,480.3 1009.0,481.5 1009.7,482.7 1010.3,483.9 1010.8,485.2 1011.3,486.4 1012.7,490.1 1013.6,493.2 1014.4,496.4 1015.1,499.7 1015.7,503.0 1016.3,506.3 1016.7,509.7 1017.1,513.2 1017.5,516.6 1017.8,520.1 1018.0,523.6 1018.3,527.2 1018.5,530.8 1018.6,534.3 1018.8,537.9 1018.9,541.5 1019.0,545.1 1019.1,548.8 1019.2,552.4 1019.3,556.0 1019.3,559.7 1019.4,563.3 1019.4,567.0 1019.5,570.6 1019.5,574.3 1019.5,578.0 1019.6,581.6 1019.6,585.3 1019.6,589.0 1019.6,592.7 1019.6,596.3 1019.6,600.0 1019.7,603.7 1019.7,607.4 1019.7,611.0 1019.7,614.7 1019.7,618.4 1019.7,622.1 1019.7,625.8 1019.7,629.4 1019.7,633.1 1019.7,636.8 1019.7,640.5 1019.7,644.2 1019.7,647.9 1019.7,651.5 1019.7,655.2 1019.7,658.9 1019.7,662.6 1019.7,666.3 1019.7,670.0 1019.7,673.7 1019.7,677.3 1019.7,681.0 1019.7,684.1" fill="none" stroke="#2222e4" stroke-width="2.3" stroke-linejoin="round" stroke-linecap="round" />
<polyline points="851.4,462.2 861.3,461.9 870.7,461.7 879.4,461.4 887.7,461.2 895.4,461.0 902.7,460.8 909.6,460.6 916.0,460.5 922.1,460.4 927.8,460.3 933.2,460.2 938.2,460.2 943.0,460.2 947.4,460.2 951.7,460.3 955.6,460.4 959.3,460.5 962.8,460.7 966.1,461.0 969.2,461.3 972.1,461.6 974.9,462.0 977.4,462.4 979.9,462.9 982.1,463.4 984.3,463.9 986.3,464.5 988.2,465.2 990.0,465.9 991.7,466.6 993.2,467.4 994.7,468.2 996.1,469.0 997.4,469.9 998.7,470.8 999.8,471.7 1000.9,472.7 1001.9,473.7 1002.9,474.7 1003.8,475.8 1004.7,476.9 1005.5,478.0 1006.2,479.2 1007.0,480.3 1007.6,481.5 1008.3,482.7 1008.8,483.9 1009.4,485.2 1009.9,486.4 1011.2,490.1 1012.2,493.2 1013.0,496.4 1013.7,499.7 1014.3,503.0 1014.8,506.3 1015.3,509.7 1015.7,513.2 1016.0,516.6 1016.3,520.1 1016.6,523.6 1016.8,527.2 1017.0,530.8 1017.1,534.3 1017.3,537.9 1017.4,541.5 1017.5,545.1 1017.6,548.8 1017.7,552.4 1017.8,556.0 1017.8,559.7 1017.9,563.3 1017.9,567.0 1018.0,570.6 1018.0,574.3 1018.0,578.0 1018.1,581.6 1018.1,585.3 1018.1,589.0 1018.1,592.7 1018.1,596.3 1018.2,600.0 1018.2,603.7 1018.2,607.4 1018.2,611.0 1018.2,614.7 1018.2,618.4 1018.2,622.1 1018.2,625.8 1018.2,629.4 1018.2,633.1 1018.2,636.8 1018.2,640.5 1018.2,644.2 1018.2,647.9 1018.2,651.5 1018.2,655.2 1018.2,658.9 1018.2,662.6 1018.2,666.3 1018.2,670.0 1018.2,673.7 1018.2,677.3 1018.2,681.0 1018.2,684.1" fill="none" stroke="#2222e4" stroke-width="2.3" stroke-linejoin="round" stroke-linecap="round" />
<polyline points="851.4,462.2 861.5,460.3 871.0,458.4 879.9,456.7 888.3,455.1 896.2,453.6 903.6,452.2 910.6,450.9 917.2,449.6 923.3,448.5 929.2,447.4 934.6,446.5 939.8,445.6 944.6,444.8 949.1,444.1 953.4,443.4 957.4,442.9 961.2,442.4 964.8,442.0 968.1,441.7 971.3,441.5 974.3,441.3 977.0,441.2 979.7,441.2 982.1,441.3 984.4,441.4 986.6,441.6 988.7,441.9 990.6,442.2 992.4,442.6 994.1,443.0 995.7,443.5 997.2,444.1 998.7,444.7 1000.0,445.3 1001.3,446.0 1002.4,446.8 1003.6,447.6 1004.6,448.4 1005.6,449.3 1006.5,450.2 1007.4,451.1 1008.2,452.1 1009.0,453.1 1009.7,454.2 1010.4,455.2 1011.0,456.3 1011.6,457.5 1012.2,458.6 1012.7,459.8 1014.1,463.2 1015.0,466.2 1015.8,469.3 1016.5,472.4 1017.2,475.6 1017.7,478.9 1018.2,482.2 1018.6,485.5 1018.9,489.0 1019.2,492.4 1019.5,495.9 1019.7,499.4 1019.9,502.9 1020.1,506.5 1020.2,510.0 1020.3,513.6 1020.5,517.2 1020.5,520.8 1020.6,524.4 1020.7,528.1 1020.8,531.7 1020.8,535.3 1020.9,539.0 1020.9,542.6 1020.9,546.3 1021.0,550.0 1021.0,553.6 1021.0,557.3 1021.0,561.0 1021.1,564.6 1021.1,568.3 1021.1,572.0 1021.1,575.7 1021.1,579.3 1021.1,583.0 1021.1,586.7 1021.1,590.4 1021.1,594.0 1021.1,597.7 1021.2,601.4 1021.2,605.1 1021.2,608.8 1021.2,612.5 1021.2,616.1 1021.2,619.8 1021.2,623.5 1021.2,627.2 1021.2,630.9 1021.2,634.6 1021.2,638.2 1021.2,641.9 1021.2,645.6 1021.2,649.3 1021.2,653.0 1021.2,656.7 1021.2,660.3 1021.2,664.0 1021.2,667.7 1021.2,671.4 1021.2,675.1 1021.2,678.8 1021.2,682.5 1021.2,684.1" fill="none" stroke="#2222e4" stroke-width="2.3" stroke-linejoin="round" stroke-linecap="round" />
<polyline points="851.4,462.2 861.5,460.8 871.0,459.4 879.9,458.2 888.3,457.0 896.2,455.9 903.6,454.9 910.6,453.9 917.2,453.0 923.3,452.2 929.2,451.4 934.6,450.7 939.8,450.1 944.6,449.5 949.1,449.0 953.4,448.6 957.4,448.3 961.2,448.0 964.8,447.8 968.1,447.7 971.3,447.6 974.3,447.6 977.0,447.6 979.7,447.8 982.1,448.0 984.4,448.2 986.6,448.5 988.7,448.9 990.6,449.3 992.4,449.8 994.1,450.3 995.7,450.9 997.2,451.5 998.7,452.2 1000.0,452.9 1001.3,453.7 1002.4,454.5 1003.6,455.3 1004.6,456.2 1005.6,457.1 1006.5,458.1 1007.4,459.1 1008.2,460.1 1009.0,461.2 1009.7,462.2 1010.4,463.4 1011.0,464.5 1011.6,465.6 1012.2,466.8 1012.7,468.0 1014.1,471.5 1015.0,474.6 1015.8,477.6 1016.5,480.8 1017.2,484.1 1017.7,487.3 1018.2,490.7 1018.6,494.1 1018.9,497.5 1019.2,501.0 1019.5,504.5 1019.7,508.0 1019.9,511.5 1020.1,515.1 1020.2,518.7 1020.3,522.2 1020.5,525.8 1020.5,529.5 1020.6,533.1 1020.7,536.7 1020.8,540.4 1020.8,544.0 1020.9,547.6 1020.9,551.3 1020.9,555.0 1021.0,558.6 1021.0,562.3 1021.0,566.0 1021.0,569.6 1021.1,573.3 1021.1,577.0 1021.1,580.6 1021.1,584.3 1021.1,588.0 1021.1,591.7 1021.1,595.4 1021.1,599.0 1021.1,602.7 1021.1,606.4 1021.2,610.1 1021.2,613.8 1021.2,617.4 1021.2,621.1 1021.2,624.8 1021.2,628.5 1021.2,632.2 1021.2,635.9 1021.2,639.5 1021.2,643.2 1021.2,646.9 1021.2,650.6 1021.2,654.3 1021.2,658.0 1021.2,661.6 1021.2,665.3 1021.2,669.0 1021.2,672.7 1021.2,676.4 1021.2,680.1 1021.2,683.8 1021.2,684.1" fill="none" stroke="#2222e4" stroke-width="2.3" stroke-linejoin="round" stroke-linecap="round" />
<polyline points="851.4,462.2 861.5,461.1 871.0,460.1 879.9,459.2 888.3,458.3 896.2,457.5 903.6,456.7 910.6,456.0 917.2,455.3 923.3,454.7 929.2,454.1 934.6,453.6 939.8,453.2 944.6,452.8 949.1,452.5 953.4,452.2 957.4,452.0 961.2,451.9 964.8,451.8 968.1,451.8 971.3,451.8 974.3,451.9 977.0,452.0 979.7,452.3 982.1,452.5 984.4,452.9 986.6,453.2 988.7,453.7 990.6,454.2 992.4,454.7 994.1,455.3 995.7,455.9 997.2,456.6 998.7,457.4 1000.0,458.1 1001.3,458.9 1002.4,459.8 1003.6,460.7 1004.6,461.6 1005.6,462.5 1006.5,463.5 1007.4,464.6 1008.2,465.6 1009.0,466.7 1009.7,467.8 1010.4,468.9 1011.0,470.1 1011.6,471.3 1012.2,472.5 1012.7,473.7 1014.1,477.2 1015.0,480.3 1015.8,483.4 1016.5,486.6 1017.2,489.9 1017.7,493.2 1018.2,496.5 1018.6,499.9 1018.9,503.4 1019.2,506.9 1019.5,510.4 1019.7,513.9 1019.9,517.4 1020.1,521.0 1020.2,524.6 1020.3,528.2 1020.5,531.8 1020.5,535.4 1020.6,539.0 1020.7,542.6 1020.8,546.3 1020.8,549.9 1020.9,553.6 1020.9,557.2 1020.9,560.9 1021.0,564.6 1021.0,568.2 1021.0,571.9 1021.0,575.6 1021.1,579.2 1021.1,582.9 1021.1,586.6 1021.1,590.3 1021.1,593.9 1021.1,597.6 1021.1,601.3 1021.1,605.0 1021.1,608.7 1021.1,612.3 1021.2,616.0 1021.2,619.7 1021.2,623.4 1021.2,627.1 1021.2,630.8 1021.2,634.4 1021.2,638.1 1021.2,641.8 1021.2,645.5 1021.2,649.2 1021.2,652.9 1021.2,656.5 1021.2,660.2 1021.2,663.9 1021.2,667.6 1021.2,671.3 1021.2,675.0 1021.2,678.6 1021.2,682.3 1021.2,684.1" fill="none" stroke="#2222e4" stroke-width="2.3" stroke-linejoin="round" stroke-linecap="round" />
<polyline points="851.4,462.2 861.5,461.4 871.0,460.6 879.9,459.9 888.3,459.2 896.2,458.5 903.6,457.9 910.6,457.4 917.2,456.9 923.3,456.4 929.2,456.0 934.6,455.6 939.8,455.3 944.6,455.0 949.1,454.8 953.4,454.7 957.4,454.5 961.2,454.5 964.8,454.5 968.1,454.6 971.3,454.7 974.3,454.8 977.0,455.1 979.7,455.3 982.1,455.7 984.4,456.1 986.6,456.5 988.7,457.0 990.6,457.5 992.4,458.1 994.1,458.7 995.7,459.4 997.2,460.1 998.7,460.9 1000.0,461.7 1001.3,462.5 1002.4,463.4 1003.6,464.3 1004.6,465.3 1005.6,466.3 1006.5,467.3 1007.4,468.3 1008.2,469.4 1009.0,470.5 1009.7,471.6 1010.4,472.7 1011.0,473.9 1011.6,475.1 1012.2,476.3 1012.7,477.6 1014.1,481.2 1015.0,484.2 1015.8,487.4 1016.5,490.6 1017.2,493.8 1017.7,497.2 1018.2,500.5 1018.6,504.0 1018.9,507.4 1019.2,510.9 1019.5,514.4 1019.7,517.9 1019.9,521.5 1020.1,525.0 1020.2,528.6 1020.3,532.2 1020.5,535.8 1020.5,539.5 1020.6,543.1 1020.7,546.7 1020.8,550.4 1020.8,554.0 1020.9,557.7 1020.9,561.3 1020.9,565.0 1021.0,568.6 1021.0,572.3 1021.0,576.0 1021.0,579.6 1021.1,583.3 1021.1,587.0 1021.1,590.7 1021.1,594.3 1021.1,598.0 1021.1,601.7 1021.1,605.4 1021.1,609.1 1021.1,612.7 1021.1,616.4 1021.2,620.1 1021.2,623.8 1021.2,627.5 1021.2,631.1 1021.2,634.8 1021.2,638.5 1021.2,642.2 1021.2,645.9 1021.2,649.6 1021.2,653.3 1021.2,656.9 1021.2,660.6 1021.2,664.3 1021.2,668.0 1021.2,671.7 1021.2,675.4 1021.2,679.0 1021.2,682.7 1021.2,684.1" fill="none" stroke="#2222e4" stroke-width="2.3" stroke-linejoin="round" stroke-linecap="round" />
<polyline points="851.4,462.2 861.5,462.5 871.0,462.8 879.9,463.1 888.3,463.3 896.2,463.6 903.6,463.8 910.6,464.1 917.2,464.3 923.3,464.5 929.2,464.8 934.6,465.0 939.8,465.3 944.6,465.6 949.1,465.9 953.4,466.2 957.4,466.5 961.2,466.9 964.8,467.3 968.1,467.8 971.3,468.2 974.3,468.7 977.0,469.3 979.7,469.9 982.1,470.5 984.4,471.1 986.6,471.8 988.7,472.5 990.6,473.3 992.4,474.1 994.1,474.9 995.7,475.7 997.2,476.6 998.7,477.6 1000.0,478.5 1001.3,479.5 1002.4,480.5 1003.6,481.5 1004.6,482.6 1005.6,483.7 1006.5,484.8 1007.4,486.0 1008.2,487.1 1009.0,488.3 1009.7,489.5 1010.4,490.7 1011.0,492.0 1011.6,493.2 1012.2,494.5 1012.7,495.8 1014.1,499.6 1015.0,502.7 1015.8,506.0 1016.5,509.3 1017.2,512.6 1017.7,516.0 1018.2,519.4 1018.6,522.9 1018.9,526.4 1019.2,529.9 1019.5,533.4 1019.7,537.0 1019.9,540.5 1020.1,544.1 1020.2,547.7 1020.3,551.3 1020.5,555.0 1020.5,558.6 1020.6,562.2 1020.7,565.9 1020.8,569.5 1020.8,573.2 1020.9,576.8 1020.9,580.5 1020.9,584.2 1021.0,587.8 1021.0,591.5 1021.0,595.2 1021.0,598.8 1021.1,602.5 1021.1,606.2 1021.1,609.9 1021.1,613.5 1021.1,617.2 1021.1,620.9 1021.1,624.6 1021.1,628.3 1021.1,631.9 1021.1,635.6 1021.2,639.3 1021.2,643.0 1021.2,646.7 1021.2,650.4 1021.2,654.0 1021.2,657.7 1021.2,661.4 1021.2,665.1 1021.2,668.8 1021.2,672.5 1021.2,676.1 1021.2,679.8 1021.2,683.5 1021.2,684.1" fill="none" stroke="#2222e4" stroke-width="2.3" stroke-linejoin="round" stroke-linecap="round" />
<polyline points="851.4,462.2 861.5,462.9 871.0,463.6 879.9,464.2 888.3,464.8 896.2,465.3 903.6,465.8 910.6,466.3 917.2,466.8 923.3,467.3 929.2,467.7 934.6,468.2 939.8,468.7 944.6,469.1 949.1,469.6 953.4,470.1 957.4,470.6 961.2,471.1 964.8,471.6 968.1,472.2 971.3,472.8 974.3,473.4 977.0,474.1 979.7,474.7 982.1,475.4 984.4,476.2 986.6,476.9 988.7,477.7 990.6,478.6 992.4,479.4 994.1,480.3 995.7,481.2 997.2,482.2 998.7,483.2 1000.0,484.2 1001.3,485.2 1002.4,486.2 1003.6,487.3 1004.6,488.4 1005.6,489.6 1006.5,490.7 1007.4,491.9 1008.2,493.1 1009.0,494.3 1009.7,495.5 1010.4,496.8 1011.0,498.0 1011.6,499.3 1012.2,500.6 1012.7,502.0 1014.1,505.7 1015.0,509.0 1015.8,512.2 1016.5,515.5 1017.2,518.9 1017.7,522.3 1018.2,525.8 1018.6,529.2 1018.9,532.7 1019.2,536.3 1019.5,539.8 1019.7,543.4 1019.9,546.9 1020.1,550.5 1020.2,554.1 1020.3,557.8 1020.5,561.4 1020.5,565.0 1020.6,568.7 1020.7,572.3 1020.8,576.0 1020.8,579.6 1020.9,583.3 1020.9,586.9 1020.9,590.6 1021.0,594.3 1021.0,597.9 1021.0,601.6 1021.0,605.3 1021.1,609.0 1021.1,612.6 1021.1,616.3 1021.1,620.0 1021.1,623.7 1021.1,627.4 1021.1,631.0 1021.1,634.7 1021.1,638.4 1021.1,642.1 1021.2,645.8 1021.2,649.4 1021.2,653.1 1021.2,656.8 1021.2,660.5 1021.2,664.2 1021.2,667.9 1021.2,671.5 1021.2,675.2 1021.2,678.9 1021.2,682.6 1021.2,684.1" fill="none" stroke="#2222e4" stroke-width="2.3" stroke-linejoin="round" stroke-linecap="round" />
<polyline points="851.4,462.2 861.5,463.3 871.0,464.3 879.9,465.3 888.3,466.2 896.2,467.0 903.6,467.9 910.6,468.6 917.2,469.4 923.3,470.1 929.2,470.8 934.6,471.4 939.8,472.1 944.6,472.8 949.1,473.4 953.4,474.1 957.4,474.7 961.2,475.4 964.8,476.1 968.1,476.8 971.3,477.5 974.3,478.2 977.0,479.0 979.7,479.7 982.1,480.5 984.4,481.4 986.6,482.2 988.7,483.1 990.6,484.0 992.4,484.9 994.1,485.9 995.7,486.9 997.2,487.9 998.7,488.9 1000.0,490.0 1001.3,491.0 1002.4,492.1 1003.6,493.3 1004.6,494.4 1005.6,495.6 1006.5,496.8 1007.4,498.0 1008.2,499.2 1009.0,500.4 1009.7,501.7 1010.4,503.0 1011.0,504.3 1011.6,505.6 1012.2,506.9 1012.7,508.3 1014.1,512.1 1015.0,515.3 1015.8,518.6 1016.5,522.0 1017.2,525.4 1017.7,528.8 1018.2,532.3 1018.6,535.8 1018.9,539.3 1019.2,542.8 1019.5,546.4 1019.7,549.9 1019.9,553.5 1020.1,557.1 1020.2,560.7 1020.3,564.4 1020.5,568.0 1020.5,571.6 1020.6,575.3 1020.7,578.9 1020.8,582.6 1020.8,586.2 1020.9,589.9 1020.9,593.6 1020.9,597.2 1021.0,600.9 1021.0,604.6 1021.0,608.2 1021.0,611.9 1021.1,615.6 1021.1,619.3 1021.1,622.9 1021.1,626.6 1021.1,630.3 1021.1,634.0 1021.1,637.7 1021.1,641.3 1021.1,645.0 1021.1,648.7 1021.2,652.4 1021.2,656.1 1021.2,659.8 1021.2,663.4 1021.2,667.1 1021.2,670.8 1021.2,674.5 1021.2,678.2 1021.2,681.9 1021.2,684.1" fill="none" stroke="#2222e4" stroke-width="2.3" stroke-linejoin="round" stroke-linecap="round" />
<polyline points="851.4,462.2 861.5,464.0 871.0,465.6 879.9,467.2 888.3,468.6 896.2,470.0 903.6,471.3 910.6,472.5 917.2,473.7 923.3,474.8 929.2,475.9 934.6,476.9 939.8,477.9 944.6,478.9 949.1,479.9 953.4,480.8 957.4,481.7 961.2,482.6 964.8,483.6 968.1,484.5 971.3,485.4 974.3,486.3 977.0,487.3 979.7,488.2 982.1,489.2 984.4,490.2 986.6,491.2 988.7,492.2 990.6,493.2 992.4,494.2 994.1,495.3 995.7,496.4 997.2,497.5 998.7,498.6 1000.0,499.8 1001.3,500.9 1002.4,502.1 1003.6,503.3 1004.6,504.5 1005.6,505.8 1006.5,507.0 1007.4,508.3 1008.2,509.6 1009.0,510.9 1009.7,512.2 1010.4,513.5 1011.0,514.8 1011.6,516.2 1012.2,517.5 1012.7,518.9 1014.1,522.8 1015.0,526.1 1015.8,529.5 1016.5,532.9 1017.2,536.3 1017.7,539.8 1018.2,543.3 1018.6,546.8 1018.9,550.3 1019.2,553.9 1019.5,557.5 1019.7,561.1 1019.9,564.7 1020.1,568.3 1020.2,571.9 1020.3,575.5 1020.5,579.2 1020.5,582.8 1020.6,586.5 1020.7,590.1 1020.8,593.8 1020.8,597.4 1020.9,601.1 1020.9,604.8 1020.9,608.4 1021.0,612.1 1021.0,615.8 1021.0,619.4 1021.0,623.1 1021.1,626.8 1021.1,630.5 1021.1,634.2 1021.1,637.8 1021.1,641.5 1021.1,645.2 1021.1,648.9 1021.1,652.6 1021.1,656.2 1021.1,659.9 1021.2,663.6 1021.2,667.3 1021.2,671.0 1021.2,674.7 1021.2,678.3 1021.2,682.0 1021.2,684.1" fill="none" stroke="#2222e4" stroke-width="2.3" stroke-linejoin="round" stroke-linecap="round" />
<rect x="770" y="387.5" width="264.70000000000005" height="310.20000000000005" fill="none" stroke="#000" stroke-width="2.2"/>
<line x1="776.1" y1="697.7" x2="776.1" y2="694.7" stroke="#000" stroke-width="1" />
<line x1="785.0" y1="697.7" x2="785.0" y2="694.7" stroke="#000" stroke-width="1" />
<line x1="793.8" y1="697.7" x2="793.8" y2="694.7" stroke="#000" stroke-width="1" />
<line x1="802.7" y1="697.7" x2="802.7" y2="691.7" stroke="#000" stroke-width="1.5" />
<line x1="811.5" y1="697.7" x2="811.5" y2="694.7" stroke="#000" stroke-width="1" />
<line x1="820.4" y1="697.7" x2="820.4" y2="694.7" stroke="#000" stroke-width="1" />
<line x1="829.3" y1="697.7" x2="829.3" y2="694.7" stroke="#000" stroke-width="1" />
<line x1="838.1" y1="697.7" x2="838.1" y2="694.7" stroke="#000" stroke-width="1" />
<line x1="847.0" y1="697.7" x2="847.0" y2="691.7" stroke="#000" stroke-width="1.5" />
<line x1="855.9" y1="697.7" x2="855.9" y2="694.7" stroke="#000" stroke-width="1" />
<line x1="864.7" y1="697.7" x2="864.7" y2="694.7" stroke="#000" stroke-width="1" />
<line x1="873.6" y1="697.7" x2="873.6" y2="694.7" stroke="#000" stroke-width="1" />
<line x1="882.5" y1="697.7" x2="882.5" y2="694.7" stroke="#000" stroke-width="1" />
<line x1="891.3" y1="697.7" x2="891.3" y2="691.7" stroke="#000" stroke-width="1.5" />
<line x1="900.2" y1="697.7" x2="900.2" y2="694.7" stroke="#000" stroke-width="1" />
<line x1="909.0" y1="697.7" x2="909.0" y2="694.7" stroke="#000" stroke-width="1" />
<line x1="917.9" y1="697.7" x2="917.9" y2="694.7" stroke="#000" stroke-width="1" />
<line x1="926.8" y1="697.7" x2="926.8" y2="694.7" stroke="#000" stroke-width="1" />
<line x1="935.6" y1="697.7" x2="935.6" y2="691.7" stroke="#000" stroke-width="1.5" />
<line x1="944.5" y1="697.7" x2="944.5" y2="694.7" stroke="#000" stroke-width="1" />
<line x1="953.4" y1="697.7" x2="953.4" y2="694.7" stroke="#000" stroke-width="1" />
<line x1="962.2" y1="697.7" x2="962.2" y2="694.7" stroke="#000" stroke-width="1" />
<line x1="971.1" y1="697.7" x2="971.1" y2="694.7" stroke="#000" stroke-width="1" />
<line x1="980.0" y1="697.7" x2="980.0" y2="691.7" stroke="#000" stroke-width="1.5" />
<line x1="988.8" y1="697.7" x2="988.8" y2="694.7" stroke="#000" stroke-width="1" />
<line x1="997.7" y1="697.7" x2="997.7" y2="694.7" stroke="#000" stroke-width="1" />
<line x1="1006.6" y1="697.7" x2="1006.6" y2="694.7" stroke="#000" stroke-width="1" />
<line x1="1015.4" y1="697.7" x2="1015.4" y2="694.7" stroke="#000" stroke-width="1" />
<line x1="1024.3" y1="697.7" x2="1024.3" y2="691.7" stroke="#000" stroke-width="1.5" />
<line x1="1033.1" y1="697.7" x2="1033.1" y2="694.7" stroke="#000" stroke-width="1" />
<line x1="1034.7" y1="684.1" x2="1025.7" y2="684.1" stroke="#000" stroke-width="1.5" />
<line x1="1034.7" y1="661.9" x2="1031.7" y2="661.9" stroke="#000" stroke-width="1" />
<line x1="1034.7" y1="639.7" x2="1031.7" y2="639.7" stroke="#000" stroke-width="1" />
<line x1="1034.7" y1="617.5" x2="1031.7" y2="617.5" stroke="#000" stroke-width="1" />
<line x1="1034.7" y1="595.3" x2="1031.7" y2="595.3" stroke="#000" stroke-width="1" />
<line x1="1034.7" y1="573.1" x2="1025.7" y2="573.1" stroke="#000" stroke-width="1.5" />
<line x1="1034.7" y1="551.0" x2="1031.7" y2="551.0" stroke="#000" stroke-width="1" />
<line x1="1034.7" y1="528.8" x2="1031.7" y2="528.8" stroke="#000" stroke-width="1" />
<line x1="1034.7" y1="506.6" x2="1031.7" y2="506.6" stroke="#000" stroke-width="1" />
<line x1="1034.7" y1="484.4" x2="1031.7" y2="484.4" stroke="#000" stroke-width="1" />
<line x1="1034.7" y1="462.2" x2="1025.7" y2="462.2" stroke="#000" stroke-width="1.5" />
<line x1="1034.7" y1="440.0" x2="1031.7" y2="440.0" stroke="#000" stroke-width="1" />
<line x1="1034.7" y1="417.8" x2="1031.7" y2="417.8" stroke="#000" stroke-width="1" />
<line x1="1034.7" y1="395.6" x2="1031.7" y2="395.6" stroke="#000" stroke-width="1" />
<text x="802.7" y="709.5" font-family="Liberation Sans" font-size="10.5" font-weight="bold" text-anchor="middle" >-0.2</text>
<text x="847.0" y="709.5" font-family="Liberation Sans" font-size="10.5" font-weight="bold" text-anchor="middle" >0</text>
<text x="891.3" y="709.5" font-family="Liberation Sans" font-size="10.5" font-weight="bold" text-anchor="middle" >0.2</text>
<text x="935.6" y="709.5" font-family="Liberation Sans" font-size="10.5" font-weight="bold" text-anchor="middle" >0.4</text>
<text x="980.0" y="709.5" font-family="Liberation Sans" font-size="10.5" font-weight="bold" text-anchor="middle" >0.6</text>
<text x="1024.3" y="709.5" font-family="Liberation Sans" font-size="10.5" font-weight="bold" text-anchor="middle" >0.8</text>
<text x="1039.0" y="466.0" font-family="Liberation Sans" font-size="10.5" font-weight="bold" text-anchor="start" >1</text>
<text x="1039.0" y="576.9" font-family="Liberation Sans" font-size="10.5" font-weight="bold" text-anchor="start" >0.5</text>
<text x="1039.0" y="687.9" font-family="Liberation Sans" font-size="10.5" font-weight="bold" text-anchor="start" >0</text>
<text x="902.0" y="740.5" font-family="Liberation Sans" font-size="16" font-weight="bold" text-anchor="middle" >X (m)</text>
<text x="1073.0" y="543.0" font-family="Liberation Sans" font-size="16" font-weight="bold" text-anchor="middle" transform="rotate(-90 1073 543)" dy="5">H (m)</text>
<text x="533.0" y="617.0" font-family="Liberation Sans" font-size="28" font-weight="normal" text-anchor="middle" >(a)</text>
<text x="914.0" y="298.0" font-family="Liberation Sans" font-size="28" font-weight="normal" text-anchor="middle" >(b)</text>
<text x="914.0" y="782.0" font-family="Liberation Sans" font-size="28" font-weight="normal" text-anchor="middle" >(c)</text>
</svg></body></html>
